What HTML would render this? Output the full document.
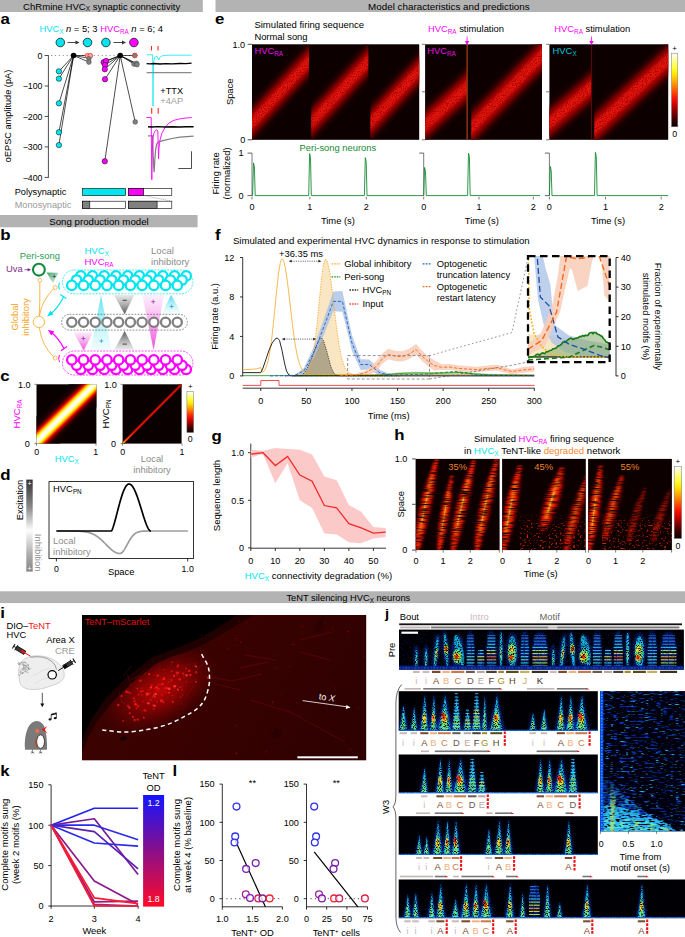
<!DOCTYPE html>
<html><head><meta charset="utf-8"><title>Figure</title>
<style>
html,body{margin:0;padding:0;background:#fff;}
body{width:685px;height:937px;overflow:hidden;font-family:"Liberation Sans",sans-serif;}
svg{display:block;position:absolute;left:0;top:0;}
svg text{font-family:"Liberation Sans",sans-serif;}
</style></head><body>
<svg width="685" height="937" viewBox="0 0 685 937">
<defs>
<linearGradient id="gcy1" gradientUnits="userSpaceOnUse" x1="0" y1="295" x2="0" y2="350"><stop offset="0" stop-color="#5fe3f0" stop-opacity="0.95"/><stop offset="0.45" stop-color="#9beef6" stop-opacity="0.8"/><stop offset="1" stop-color="#e2fafc" stop-opacity="0.5"/></linearGradient>
<linearGradient id="ggr1" gradientUnits="userSpaceOnUse" x1="0" y1="295" x2="0" y2="314.3"><stop offset="0" stop-color="#d9d9d9" stop-opacity="0.6"/><stop offset="1" stop-color="#555" stop-opacity="1"/></linearGradient>
<linearGradient id="gmg1" gradientUnits="userSpaceOnUse" x1="0" y1="295" x2="0" y2="350.3"><stop offset="0" stop-color="#fde8fb" stop-opacity="0.7"/><stop offset="0.45" stop-color="#f9a8ee" stop-opacity="0.9"/><stop offset="1" stop-color="#ee50dd" stop-opacity="1"/></linearGradient>
<linearGradient id="gcy2" gradientUnits="userSpaceOnUse" x1="0" y1="295" x2="0" y2="313.5"><stop offset="0" stop-color="#48d6ee" stop-opacity="1"/><stop offset="1" stop-color="#e8fbfd" stop-opacity="0.4"/></linearGradient>
<linearGradient id="gmg2" gradientUnits="userSpaceOnUse" x1="0" y1="332" x2="0" y2="350.8"><stop offset="0" stop-color="#fbe3f8" stop-opacity="0.7"/><stop offset="1" stop-color="#ee55dd" stop-opacity="1"/></linearGradient>
<linearGradient id="ggr2" gradientUnits="userSpaceOnUse" x1="0" y1="331" x2="0" y2="349.7"><stop offset="0" stop-color="#555" stop-opacity="1"/><stop offset="1" stop-color="#dcdcdc" stop-opacity="0.6"/></linearGradient>
<linearGradient id="ggn" gradientUnits="userSpaceOnUse" x1="47" y1="272" x2="60" y2="284"><stop offset="0" stop-color="#2c9a5c" stop-opacity="0.95"/><stop offset="1" stop-color="#cfeadb" stop-opacity="0.5"/></linearGradient>
<clipPath id="cpc1"><rect x="36.5" y="384.3" width="59.900000000000006" height="59.30000000000001"/></clipPath>
<linearGradient id="gband" x1="0" y1="0" x2="0" y2="1"><stop offset="0" stop-color="#0a0000"/><stop offset="0.03" stop-color="#0b0000"/><stop offset="0.06" stop-color="#0b0000"/><stop offset="0.08" stop-color="#0d0000"/><stop offset="0.11" stop-color="#0f0000"/><stop offset="0.14" stop-color="#130000"/><stop offset="0.17" stop-color="#1b0000"/><stop offset="0.19" stop-color="#260000"/><stop offset="0.22" stop-color="#390000"/><stop offset="0.25" stop-color="#5f0000"/><stop offset="0.28" stop-color="#950000"/><stop offset="0.31" stop-color="#dc0000"/><stop offset="0.33" stop-color="#ff2d00"/><stop offset="0.36" stop-color="#ff8300"/><stop offset="0.39" stop-color="#ffd900"/><stop offset="0.42" stop-color="#ffff3e"/><stop offset="0.44" stop-color="#ffffa1"/><stop offset="0.47" stop-color="#ffffe7"/><stop offset="0.5" stop-color="#ffffff"/><stop offset="0.53" stop-color="#ffffe7"/><stop offset="0.56" stop-color="#ffffa1"/><stop offset="0.58" stop-color="#ffff3e"/><stop offset="0.61" stop-color="#ffd900"/><stop offset="0.64" stop-color="#ff8300"/><stop offset="0.67" stop-color="#ff2d00"/><stop offset="0.69" stop-color="#dc0000"/><stop offset="0.72" stop-color="#950000"/><stop offset="0.75" stop-color="#5f0000"/><stop offset="0.78" stop-color="#390000"/><stop offset="0.81" stop-color="#260000"/><stop offset="0.83" stop-color="#1b0000"/><stop offset="0.86" stop-color="#130000"/><stop offset="0.89" stop-color="#0f0000"/><stop offset="0.92" stop-color="#0d0000"/><stop offset="0.94" stop-color="#0b0000"/><stop offset="0.97" stop-color="#0b0000"/><stop offset="1" stop-color="#0a0000"/></linearGradient>
<clipPath id="cpc2"><rect x="122.6" y="384.3" width="59.0" height="59.30000000000001"/></clipPath>
<linearGradient id="gdiag" gradientUnits="userSpaceOnUse" x1="122.6" y1="443.6" x2="181.6" y2="384.3"><stop offset="0" stop-color="#ffe000"/><stop offset="0.06" stop-color="#ff5a00"/><stop offset="0.2" stop-color="#e81800"/><stop offset="1" stop-color="#e01000"/></linearGradient>
<linearGradient id="cbc" x1="0" y1="1" x2="0" y2="0"><stop offset="0" stop-color="#0a0000"/><stop offset="0.1" stop-color="#3a0000"/><stop offset="0.2" stop-color="#830000"/><stop offset="0.3" stop-color="#ce0000"/><stop offset="0.4" stop-color="#ff1800"/><stop offset="0.5" stop-color="#ff5c00"/><stop offset="0.6" stop-color="#ff9f00"/><stop offset="0.7" stop-color="#ffe100"/><stop offset="0.8" stop-color="#ffff34"/><stop offset="0.9" stop-color="#ffff95"/><stop offset="1" stop-color="#ffffff"/></linearGradient>
<linearGradient id="gexc" x1="0" y1="0" x2="0" y2="1"><stop offset="0" stop-color="#333"/><stop offset="0.3" stop-color="#8a8a8a"/><stop offset="0.55" stop-color="#fdfdfd"/><stop offset="0.8" stop-color="#b0b0b0"/><stop offset="1" stop-color="#858585"/></linearGradient>
<filter id="blur3" x="-20%" y="-20%" width="140%" height="140%"><feGaussianBlur stdDeviation="3"/></filter>
<filter id="blur2" x="-20%" y="-20%" width="140%" height="140%"><feGaussianBlur stdDeviation="2.2"/></filter>
<filter id="blur15" x="-20%" y="-20%" width="140%" height="140%"><feGaussianBlur stdDeviation="1.8"/></filter>
<filter id="blur1" x="-20%" y="-20%" width="140%" height="140%"><feGaussianBlur stdDeviation="1"/></filter>
<filter id="graine" x="0" y="0" width="100%" height="100%" color-interpolation-filters="sRGB"><feTurbulence type="fractalNoise" baseFrequency="0.8 0.8" numOctaves="2" seed="2" result="n"/><feColorMatrix in="n" type="matrix" values="0 0 0 0 0  0 0 0 0 0  0 0 0 0 0  2.6 0 0 0 -0.55" result="m"/><feComposite in="SourceGraphic" in2="m" operator="in"/></filter>
<clipPath id="cpe1"><rect x="252" y="44.3" width="167.2" height="95.5"/></clipPath>
<clipPath id="cpe1_0"><rect x="252" y="44.3" width="57" height="95.5"/></clipPath>
<clipPath id="cpe1_1"><rect x="311.3" y="44.3" width="57" height="95.5"/></clipPath>
<clipPath id="cpe1_2"><rect x="370.5" y="44.3" width="48.7" height="95.5"/></clipPath>
<clipPath id="cpe2"><rect x="425.1" y="44.3" width="116.9" height="95.5"/></clipPath>
<clipPath id="cpe2_0"><rect x="425.1" y="44.3" width="41.5" height="95.5"/></clipPath>
<clipPath id="cpe2_1"><rect x="471.3" y="44.3" width="71.1" height="95.5"/></clipPath>
<clipPath id="cpe3"><rect x="549.4" y="44.3" width="118.8" height="95.5"/></clipPath>
<clipPath id="cpe3_0"><rect x="549.4" y="44.3" width="41.8" height="95.5"/></clipPath>
<clipPath id="cpe3_1"><rect x="594.3" y="44.3" width="73.9" height="95.5"/></clipPath>
<linearGradient id="cbe" x1="0" y1="1" x2="0" y2="0"><stop offset="0" stop-color="#0a0000"/><stop offset="0.1" stop-color="#3a0000"/><stop offset="0.2" stop-color="#830000"/><stop offset="0.3" stop-color="#ce0000"/><stop offset="0.4" stop-color="#ff1800"/><stop offset="0.5" stop-color="#ff5c00"/><stop offset="0.6" stop-color="#ff9f00"/><stop offset="0.7" stop-color="#ffe100"/><stop offset="0.8" stop-color="#ffff34"/><stop offset="0.9" stop-color="#ffff95"/><stop offset="1" stop-color="#ffffff"/></linearGradient>
<clipPath id="cpf"><rect x="528" y="256.1" width="81.70000000000005" height="106.09999999999997"/></clipPath>
<clipPath id="cph0"><rect x="415.6" y="458.9" width="84" height="91.2"/></clipPath>
<clipPath id="cph1"><rect x="502.1" y="458.9" width="83.7" height="91.2"/></clipPath>
<clipPath id="cph2"><rect x="588.1" y="458.9" width="83.8" height="91.2"/></clipPath>
<filter id="noiseh" x="0" y="0" width="100%" height="100%"><feTurbulence type="fractalNoise" baseFrequency="0.35 0.5" numOctaves="2" seed="4"/><feColorMatrix type="matrix" values="0 0 0 0 0.85  0 0 0 0 0.12  0 0 0 0 0  2.2 0 0 0 -1.05"/></filter>
<filter id="grainh" x="0" y="0" width="100%" height="100%" color-interpolation-filters="sRGB"><feTurbulence type="fractalNoise" baseFrequency="0.1 1.3" numOctaves="1" seed="5" result="n"/><feColorMatrix in="n" type="matrix" values="0 0 0 0 0  0 0 0 0 0  0 0 0 0 0  3.2 0 0 0 -0.85" result="m"/><feComposite in="SourceGraphic" in2="m" operator="in"/></filter>
<filter id="grainh2" x="0" y="0" width="100%" height="100%" color-interpolation-filters="sRGB"><feTurbulence type="fractalNoise" baseFrequency="0.45 0.6" numOctaves="1" seed="8" result="n"/><feColorMatrix in="n" type="matrix" values="0 0 0 0 0  0 0 0 0 0  0 0 0 0 0  5 0 0 0 -2.85" result="m"/><feComposite in="SourceGraphic" in2="m" operator="in"/></filter>
<linearGradient id="gnz" gradientUnits="userSpaceOnUse" x1="0" y1="512" x2="0" y2="550"><stop offset="0" stop-color="#e02000" stop-opacity="0"/><stop offset="0.35" stop-color="#e82800" stop-opacity="0.9"/><stop offset="1" stop-color="#f03000" stop-opacity="1"/></linearGradient>
<linearGradient id="cbh" x1="0" y1="1" x2="0" y2="0"><stop offset="0" stop-color="#0a0000"/><stop offset="0.1" stop-color="#3a0000"/><stop offset="0.2" stop-color="#830000"/><stop offset="0.3" stop-color="#ce0000"/><stop offset="0.4" stop-color="#ff1800"/><stop offset="0.5" stop-color="#ff5c00"/><stop offset="0.6" stop-color="#ff9f00"/><stop offset="0.7" stop-color="#ffe100"/><stop offset="0.8" stop-color="#ffff34"/><stop offset="0.9" stop-color="#ffff95"/><stop offset="1" stop-color="#ffffff"/></linearGradient>
<clipPath id="cpi"><rect x="82" y="615" width="284.2" height="145.29999999999995"/></clipPath>
<radialGradient id="ghvc" gradientUnits="userSpaceOnUse" cx="160" cy="690" r="66" gradientTransform="translate(160 690) rotate(-30) scale(1 0.55) translate(-160 -690)"><stop offset="0" stop-color="#bc0606" stop-opacity="1"/><stop offset="0.45" stop-color="#8a0303" stop-opacity="0.85"/><stop offset="0.8" stop-color="#600202" stop-opacity="0.4"/><stop offset="1" stop-color="#400101" stop-opacity="0"/></radialGradient>
<linearGradient id="gbg" x1="0" y1="0" x2="1" y2="0.3"><stop offset="0" stop-color="#3c0202"/><stop offset="0.5" stop-color="#3a0101"/><stop offset="1" stop-color="#300101"/></linearGradient>
<linearGradient id="gtent" x1="0" y1="0" x2="0" y2="1"><stop offset="0" stop-color="#1414ff"/><stop offset="0.5" stop-color="#8a0f8a"/><stop offset="1" stop-color="#ff0a28"/></linearGradient>
<filter id="grainj" x="0" y="0" width="100%" height="100%" color-interpolation-filters="sRGB"><feTurbulence type="fractalNoise" baseFrequency="1.4 0.95" numOctaves="2" seed="7" result="n"/><feColorMatrix in="n" type="matrix" values="0 0 0 0 0  0 0 0 0 0  0 0 0 0 0  3.6 0 0 0 -1" result="m"/><feComposite in="SourceGraphic" in2="m" operator="in"/></filter>
<filter id="grainhz" x="0" y="0" width="100%" height="100%" color-interpolation-filters="sRGB"><feTurbulence type="fractalNoise" baseFrequency="0.6 0.6" numOctaves="1" seed="12" result="n"/><feColorMatrix in="n" type="matrix" values="0 0 0 0 0  0 0 0 0 0  0 0 0 0 0  5 0 0 0 -2.9" result="m"/><feComposite in="SourceGraphic" in2="m" operator="in"/></filter>
<linearGradient id="ghz" x1="0" y1="0" x2="0" y2="1"><stop offset="0" stop-color="#0a2cb0" stop-opacity="0.25"/><stop offset="1" stop-color="#0a2cb0" stop-opacity="0.85"/></linearGradient>
<filter id="grainj2" x="0" y="0" width="100%" height="100%" color-interpolation-filters="sRGB"><feTurbulence type="fractalNoise" baseFrequency="0.5 0.05" numOctaves="1" seed="3" result="n"/><feColorMatrix in="n" type="matrix" values="0 0 0 0 0  0 0 0 0 0  0 0 0 0 0  3 0 0 0 -0.35" result="m"/><feComposite in="SourceGraphic" in2="m" operator="in"/></filter>
<filter id="blurh" x="-30%" y="-30%" width="160%" height="160%"><feGaussianBlur stdDeviation="0.6"/></filter>
<clipPath id="cpj0"><rect x="399" y="629.6" width="284.9" height="40.1"/></clipPath>
<clipPath id="cpj1"><rect x="398.7" y="691.2" width="199.1" height="39.7"/></clipPath>
<clipPath id="cpj2"><rect x="398.7" y="754.5" width="199.1" height="38.7"/></clipPath>
<clipPath id="cpj3"><rect x="398.7" y="816.2" width="199.1" height="38.8"/></clipPath>
<clipPath id="cpj4"><rect x="398.7" y="879.5" width="286.3" height="38.7"/></clipPath>
<clipPath id="cpjr"><rect x="600" y="691.1" width="85" height="140.29999999999995"/></clipPath>
<filter id="stk1" x="0" y="0" width="100%" height="100%" color-interpolation-filters="sRGB"><feTurbulence type="fractalNoise" baseFrequency="0.16 0.62" numOctaves="1" seed="11" result="n"/><feColorMatrix in="n" type="matrix" values="0 0 0 0 0  0 0 0 0 0  0 0 0 0 0  6 0 0 0 -3.4" result="m"/><feComposite in="SourceGraphic" in2="m" operator="in"/></filter>
<filter id="stk2" x="0" y="0" width="100%" height="100%" color-interpolation-filters="sRGB"><feTurbulence type="fractalNoise" baseFrequency="0.2 0.7" numOctaves="1" seed="23" result="n"/><feColorMatrix in="n" type="matrix" values="0 0 0 0 0  0 0 0 0 0  0 0 0 0 0  7 0 0 0 -4.55" result="m"/><feComposite in="SourceGraphic" in2="m" operator="in"/></filter>
<filter id="stk3" x="0" y="0" width="100%" height="100%" color-interpolation-filters="sRGB"><feTurbulence type="fractalNoise" baseFrequency="0.22 0.7" numOctaves="1" seed="31" result="n"/><feColorMatrix in="n" type="matrix" values="0 0 0 0 0  0 0 0 0 0  0 0 0 0 0  7 0 0 0 -5" result="m"/><feComposite in="SourceGraphic" in2="m" operator="in"/></filter>
<filter id="stk5" x="0" y="0" width="100%" height="100%" color-interpolation-filters="sRGB"><feTurbulence type="fractalNoise" baseFrequency="0.2 0.66" numOctaves="1" seed="53" result="n"/><feColorMatrix in="n" type="matrix" values="0 0 0 0 0  0 0 0 0 0  0 0 0 0 0  6 0 0 0 -2.95" result="m"/><feComposite in="SourceGraphic" in2="m" operator="in"/></filter>
<filter id="stk4" x="0" y="0" width="100%" height="100%" color-interpolation-filters="sRGB"><feTurbulence type="fractalNoise" baseFrequency="0.25 0.66" numOctaves="1" seed="41" result="n"/><feColorMatrix in="n" type="matrix" values="0 0 0 0 0  0 0 0 0 0  0 0 0 0 0  5 0 0 0 -1.8" result="m"/><feComposite in="SourceGraphic" in2="m" operator="in"/></filter>
<linearGradient id="grl" x1="0" y1="0" x2="1" y2="0"><stop offset="0" stop-color="#0c3ee0" stop-opacity="1"/><stop offset="0.25" stop-color="#0c3ee0" stop-opacity="0.95"/><stop offset="1" stop-color="#0c3ee0" stop-opacity="0.6"/></linearGradient>
<linearGradient id="gwd" gradientUnits="userSpaceOnUse" x1="0" y1="780" x2="0" y2="831"><stop offset="0" stop-color="#0c3ee0" stop-opacity="0.3"/><stop offset="1" stop-color="#1050f0" stop-opacity="1"/></linearGradient>
<linearGradient id="gwd2" gradientUnits="userSpaceOnUse" x1="0" y1="785" x2="0" y2="831"><stop offset="0" stop-color="#28c8e8" stop-opacity="0.3"/><stop offset="1" stop-color="#40e0e8" stop-opacity="1"/></linearGradient>
<linearGradient id="ghc" gradientUnits="userSpaceOnUse" x1="0" y1="790" x2="0" y2="831"><stop offset="0" stop-color="#70e070" stop-opacity="0.1"/><stop offset="0.5" stop-color="#b8f048" stop-opacity="0.9"/><stop offset="1" stop-color="#ffe030" stop-opacity="1"/></linearGradient>
</defs>
<rect x="0" y="0" width="202.8" height="12" fill="#b3b3b3"/>
<text x="23.1" y="9.6" font-size="9.4" fill="#000" textLength="157.2" lengthAdjust="spacingAndGlyphs">ChRmine HVC<tspan font-size="6.3" dy="1.8">X</tspan><tspan dy="-1.8" font-size="1">&#8203;</tspan> synaptic connectivity</text>
<rect x="215.5" y="0" width="470" height="12" fill="#b3b3b3"/>
<text x="368.1" y="9.6" font-size="9.4" fill="#000" textLength="161.6" lengthAdjust="spacingAndGlyphs">Model characteristics and predictions</text>
<rect x="0" y="215" width="197.6" height="12.3" fill="#b3b3b3"/>
<text x="49.3" y="224.6" font-size="9.4" fill="#000" textLength="99.4" lengthAdjust="spacingAndGlyphs">Song production model</text>
<rect x="0" y="591.3" width="685" height="11.8" fill="#b3b3b3"/>
<text x="286.4" y="600.8" font-size="9.4" fill="#000" textLength="123.9" lengthAdjust="spacingAndGlyphs">TeNT silencing HVC<tspan font-size="6.3" dy="1.8">X</tspan><tspan dy="-1.8" font-size="1">&#8203;</tspan> neurons</text>
<text x="0.5" y="23.5" font-size="14.5" fill="#000" font-weight="bold" textLength="9.35" lengthAdjust="spacingAndGlyphs">a</text>
<text x="39.4" y="32.3" font-size="9.4" fill="#000"><tspan fill="#00e5ee">HVC<tspan font-size="6.3" dy="2">X</tspan><tspan dy="-2" font-size="1">&#8203;</tspan></tspan> <tspan font-style="italic">n</tspan> = 5; 3 <tspan fill="#ff00ff">HVC<tspan font-size="6.3" dy="2">RA</tspan><tspan dy="-2" font-size="1">&#8203;</tspan></tspan> <tspan font-style="italic">n</tspan> = 6; 4</text>
<circle cx="60.3" cy="42.5" r="4.3" fill="#00e5ee" stroke="#000" stroke-width="0.7"/>
<circle cx="87.5" cy="42.5" r="4.3" fill="#00e5ee" stroke="#000" stroke-width="0.7"/>
<circle cx="105.9" cy="42.5" r="4.3" fill="#00e5ee" stroke="#000" stroke-width="0.7"/>
<circle cx="133.9" cy="42.5" r="4.3" fill="#ff00ff" stroke="#000" stroke-width="0.7"/>
<line x1="67.5" y1="42.5" x2="77" y2="42.5" stroke="#333" stroke-width="0.9"/>
<path d="M79.5 42.5 l-4 -2 l0 4z" fill="#333" stroke="none" stroke-width="0.6"/>
<line x1="113.5" y1="42.5" x2="123.5" y2="42.5" stroke="#333" stroke-width="0.9"/>
<path d="M126 42.5 l-4 -2 l0 4z" fill="#333" stroke="none" stroke-width="0.6"/>
<line x1="48.4" y1="55.2" x2="48.4" y2="177.7" stroke="#000" stroke-width="0.7"/>
<line x1="44.6" y1="55.5" x2="48.4" y2="55.5" stroke="#000" stroke-width="0.7"/>
<text x="42.5" y="58.6" font-size="8.8" fill="#000" text-anchor="end">0</text>
<line x1="44.6" y1="85.97" x2="48.4" y2="85.97" stroke="#000" stroke-width="0.7"/>
<text x="42.5" y="89.07" font-size="8.8" fill="#000" text-anchor="end">&#8722;100</text>
<line x1="44.6" y1="116.45" x2="48.4" y2="116.45" stroke="#000" stroke-width="0.7"/>
<text x="42.5" y="119.55" font-size="8.8" fill="#000" text-anchor="end">&#8722;200</text>
<line x1="44.6" y1="146.93" x2="48.4" y2="146.93" stroke="#000" stroke-width="0.7"/>
<text x="42.5" y="150.03" font-size="8.8" fill="#000" text-anchor="end">&#8722;300</text>
<line x1="44.6" y1="177.4" x2="48.4" y2="177.4" stroke="#000" stroke-width="0.7"/>
<text x="42.5" y="180.5" font-size="8.8" fill="#000" text-anchor="end">&#8722;400</text>
<text x="10.5" y="116" font-size="9.2" fill="#000" text-anchor="middle" transform="rotate(-90 10.5 116)">oEPSC amplitude (pA)</text>
<line x1="51" y1="55.5" x2="140" y2="55.5" stroke="#999" stroke-width="1.1" stroke-dasharray="1.2 2.7"/>
<line x1="58.9" y1="71.35" x2="73.6" y2="55.5" stroke="#000" stroke-width="0.7"/>
<line x1="58.9" y1="78.66" x2="73.6" y2="55.5" stroke="#000" stroke-width="0.7"/>
<line x1="58.9" y1="103.35" x2="73.6" y2="55.5" stroke="#000" stroke-width="0.7"/>
<line x1="58.9" y1="132.3" x2="73.6" y2="55.5" stroke="#000" stroke-width="0.7"/>
<line x1="58.9" y1="145.1" x2="73.6" y2="55.5" stroke="#000" stroke-width="0.7"/>
<line x1="73.6" y1="55.5" x2="88.8" y2="55.5" stroke="#000" stroke-width="0.7"/>
<line x1="73.6" y1="55.5" x2="88.8" y2="58.2" stroke="#000" stroke-width="0.7"/>
<line x1="73.6" y1="55.5" x2="88.8" y2="62" stroke="#000" stroke-width="0.7"/>
<line x1="103.6" y1="62.2" x2="120.2" y2="55.5" stroke="#000" stroke-width="0.7"/>
<line x1="106" y1="60.99" x2="120.2" y2="55.5" stroke="#000" stroke-width="0.7"/>
<line x1="105" y1="64.95" x2="120.2" y2="55.5" stroke="#000" stroke-width="0.7"/>
<line x1="104.8" y1="69.21" x2="120.2" y2="55.5" stroke="#000" stroke-width="0.7"/>
<line x1="105" y1="79.27" x2="120.2" y2="55.5" stroke="#000" stroke-width="0.7"/>
<line x1="104.8" y1="161.25" x2="120.2" y2="55.5" stroke="#000" stroke-width="0.7"/>
<line x1="120.2" y1="55.5" x2="134.8" y2="55.5" stroke="#000" stroke-width="0.7"/>
<line x1="120.2" y1="55.5" x2="134" y2="64.03" stroke="#000" stroke-width="0.7"/>
<line x1="120.2" y1="55.5" x2="136.5" y2="63.42" stroke="#000" stroke-width="0.7"/>
<line x1="120.2" y1="55.5" x2="135.2" y2="121.94" stroke="#000" stroke-width="0.7"/>
<line x1="120.2" y1="55.5" x2="137" y2="64.64" stroke="#000" stroke-width="0.7"/>
<circle cx="58.9" cy="71.35" r="2.7" fill="#00e5ee" stroke="#000" stroke-width="0.5"/>
<circle cx="58.9" cy="78.66" r="2.7" fill="#00e5ee" stroke="#000" stroke-width="0.5"/>
<circle cx="58.9" cy="103.35" r="2.7" fill="#00e5ee" stroke="#000" stroke-width="0.5"/>
<circle cx="58.9" cy="132.3" r="2.7" fill="#00e5ee" stroke="#000" stroke-width="0.5"/>
<circle cx="58.9" cy="145.1" r="2.7" fill="#00e5ee" stroke="#000" stroke-width="0.5"/>
<circle cx="87.4" cy="55.8" r="2.4" fill="#f4a9a0" stroke="#e03a2e" stroke-width="0.8"/>
<circle cx="90.3" cy="55.8" r="2.4" fill="#f4a9a0" stroke="#e03a2e" stroke-width="0.8"/>
<circle cx="88.9" cy="58.8" r="2.3" fill="#808080" stroke="#444" stroke-width="0.5"/>
<circle cx="88.9" cy="62.1" r="2.4" fill="#808080" stroke="#444" stroke-width="0.5"/>
<circle cx="73.6" cy="55.5" r="2.8" fill="#000"/>
<circle cx="103.6" cy="62.2" r="2.7" fill="#ff00ff" stroke="#000" stroke-width="0.5"/>
<circle cx="106" cy="60.99" r="2.7" fill="#ff00ff" stroke="#000" stroke-width="0.5"/>
<circle cx="105" cy="64.95" r="2.7" fill="#ff00ff" stroke="#000" stroke-width="0.5"/>
<circle cx="104.8" cy="69.21" r="2.7" fill="#ff00ff" stroke="#000" stroke-width="0.5"/>
<circle cx="105" cy="79.27" r="2.7" fill="#ff00ff" stroke="#000" stroke-width="0.5"/>
<circle cx="104.8" cy="161.25" r="2.7" fill="#ff00ff" stroke="#000" stroke-width="0.5"/>
<circle cx="134.8" cy="55.5" r="2.4" fill="#808080" stroke="#e03a2e" stroke-width="0.9"/>
<circle cx="134" cy="64.03" r="2.4" fill="#808080" stroke="#444" stroke-width="0.5"/>
<circle cx="136.5" cy="63.42" r="2.4" fill="#808080" stroke="#444" stroke-width="0.5"/>
<circle cx="135.2" cy="121.94" r="2.4" fill="#808080" stroke="#444" stroke-width="0.5"/>
<circle cx="137" cy="64.64" r="2.4" fill="#808080" stroke="#444" stroke-width="0.5"/>
<circle cx="120.2" cy="55.5" r="2.8" fill="#000"/>
<line x1="151.5" y1="46" x2="151.5" y2="50.5" stroke="#ff2a1a" stroke-width="1.1"/>
<line x1="158" y1="46" x2="158" y2="50.5" stroke="#ff2a1a" stroke-width="1.1"/>
<path d="M146.6 54.8 L152.6 54.8 L152.9 80 L153 106 L153.2 80 L153.7 62 L154.6 57.5 L157 56.2 L158.2 58.5 L158.8 60 L159.8 57.5 L162 55.8 L168 55.2 L191.6 55.2" fill="none" stroke="#00e5ee" stroke-width="0.75"/>
<path d="M146.6 63.6 L150 63.9 L154 63.5 L160 64 L166 63.6 L172 63.9 L180 63.5 L186 63.7 L191.6 63.2" fill="none" stroke="#000" stroke-width="1.3"/>
<path d="M146.6 72.7 L191.6 72.6" fill="none" stroke="#8a8a8a" stroke-width="1.2"/>
<text x="160.3" y="93.7" font-size="9.2" fill="#000">+TTX</text>
<text x="160.3" y="104.3" font-size="9.2" fill="#a0a0a0">+4AP</text>
<line x1="151.7" y1="108" x2="151.7" y2="113.8" stroke="#ff2a1a" stroke-width="1.1"/>
<line x1="158.2" y1="108" x2="158.2" y2="113.8" stroke="#ff2a1a" stroke-width="1.1"/>
<path d="M148 135.9 L152.6 135.9 L153 150 L153.6 165 L154.2 172.3 L154.8 160 L155.6 150 L156.6 144.5 L157.8 142.5 L160 141.3 L165 140.2 L172 138.5 L180 137.2 L193.6 136.2" fill="none" stroke="#808080" stroke-width="1.25"/>
<path d="M146.3 117.5 L151.2 117.5 L151.5 150 L151.8 179.7 L152.3 150 L153.2 136 L154.5 131.5 L156.8 129.8 L157.8 131 L158.2 145 L158.5 159 L159 148 L160 140 L162 133 L165 127.5 L169 123 L174 120.3 L180 118.8 L186 118 L191.8 117.6" fill="none" stroke="#ff00ff" stroke-width="0.9"/>
<path d="M148 126.8 L152 127 L158 126.6 L165 127 L172 126.7 L180 127 L186 126.7 L193.6 126.8" fill="none" stroke="#000" stroke-width="1.4"/>
<path d="M178.3 168.5 L191.5 168.5 L191.5 151.3" fill="none" stroke="#222" stroke-width="0.8"/>
<text x="14.7" y="194.8" font-size="9.2" fill="#000">Polysynaptic</text>
<text x="14.7" y="208" font-size="9.2" fill="#9a9a9a">Monosynaptic</text>
<rect x="82.6" y="188.6" width="43" height="6.9" fill="#00e5ee" stroke="#000" stroke-width="0.6"/>
<rect x="128.5" y="188.6" width="43.3" height="6.9" fill="#fff" stroke="#000" stroke-width="0.6"/>
<rect x="128.5" y="188.6" width="15.2" height="6.9" fill="#ff00ff" stroke="#000" stroke-width="0.6"/>
<rect x="82.6" y="201.2" width="43" height="7.4" fill="#fff" stroke="#000" stroke-width="0.6"/>
<rect x="82.6" y="201.2" width="7.2" height="7.4" fill="#808080" stroke="#000" stroke-width="0.6"/>
<rect x="128.5" y="201.2" width="43.3" height="7.4" fill="#fff" stroke="#000" stroke-width="0.6"/>
<rect x="128.5" y="201.2" width="28.6" height="7.4" fill="#808080" stroke="#000" stroke-width="0.6"/>
<line x1="143.7" y1="195.5" x2="171.8" y2="201.2" stroke="#555" stroke-width="0.5" stroke-dasharray="1 1"/>
<line x1="82.6" y1="198.3" x2="171.8" y2="198.3" stroke="#bbb" stroke-width="0.4" stroke-dasharray="0.8 1.2"/>
<text x="0.3" y="240.4" font-size="14.5" fill="#000" font-weight="bold" textLength="10.28" lengthAdjust="spacingAndGlyphs">b</text>
<text x="19.8" y="259.2" font-size="9.4" fill="#1f9d55">Peri-song</text>
<text x="6.1" y="271.6" font-size="9.4" fill="#7b2d8b">Uva</text>
<line x1="24.5" y1="269.7" x2="28" y2="269.7" stroke="#7b2d8b" stroke-width="0.8"/>
<path d="M31 269.7 l-3.4 -1.7 l0 3.4z" fill="#7b2d8b" stroke="none" stroke-width="0.6"/>
<text x="84.4" y="253.6" font-size="9.6" fill="#00e5ee">HVC<tspan font-size="6.3" dy="2">X</tspan><tspan dy="-2" font-size="1">&#8203;</tspan></text>
<text x="84.4" y="264.9" font-size="9.6" fill="#ff00ff">HVC<tspan font-size="6.3" dy="2">RA</tspan><tspan dy="-2" font-size="1">&#8203;</tspan></text>
<text x="151" y="253.6" font-size="9.6" fill="#8c8c8c">Local</text>
<text x="151" y="264.9" font-size="9.6" fill="#8c8c8c">inhibitory</text>
<text x="17.5" y="317" font-size="9.4" fill="#f5a623" text-anchor="middle" transform="rotate(-90 17.5 317)">Global</text>
<text x="28.5" y="317" font-size="9.4" fill="#f5a623" text-anchor="middle" transform="rotate(-90 28.5 317)">inhibitory</text>
<path d="M101 295 L111.5 350 L90.5 350Z" fill="url(#gcy1)" stroke="none" stroke-width="0.6"/>
<path d="M114 295 L134.3 295 L124.7 314.3Z" fill="url(#ggr1)" stroke="none" stroke-width="0.6"/>
<path d="M142.2 295 L164 295 L153.6 350.3Z" fill="url(#gmg1)" stroke="none" stroke-width="0.6"/>
<path d="M171.1 295 L181.6 313.8 L161.5 313.8Z" fill="url(#gcy2)" stroke="none" stroke-width="0.6"/>
<path d="M73.6 332.4 L92.9 332.4 L83.7 350.8Z" fill="url(#gmg2)" stroke="none" stroke-width="0.6"/>
<path d="M124.7 331 L134.3 349.7 L114.2 349.7Z" fill="url(#ggr2)" stroke="none" stroke-width="0.6"/>
<path d="M46.5 272.5 L58.5 272.8 L53 283Z" fill="url(#ggn)" stroke="none" stroke-width="0.6"/>
<text x="54.2" y="279.3" font-size="7.5" fill="#222" text-anchor="middle">+</text>
<line x1="122.6" y1="300.3" x2="126.8" y2="300.3" stroke="#222" stroke-width="0.8"/>
<line x1="122.6" y1="344.1" x2="126.8" y2="344.1" stroke="#222" stroke-width="0.8"/>
<line x1="151.2" y1="301.7" x2="155.2" y2="301.7" stroke="#8e2f9e" stroke-width="0.7"/>
<line x1="153.2" y1="299.7" x2="153.2" y2="303.7" stroke="#8e2f9e" stroke-width="0.7"/>
<line x1="169.6" y1="306.5" x2="173.6" y2="306.5" stroke="#1e9bd0" stroke-width="0.7"/>
<line x1="171.6" y1="304.5" x2="171.6" y2="308.5" stroke="#1e9bd0" stroke-width="0.7"/>
<line x1="81.3" y1="338.5" x2="85.3" y2="338.5" stroke="#8e2f9e" stroke-width="0.7"/>
<line x1="83.3" y1="336.5" x2="83.3" y2="340.5" stroke="#8e2f9e" stroke-width="0.7"/>
<line x1="99.4" y1="341" x2="103.4" y2="341" stroke="#1e9bd0" stroke-width="0.7"/>
<line x1="101.4" y1="339" x2="101.4" y2="343" stroke="#1e9bd0" stroke-width="0.7"/>
<rect x="62.4" y="270" width="130.5" height="23.8" fill="none" stroke="#00e5ee" rx="11.9" stroke-dasharray="2 1.2" stroke-width="0.7"/>
<circle cx="80.8" cy="275.9" r="4.7" fill="#fff" stroke="#00e5ee" stroke-width="2.3"/>
<circle cx="92.52" cy="275.9" r="4.7" fill="#fff" stroke="#00e5ee" stroke-width="2.3"/>
<circle cx="104.24" cy="275.9" r="4.7" fill="#fff" stroke="#00e5ee" stroke-width="2.3"/>
<circle cx="115.96" cy="275.9" r="4.7" fill="#fff" stroke="#00e5ee" stroke-width="2.3"/>
<circle cx="127.68" cy="275.9" r="4.7" fill="#fff" stroke="#00e5ee" stroke-width="2.3"/>
<circle cx="139.4" cy="275.9" r="4.7" fill="#fff" stroke="#00e5ee" stroke-width="2.3"/>
<circle cx="151.12" cy="275.9" r="4.7" fill="#fff" stroke="#00e5ee" stroke-width="2.3"/>
<circle cx="162.84" cy="275.9" r="4.7" fill="#fff" stroke="#00e5ee" stroke-width="2.3"/>
<circle cx="174.56" cy="275.9" r="4.7" fill="#fff" stroke="#00e5ee" stroke-width="2.3"/>
<circle cx="186.28" cy="275.9" r="4.7" fill="#fff" stroke="#00e5ee" stroke-width="2.3"/>
<circle cx="76.6" cy="280" r="4.7" fill="#fff" stroke="#00e5ee" stroke-width="2.3"/>
<circle cx="88.32" cy="280" r="4.7" fill="#fff" stroke="#00e5ee" stroke-width="2.3"/>
<circle cx="100.04" cy="280" r="4.7" fill="#fff" stroke="#00e5ee" stroke-width="2.3"/>
<circle cx="111.76" cy="280" r="4.7" fill="#fff" stroke="#00e5ee" stroke-width="2.3"/>
<circle cx="123.48" cy="280" r="4.7" fill="#fff" stroke="#00e5ee" stroke-width="2.3"/>
<circle cx="135.2" cy="280" r="4.7" fill="#fff" stroke="#00e5ee" stroke-width="2.3"/>
<circle cx="146.92" cy="280" r="4.7" fill="#fff" stroke="#00e5ee" stroke-width="2.3"/>
<circle cx="158.64" cy="280" r="4.7" fill="#fff" stroke="#00e5ee" stroke-width="2.3"/>
<circle cx="170.36" cy="280" r="4.7" fill="#fff" stroke="#00e5ee" stroke-width="2.3"/>
<circle cx="182.08" cy="280" r="4.7" fill="#fff" stroke="#00e5ee" stroke-width="2.3"/>
<circle cx="71.8" cy="285.4" r="4.7" fill="#fff" stroke="#00e5ee" stroke-width="2.3"/>
<circle cx="83.52" cy="285.4" r="4.7" fill="#fff" stroke="#00e5ee" stroke-width="2.3"/>
<circle cx="95.24" cy="285.4" r="4.7" fill="#fff" stroke="#00e5ee" stroke-width="2.3"/>
<circle cx="106.96" cy="285.4" r="4.7" fill="#fff" stroke="#00e5ee" stroke-width="2.3"/>
<circle cx="118.68" cy="285.4" r="4.7" fill="#fff" stroke="#00e5ee" stroke-width="2.3"/>
<circle cx="130.4" cy="285.4" r="4.7" fill="#fff" stroke="#00e5ee" stroke-width="2.3"/>
<circle cx="142.12" cy="285.4" r="4.7" fill="#fff" stroke="#00e5ee" stroke-width="2.3"/>
<circle cx="153.84" cy="285.4" r="4.7" fill="#fff" stroke="#00e5ee" stroke-width="2.3"/>
<circle cx="165.56" cy="285.4" r="4.7" fill="#fff" stroke="#00e5ee" stroke-width="2.3"/>
<circle cx="177.28" cy="285.4" r="4.7" fill="#fff" stroke="#00e5ee" stroke-width="2.3"/>
<path d="M69.5 314.3 L179.5 314.3 A7.9 7.9 0 0 1 179.5 330.1 L69.5 330.1 A7.9 7.9 0 0 1 69.5 314.3Z" fill="none" stroke="#444" stroke-width="0.6" stroke-dasharray="1.8 1.3"/>
<circle cx="71.8" cy="322.2" r="4.6" fill="#fff" stroke="#808080" stroke-width="2.3"/>
<circle cx="83.52" cy="322.2" r="4.6" fill="#fff" stroke="#808080" stroke-width="2.3"/>
<circle cx="95.24" cy="322.2" r="4.6" fill="#fff" stroke="#808080" stroke-width="2.3"/>
<circle cx="106.96" cy="322.2" r="4.6" fill="#fff" stroke="#808080" stroke-width="2.3"/>
<circle cx="118.68" cy="322.2" r="4.6" fill="#fff" stroke="#808080" stroke-width="2.3"/>
<circle cx="130.4" cy="322.2" r="4.6" fill="#fff" stroke="#808080" stroke-width="2.3"/>
<circle cx="142.12" cy="322.2" r="4.6" fill="#fff" stroke="#808080" stroke-width="2.3"/>
<circle cx="153.84" cy="322.2" r="4.6" fill="#fff" stroke="#808080" stroke-width="2.3"/>
<circle cx="165.56" cy="322.2" r="4.6" fill="#fff" stroke="#808080" stroke-width="2.3"/>
<circle cx="177.28" cy="322.2" r="4.6" fill="#fff" stroke="#808080" stroke-width="2.3"/>
<rect x="62.4" y="351" width="130.5" height="24" fill="none" stroke="#ff00ff" rx="12" stroke-dasharray="2 1.2" stroke-width="0.7"/>
<circle cx="80.8" cy="369.4" r="4.7" fill="#fff" stroke="#ff00ff" stroke-width="2.3"/>
<circle cx="92.52" cy="369.4" r="4.7" fill="#fff" stroke="#ff00ff" stroke-width="2.3"/>
<circle cx="104.24" cy="369.4" r="4.7" fill="#fff" stroke="#ff00ff" stroke-width="2.3"/>
<circle cx="115.96" cy="369.4" r="4.7" fill="#fff" stroke="#ff00ff" stroke-width="2.3"/>
<circle cx="127.68" cy="369.4" r="4.7" fill="#fff" stroke="#ff00ff" stroke-width="2.3"/>
<circle cx="139.4" cy="369.4" r="4.7" fill="#fff" stroke="#ff00ff" stroke-width="2.3"/>
<circle cx="151.12" cy="369.4" r="4.7" fill="#fff" stroke="#ff00ff" stroke-width="2.3"/>
<circle cx="162.84" cy="369.4" r="4.7" fill="#fff" stroke="#ff00ff" stroke-width="2.3"/>
<circle cx="174.56" cy="369.4" r="4.7" fill="#fff" stroke="#ff00ff" stroke-width="2.3"/>
<circle cx="186.28" cy="369.4" r="4.7" fill="#fff" stroke="#ff00ff" stroke-width="2.3"/>
<circle cx="76.6" cy="365.3" r="4.7" fill="#fff" stroke="#ff00ff" stroke-width="2.3"/>
<circle cx="88.32" cy="365.3" r="4.7" fill="#fff" stroke="#ff00ff" stroke-width="2.3"/>
<circle cx="100.04" cy="365.3" r="4.7" fill="#fff" stroke="#ff00ff" stroke-width="2.3"/>
<circle cx="111.76" cy="365.3" r="4.7" fill="#fff" stroke="#ff00ff" stroke-width="2.3"/>
<circle cx="123.48" cy="365.3" r="4.7" fill="#fff" stroke="#ff00ff" stroke-width="2.3"/>
<circle cx="135.2" cy="365.3" r="4.7" fill="#fff" stroke="#ff00ff" stroke-width="2.3"/>
<circle cx="146.92" cy="365.3" r="4.7" fill="#fff" stroke="#ff00ff" stroke-width="2.3"/>
<circle cx="158.64" cy="365.3" r="4.7" fill="#fff" stroke="#ff00ff" stroke-width="2.3"/>
<circle cx="170.36" cy="365.3" r="4.7" fill="#fff" stroke="#ff00ff" stroke-width="2.3"/>
<circle cx="182.08" cy="365.3" r="4.7" fill="#fff" stroke="#ff00ff" stroke-width="2.3"/>
<circle cx="71.8" cy="359.9" r="4.7" fill="#fff" stroke="#ff00ff" stroke-width="2.3"/>
<circle cx="83.52" cy="359.9" r="4.7" fill="#fff" stroke="#ff00ff" stroke-width="2.3"/>
<circle cx="95.24" cy="359.9" r="4.7" fill="#fff" stroke="#ff00ff" stroke-width="2.3"/>
<circle cx="106.96" cy="359.9" r="4.7" fill="#fff" stroke="#ff00ff" stroke-width="2.3"/>
<circle cx="118.68" cy="359.9" r="4.7" fill="#fff" stroke="#ff00ff" stroke-width="2.3"/>
<circle cx="130.4" cy="359.9" r="4.7" fill="#fff" stroke="#ff00ff" stroke-width="2.3"/>
<circle cx="142.12" cy="359.9" r="4.7" fill="#fff" stroke="#ff00ff" stroke-width="2.3"/>
<circle cx="153.84" cy="359.9" r="4.7" fill="#fff" stroke="#ff00ff" stroke-width="2.3"/>
<circle cx="165.56" cy="359.9" r="4.7" fill="#fff" stroke="#ff00ff" stroke-width="2.3"/>
<circle cx="177.28" cy="359.9" r="4.7" fill="#fff" stroke="#ff00ff" stroke-width="2.3"/>
<circle cx="38.9" cy="269.7" r="5.9" fill="#fff" stroke="#0e8a3e" stroke-width="2.1"/>
<path d="M39.8 282.2 L39.8 300 Q39.6 310 39.2 316" fill="none" stroke="#f5a623" stroke-width="0.8"/>
<path d="M53.6 288.8 Q42 300 39.4 316" fill="none" stroke="#f5a623" stroke-width="0.8"/>
<path d="M53.6 356.8 Q42 346 39.4 328" fill="none" stroke="#f5a623" stroke-width="0.8"/>
<circle cx="39.8" cy="280.2" r="1.9" fill="#fff" stroke="#f5a623" stroke-width="0.7"/>
<circle cx="55.2" cy="287.5" r="2" fill="#fff" stroke="#f5a623" stroke-width="0.7"/>
<circle cx="55.2" cy="358.1" r="2" fill="#fff" stroke="#f5a623" stroke-width="0.7"/>
<circle cx="38.9" cy="321.9" r="5.7" fill="#fff" stroke="#f5a623" stroke-width="0.8"/>
<path d="M59.5 282.5 Q57.8 286 59.5 289.5" fill="none" stroke="#00e5ee" stroke-width="1.1"/>
<path d="M59.5 355 Q57.8 358.5 59.5 362" fill="none" stroke="#ff00ff" stroke-width="1.1"/>
<path d="M63.5 297 Q58 308 50.5 314.2" fill="none" stroke="#00e5ee" stroke-width="1.2"/>
<line x1="60.3" y1="294.6" x2="66.3" y2="298.6" stroke="#00e5ee" stroke-width="1.2"/>
<path d="M47 316.6 L53.6 314.6 L50.3 310.8Z" fill="#00e5ee" stroke="none" stroke-width="0.6"/>
<path d="M64 348.6 Q58.5 338 51 332" fill="none" stroke="#ff00ff" stroke-width="1.2"/>
<line x1="61" y1="350.8" x2="67" y2="346.6" stroke="#ff00ff" stroke-width="1.2"/>
<path d="M47.8 329.8 L54.4 331.6 L51.2 335.6Z" fill="#ff00ff" stroke="none" stroke-width="0.6"/>
<text x="0.3" y="381.4" font-size="14.5" fill="#000" font-weight="bold" textLength="9.35" lengthAdjust="spacingAndGlyphs">c</text>
<rect x="36.5" y="384.3" width="59.9" height="59.3" fill="#0a0000"/>
<g clip-path="url(#cpc1)"><rect x="16.45" y="395.95" width="100" height="36" fill="url(#gband)" transform="translate(0 -2) rotate(-44.7 66.45 413.95)"/></g>
<rect x="122.6" y="384.3" width="59" height="59.3" fill="#0a0000"/>
<g clip-path="url(#cpc2)">
<line x1="122.6" y1="443.6" x2="181.6" y2="384.3" stroke="#5a0000" stroke-width="3.2"/>
<line x1="122.6" y1="443.6" x2="181.6" y2="384.3" stroke="url(#gdiag)" stroke-width="1.5"/>
</g>
<rect x="186.9" y="391.6" width="6.7" height="40.9" fill="url(#cbc)" stroke="#777" stroke-width="0.5"/>
<text x="190.25" y="389.2" font-size="8" fill="#000" text-anchor="middle">+</text>
<text x="190.25" y="441.8" font-size="8.8" fill="#000" text-anchor="middle">0</text>
<text x="30.7" y="388" font-size="9.1" fill="#000" text-anchor="end">1.0</text>
<text x="29.9" y="446.8" font-size="9.1" fill="#000" text-anchor="end">0</text>
<line x1="34.5" y1="443.6" x2="36.5" y2="443.6" stroke="#000" stroke-width="0.5"/>
<line x1="34.5" y1="384.3" x2="36.5" y2="384.3" stroke="#000" stroke-width="0.5"/>
<text x="36.7" y="455.3" font-size="8.8" fill="#000" text-anchor="middle">0</text>
<text x="95.8" y="455.3" font-size="8.8" fill="#000" text-anchor="middle">1</text>
<line x1="36.5" y1="443.6" x2="36.5" y2="445.6" stroke="#000" stroke-width="0.5"/>
<line x1="96" y1="443.6" x2="96" y2="445.6" stroke="#000" stroke-width="0.5"/>
<text x="116.8" y="388" font-size="9.1" fill="#000" text-anchor="end">1.0</text>
<text x="116" y="446.8" font-size="9.1" fill="#000" text-anchor="end">0</text>
<line x1="120.6" y1="443.6" x2="122.6" y2="443.6" stroke="#000" stroke-width="0.5"/>
<line x1="120.6" y1="384.3" x2="122.6" y2="384.3" stroke="#000" stroke-width="0.5"/>
<text x="122.8" y="455.3" font-size="8.8" fill="#000" text-anchor="middle">0</text>
<text x="181.9" y="455.3" font-size="8.8" fill="#000" text-anchor="middle">1</text>
<line x1="122.6" y1="443.6" x2="122.6" y2="445.6" stroke="#000" stroke-width="0.5"/>
<line x1="182.1" y1="443.6" x2="182.1" y2="445.6" stroke="#000" stroke-width="0.5"/>
<text x="66.8" y="462" font-size="9.4" fill="#00e5ee" text-anchor="middle">HVC<tspan font-size="6.3" dy="2">X</tspan><tspan dy="-2" font-size="1">&#8203;</tspan></text>
<text x="152" y="462" font-size="9.4" fill="#8c8c8c" text-anchor="middle">Local</text>
<text x="152" y="472.8" font-size="9.4" fill="#8c8c8c" text-anchor="middle">inhibitory</text>
<text x="19.6" y="414" font-size="9.6" fill="#ff00ff" text-anchor="middle" transform="rotate(-90 19.6 414)">HVC<tspan font-size="6.3" dy="2">RA</tspan><tspan dy="-2" font-size="1">&#8203;</tspan></text>
<text x="108.6" y="414" font-size="9.6" fill="#000" text-anchor="middle" transform="rotate(-90 108.6 414)">HVC<tspan font-size="6.3" dy="2">PN</tspan><tspan dy="-2" font-size="1">&#8203;</tspan></text>
<text x="0.3" y="480.2" font-size="14.5" fill="#000" font-weight="bold" textLength="10.28" lengthAdjust="spacingAndGlyphs">d</text>
<rect x="26.3" y="479.6" width="6.4" height="92" fill="url(#gexc)"/>
<text x="29.5" y="485.6" font-size="7" fill="#fff" text-anchor="middle">+</text>
<text x="29.5" y="571.3" font-size="7" fill="#fff" text-anchor="middle">+</text>
<text x="23.3" y="500" font-size="9.4" fill="#000" text-anchor="middle" transform="rotate(-90 23.3 500)">Excitation</text>
<text x="34.6" y="552.6" font-size="9.4" fill="#8c8c8c" text-anchor="middle" transform="rotate(90 34.6 552.6)">Inhibition</text>
<rect x="49" y="481.6" width="144.6" height="76.8" fill="#fff" stroke="#000" stroke-width="0.8"/>
<line x1="56.4" y1="558.4" x2="56.4" y2="561.4" stroke="#000" stroke-width="0.8"/>
<line x1="187.7" y1="558.4" x2="187.7" y2="561.4" stroke="#000" stroke-width="0.8"/>
<text x="56.4" y="572" font-size="8.8" fill="#000" text-anchor="middle">0</text>
<text x="187.7" y="572" font-size="8.8" fill="#000" text-anchor="middle">1.0</text>
<text x="121.2" y="575.4" font-size="9.4" fill="#000" text-anchor="middle">Space</text>
<text x="53.1" y="491.9" font-size="9.4" fill="#000">HVC<tspan font-size="6.3" dy="2">PN</tspan><tspan dy="-2" font-size="1">&#8203;</tspan></text>
<text x="53.1" y="543.8" font-size="9.4" fill="#8c8c8c">Local</text>
<text x="53.1" y="554.6" font-size="9.4" fill="#8c8c8c">inhibitory</text>
<path d="M56.4 531 L56.9 531 L57.4 531 L57.9 531 L58.4 531 L58.9 531 L59.4 531 L59.9 531 L60.4 531 L60.9 531 L61.4 531 L61.9 531 L62.4 531 L62.9 531 L63.4 531 L63.9 531 L64.4 531 L64.9 531.01 L65.4 531.01 L65.9 531.01 L66.4 531.01 L66.9 531.01 L67.4 531.01 L67.9 531.01 L68.4 531.02 L68.9 531.02 L69.4 531.02 L69.9 531.02 L70.4 531.03 L70.9 531.03 L71.4 531.04 L71.9 531.04 L72.4 531.05 L72.9 531.05 L73.4 531.06 L73.9 531.07 L74.4 531.08 L74.9 531.09 L75.4 531.1 L75.9 531.11 L76.4 531.12 L76.9 531.14 L77.4 531.16 L77.9 531.18 L78.4 531.2 L78.9 531.22 L79.4 531.25 L79.9 531.28 L80.4 531.31 L80.9 531.35 L81.4 531.39 L81.9 531.43 L82.4 531.48 L82.9 531.53 L83.4 531.58 L83.9 531.65 L84.4 531.71 L84.9 531.79 L85.4 531.86 L85.9 531.95 L86.4 532.04 L86.9 532.14 L87.4 532.25 L87.9 532.37 L88.4 532.49 L88.9 532.63 L89.4 532.77 L89.9 532.92 L90.4 533.09 L90.9 533.26 L91.4 533.45 L91.9 533.65 L92.4 533.85 L92.9 534.08 L93.4 534.31 L93.9 534.56 L94.4 534.82 L94.9 535.1 L95.4 535.38 L95.9 535.69 L96.4 536 L96.9 536.33 L97.4 536.67 L97.9 537.03 L98.4 537.4 L98.9 537.79 L99.4 538.18 L99.9 538.6 L100.4 539.02 L100.9 539.45 L101.4 539.9 L101.9 540.35 L102.4 540.82 L102.9 541.3 L103.4 541.78 L103.9 542.27 L104.4 542.76 L104.9 543.27 L105.4 543.77 L105.9 544.28 L106.4 544.78 L106.9 545.29 L107.4 545.8 L107.9 546.3 L108.4 546.8 L108.9 547.29 L109.4 547.77 L109.9 548.24 L110.4 548.71 L110.9 549.16 L111.4 549.59 L111.9 550.01 L112.4 550.41 L112.9 550.79 L113.4 551.16 L113.9 551.5 L114.4 551.82 L114.9 552.11 L115.4 552.38 L115.9 552.62 L116.4 552.83 L116.9 553.02 L117.4 553.17 L117.9 553.3 L118.4 553.39 L118.9 553.46 L119.4 553.49 L119.9 553.49 L120.4 553.4 L120.9 553.21 L121.4 552.92 L121.9 552.53 L122.4 552.06 L122.9 551.5 L123.4 550.87 L123.9 550.17 L124.4 549.41 L124.9 548.61 L125.4 547.76 L125.9 546.88 L126.4 545.97 L126.9 545.06 L127.4 544.14 L127.9 543.23 L128.4 542.32 L128.9 541.44 L129.4 540.58 L129.9 539.76 L130.4 538.97 L130.9 538.21 L131.4 537.5 L131.9 536.83 L132.4 536.21 L132.9 535.63 L133.4 535.1 L133.9 534.61 L134.4 534.17 L134.9 533.77 L135.4 533.41 L135.9 533.08 L136.4 532.79 L136.9 532.54 L137.4 532.31 L137.9 532.12 L138.4 531.94 L138.9 531.79 L139.4 531.67 L139.9 531.56 L140.4 531.46 L140.9 531.38 L141.4 531.31 L141.9 531.26 L142.4 531.21 L142.9 531.17 L143.4 531.14 L143.9 531.11 L144.4 531.09 L144.9 531.07 L145.4 531.06 L145.9 531.04 L146.4 531.03 L146.9 531.03 L147.4 531.02 L147.9 531.02 L148.4 531.01 L148.9 531.01 L149.4 531.01 L149.9 531.01 L150.4 531 L150.9 531 L151.4 531 L151.9 531 L152.4 531 L152.9 531 L153.4 531 L153.9 531 L154.4 531 L154.9 531 L155.4 531 L155.9 531 L156.4 531 L156.9 531 L157.4 531 L157.9 531 L158.4 531 L158.9 531 L159.4 531 L159.9 531 L160.4 531 L160.9 531 L161.4 531 L161.9 531 L162.4 531 L162.9 531 L163.4 531 L163.9 531 L164.4 531 L164.9 531 L165.4 531 L165.9 531 L166.4 531 L166.9 531 L167.4 531 L167.9 531 L168.4 531 L168.9 531 L169.4 531 L169.9 531 L170.4 531 L170.9 531 L171.4 531 L171.9 531 L172.4 531 L172.9 531 L173.4 531 L173.9 531 L174.4 531 L174.9 531 L175.4 531 L175.9 531 L176.4 531 L176.9 531 L177.4 531 L177.9 531 L178.4 531 L178.9 531 L179.4 531 L179.9 531 L180.4 531 L180.9 531 L181.4 531 L181.9 531 L182.4 531 L182.9 531 L183.4 531 L183.9 531 L184.4 531 L184.9 531 L185.4 531 L185.9 531 L186.4 531 L186.9 531 L187.4 531 L187.9 531" fill="none" stroke="#9c9c9c" stroke-width="1.7"/>
<path d="M56.4 531 L56.9 531 L57.4 531 L57.9 531 L58.4 531 L58.9 531 L59.4 531 L59.9 531 L60.4 531 L60.9 531 L61.4 531 L61.9 531 L62.4 531 L62.9 531 L63.4 531 L63.9 531 L64.4 531 L64.9 531 L65.4 531 L65.9 531 L66.4 531 L66.9 531 L67.4 531 L67.9 531 L68.4 531 L68.9 531 L69.4 531 L69.9 531 L70.4 531 L70.9 531 L71.4 531 L71.9 531 L72.4 531 L72.9 531 L73.4 531 L73.9 531 L74.4 531 L74.9 531 L75.4 531 L75.9 531 L76.4 531 L76.9 531 L77.4 531 L77.9 531 L78.4 531 L78.9 531 L79.4 531 L79.9 531 L80.4 531 L80.9 531 L81.4 531 L81.9 531 L82.4 531 L82.9 531 L83.4 531 L83.9 531 L84.4 531 L84.9 531 L85.4 531 L85.9 531 L86.4 531 L86.9 531 L87.4 531 L87.9 531 L88.4 531 L88.9 531 L89.4 531 L89.9 531 L90.4 531 L90.9 531 L91.4 531 L91.9 531 L92.4 531 L92.9 531 L93.4 531 L93.9 531 L94.4 531 L94.9 531 L95.4 531 L95.9 531 L96.4 531 L96.9 531 L97.4 531 L97.9 531 L98.4 531 L98.9 531 L99.4 531 L99.9 531 L100.4 531 L100.9 531 L101.4 531 L101.9 531 L102.4 531 L102.9 531 L103.4 531 L103.9 531 L104.4 531 L104.9 531 L105.4 531 L105.9 531 L106.4 531 L106.9 531 L107.4 531 L107.9 531 L108.4 531 L108.9 531 L109.4 531 L109.9 531 L110.4 531 L110.9 531 L111.4 531 L111.9 530.38 L112.4 529.22 L112.9 527.84 L113.4 526.32 L113.9 524.68 L114.4 522.95 L114.9 521.16 L115.4 519.31 L115.9 517.43 L116.4 515.52 L116.9 513.59 L117.4 511.66 L117.9 509.74 L118.4 507.83 L118.9 505.95 L119.4 504.1 L119.9 502.29 L120.4 500.53 L120.9 498.83 L121.4 497.2 L121.9 495.63 L122.4 494.14 L122.9 492.74 L123.4 491.42 L123.9 490.2 L124.4 489.08 L124.9 488.06 L125.4 487.14 L125.9 486.34 L126.4 485.65 L126.9 485.08 L127.4 484.63 L127.9 484.3 L128.4 484.09 L128.9 484 L129.4 484.03 L129.9 484.16 L130.4 484.39 L130.9 484.72 L131.4 485.15 L131.9 485.68 L132.4 486.3 L132.9 487.02 L133.4 487.82 L133.9 488.71 L134.4 489.69 L134.9 490.74 L135.4 491.87 L135.9 493.07 L136.4 494.34 L136.9 495.67 L137.4 497.05 L137.9 498.49 L138.4 499.97 L138.9 501.5 L139.4 503.05 L139.9 504.63 L140.4 506.24 L140.9 507.85 L141.4 509.48 L141.9 511.1 L142.4 512.72 L142.9 514.33 L143.4 515.91 L143.9 517.46 L144.4 518.98 L144.9 520.46 L145.4 521.88 L145.9 523.24 L146.4 524.53 L146.9 525.75 L147.4 526.88 L147.9 527.91 L148.4 528.83 L148.9 529.63 L149.4 530.28 L149.9 530.76 L150.4 531 L150.9 531" fill="none" stroke="#000" stroke-width="1.7"/>
<text x="215.1" y="23.5" font-size="14.5" fill="#000" font-weight="bold" textLength="9.35" lengthAdjust="spacingAndGlyphs">e</text>
<text x="254.4" y="28" font-size="9.4" fill="#000" textLength="109.8" lengthAdjust="spacingAndGlyphs">Simulated firing sequence</text>
<text x="254.4" y="39.9" font-size="9.4" fill="#000">Normal song</text>
<rect x="252" y="44.3" width="167.2" height="95.5" fill="#0c0000"/>
<g clip-path="url(#cpe1)">
<g clip-path="url(#cpe1_0)">
<path d="M244 148.44 L244 114.96 L317 35.56 L317 69.04Z" fill="#4a0000" stroke="none" stroke-width="0.6" filter="url(#blur3)"/>
<path d="M244 143.85 L244 119.55 L317 40.15 L317 64.45Z" fill="#9c0606" stroke="none" stroke-width="0.6" filter="url(#blur2)"/>
<g filter="url(#graine)">
<path d="M244 138.18 L244 125.22 L317 45.82 L317 58.78Z" fill="#e81410" stroke="none" stroke-width="0.6" filter="url(#blur15)"/>
</g>
</g>
<g clip-path="url(#cpe1_1)">
<path d="M303.3 148.44 L303.3 114.96 L376.3 35.56 L376.3 69.04Z" fill="#4a0000" stroke="none" stroke-width="0.6" filter="url(#blur3)"/>
<path d="M303.3 143.85 L303.3 119.55 L376.3 40.15 L376.3 64.45Z" fill="#9c0606" stroke="none" stroke-width="0.6" filter="url(#blur2)"/>
<g filter="url(#graine)">
<path d="M303.3 138.18 L303.3 125.22 L376.3 45.82 L376.3 58.78Z" fill="#e81410" stroke="none" stroke-width="0.6" filter="url(#blur15)"/>
</g>
</g>
<g clip-path="url(#cpe1_2)">
<path d="M362.5 148.44 L362.5 114.96 L435.5 35.56 L435.5 69.04Z" fill="#4a0000" stroke="none" stroke-width="0.6" filter="url(#blur3)"/>
<path d="M362.5 143.85 L362.5 119.55 L435.5 40.15 L435.5 64.45Z" fill="#9c0606" stroke="none" stroke-width="0.6" filter="url(#blur2)"/>
<g filter="url(#graine)">
<path d="M362.5 138.18 L362.5 125.22 L435.5 45.82 L435.5 58.78Z" fill="#e81410" stroke="none" stroke-width="0.6" filter="url(#blur15)"/>
</g>
</g>
</g>
<rect x="425.1" y="44.3" width="116.9" height="95.5" fill="#0c0000"/>
<g clip-path="url(#cpe2)">
<g clip-path="url(#cpe2_0)">
<path d="M417.5 149.16 L417.5 115.68 L475 62.34 L475 95.82Z" fill="#4a0000" stroke="none" stroke-width="0.6" filter="url(#blur3)"/>
<path d="M417.5 144.57 L417.5 120.27 L475 66.93 L475 91.23Z" fill="#9c0606" stroke="none" stroke-width="0.6" filter="url(#blur2)"/>
<g filter="url(#graine)">
<path d="M417.5 138.9 L417.5 125.94 L475 72.6 L475 85.56Z" fill="#e81410" stroke="none" stroke-width="0.6" filter="url(#blur15)"/>
</g>
</g>
<g clip-path="url(#cpe2_1)">
<path d="M464.2 153.19 L464.2 117.23 L550.4 28.81 L550.4 64.77Z" fill="#4a0000" stroke="none" stroke-width="0.6" filter="url(#blur3)"/>
<path d="M464.2 148.26 L464.2 122.16 L550.4 33.74 L550.4 59.84Z" fill="#9c0606" stroke="none" stroke-width="0.6" filter="url(#blur2)"/>
<g filter="url(#graine)">
<path d="M464.2 142.17 L464.2 128.25 L550.4 39.83 L550.4 53.75Z" fill="#e81410" stroke="none" stroke-width="0.6" filter="url(#blur15)"/>
</g>
</g>
<line x1="467.1" y1="44.3" x2="467.1" y2="139.8" stroke="#e8501a" stroke-width="0.9"/>
</g>
<rect x="549.4" y="44.3" width="118.8" height="95.5" fill="#0c0000"/>
<g clip-path="url(#cpe3)">
<g clip-path="url(#cpe3_0)">
<path d="M541.5 146.68 L541.5 113.2 L599.6 62.82 L599.6 96.3Z" fill="#4a0000" stroke="none" stroke-width="0.6" filter="url(#blur3)"/>
<path d="M541.5 142.09 L541.5 117.79 L599.6 67.41 L599.6 91.71Z" fill="#9c0606" stroke="none" stroke-width="0.6" filter="url(#blur2)"/>
<g filter="url(#graine)">
<path d="M541.5 136.42 L541.5 123.46 L599.6 73.08 L599.6 86.04Z" fill="#e81410" stroke="none" stroke-width="0.6" filter="url(#blur15)"/>
</g>
</g>
<g clip-path="url(#cpe3_1)">
<path d="M587 152.81 L587 118.09 L676 35.19 L676 69.91Z" fill="#4a0000" stroke="none" stroke-width="0.6" filter="url(#blur3)"/>
<path d="M587 148.05 L587 122.85 L676 39.95 L676 65.15Z" fill="#9c0606" stroke="none" stroke-width="0.6" filter="url(#blur2)"/>
<g filter="url(#graine)">
<path d="M587 142.17 L587 128.73 L676 45.83 L676 59.27Z" fill="#e81410" stroke="none" stroke-width="0.6" filter="url(#blur15)"/>
</g>
</g>
<line x1="591.6" y1="44.3" x2="591.6" y2="139.8" stroke="#6a0a0a" stroke-width="0.9"/>
</g>
<rect x="671.5" y="53.2" width="6.3" height="73.6" fill="url(#cbe)" stroke="#777" stroke-width="0.5"/>
<text x="674.65" y="50.5" font-size="8" fill="#000" text-anchor="middle">+</text>
<text x="674.65" y="137" font-size="8.8" fill="#000" text-anchor="middle">0</text>
<text x="254.4" y="53.7" font-size="9.4" fill="#e614e6">HVC<tspan font-size="6.3" dy="2">RA</tspan><tspan dy="-2" font-size="1">&#8203;</tspan></text>
<text x="427.2" y="54.3" font-size="9.4" fill="#e614e6">HVC<tspan font-size="6.3" dy="2">RA</tspan><tspan dy="-2" font-size="1">&#8203;</tspan></text>
<text x="552.6" y="54.3" font-size="9.4" fill="#00c8d8">HVC<tspan font-size="6.3" dy="2">X</tspan><tspan dy="-2" font-size="1">&#8203;</tspan></text>
<text x="428" y="31.5" font-size="9.4" fill="#000"><tspan fill="#ff00ff">HVC<tspan font-size="6.3" dy="2">RA</tspan><tspan dy="-2" font-size="1">&#8203;</tspan></tspan> stimulation</text>
<text x="554.3" y="31.5" font-size="9.4" fill="#000"><tspan fill="#ff00ff">HVC<tspan font-size="6.3" dy="2">RA</tspan><tspan dy="-2" font-size="1">&#8203;</tspan></tspan> stimulation</text>
<line x1="467.1" y1="36.5" x2="467.1" y2="42.5" stroke="#ff00ff" stroke-width="0.8"/>
<path d="M467.1 45 l-2.2 -4 l4.4 0z" fill="#ff00ff" stroke="none" stroke-width="0.6"/>
<line x1="591.5" y1="36.5" x2="591.5" y2="42.5" stroke="#ff00ff" stroke-width="0.8"/>
<path d="M591.5 45 l-2.2 -4 l4.4 0z" fill="#ff00ff" stroke="none" stroke-width="0.6"/>
<text x="245.2" y="47.8" font-size="9.1" fill="#000" text-anchor="end">1.0</text>
<text x="245.2" y="142.6" font-size="9.1" fill="#000" text-anchor="end">0</text>
<line x1="247.6" y1="44.3" x2="252" y2="44.3" stroke="#000" stroke-width="0.7"/>
<line x1="247.6" y1="139.8" x2="252" y2="139.8" stroke="#000" stroke-width="0.7"/>
<line x1="421.9" y1="44.3" x2="425.1" y2="44.3" stroke="#444" stroke-width="0.7"/>
<line x1="421.9" y1="91.8" x2="425.1" y2="91.8" stroke="#444" stroke-width="0.7"/>
<line x1="421.9" y1="139.8" x2="425.1" y2="139.8" stroke="#444" stroke-width="0.7"/>
<line x1="546.1" y1="44.3" x2="549.3" y2="44.3" stroke="#444" stroke-width="0.7"/>
<line x1="546.1" y1="91.8" x2="549.3" y2="91.8" stroke="#444" stroke-width="0.7"/>
<line x1="546.1" y1="139.8" x2="549.3" y2="139.8" stroke="#444" stroke-width="0.7"/>
<text x="232.8" y="91.8" font-size="9.4" fill="#000" text-anchor="middle" transform="rotate(-90 232.8 91.8)">Space</text>
<text x="218.6" y="173.4" font-size="9.4" fill="#000" text-anchor="middle" transform="rotate(-90 218.6 173.4)">Firing rate</text>
<text x="229.8" y="173.4" font-size="9.4" fill="#000" text-anchor="middle" transform="rotate(-90 229.8 173.4)">(normalized)</text>
<text x="337.9" y="150.7" font-size="9.4" fill="#168a32" text-anchor="middle">Peri-song neurons</text>
<line x1="252" y1="153.1" x2="252" y2="195.6" stroke="#222" stroke-width="0.6"/>
<line x1="247.5" y1="153.1" x2="252" y2="153.1" stroke="#222" stroke-width="0.7"/>
<line x1="247.5" y1="195.6" x2="252" y2="195.6" stroke="#222" stroke-width="0.7"/>
<text x="243.5" y="156.4" font-size="9.1" fill="#000" text-anchor="end">1</text>
<text x="243.5" y="198.9" font-size="9.1" fill="#000" text-anchor="end">0</text>
<line x1="252" y1="196.8" x2="252" y2="199.4" stroke="#222" stroke-width="0.6"/>
<text x="252" y="209.5" font-size="9.1" fill="#000" text-anchor="middle">0</text>
<line x1="309.9" y1="196.8" x2="309.9" y2="199.4" stroke="#222" stroke-width="0.6"/>
<text x="309.9" y="209.5" font-size="9.1" fill="#000" text-anchor="middle">1</text>
<line x1="366.3" y1="196.8" x2="366.3" y2="199.4" stroke="#222" stroke-width="0.6"/>
<text x="366.3" y="209.5" font-size="9.1" fill="#000" text-anchor="middle">2</text>
<path d="M252 195.6 L252.6 195.6 L253.5 162.9 L254.4 166.9 L255.2 195.6 L308.7 195.6 L309.6 153.5 L310.5 157.5 L311.3 195.6 L364.4 195.6 L365.3 157.7 L366.2 161.7 L367 195.6 L419.2 195.6" fill="none" stroke="#168a32" stroke-width="0.9"/>
<line x1="423.7" y1="153.1" x2="423.7" y2="195.6" stroke="#222" stroke-width="0.6"/>
<line x1="419.2" y1="153.1" x2="423.7" y2="153.1" stroke="#222" stroke-width="0.7"/>
<line x1="419.2" y1="195.6" x2="423.7" y2="195.6" stroke="#222" stroke-width="0.7"/>
<line x1="423.7" y1="196.8" x2="423.7" y2="199.4" stroke="#222" stroke-width="0.6"/>
<text x="423.7" y="209.5" font-size="9.1" fill="#000" text-anchor="middle">0</text>
<line x1="479" y1="196.8" x2="479" y2="199.4" stroke="#222" stroke-width="0.6"/>
<text x="479" y="209.5" font-size="9.1" fill="#000" text-anchor="middle">1</text>
<line x1="533.3" y1="196.8" x2="533.3" y2="199.4" stroke="#222" stroke-width="0.6"/>
<text x="533.3" y="209.5" font-size="9.1" fill="#000" text-anchor="middle">2</text>
<path d="M423.7 195.6 L423.7 195.6 L424.6 167.5 L425.5 171.5 L426.3 195.6 L467.6 195.6 L468.5 153.1 L469.4 157.1 L470.2 195.6 L540 195.6" fill="none" stroke="#168a32" stroke-width="0.9"/>
<line x1="549.4" y1="153.1" x2="549.4" y2="195.6" stroke="#222" stroke-width="0.6"/>
<line x1="544.9" y1="153.1" x2="549.4" y2="153.1" stroke="#222" stroke-width="0.7"/>
<line x1="544.9" y1="195.6" x2="549.4" y2="195.6" stroke="#222" stroke-width="0.7"/>
<line x1="549.4" y1="196.8" x2="549.4" y2="199.4" stroke="#222" stroke-width="0.6"/>
<text x="549.4" y="209.5" font-size="9.1" fill="#000" text-anchor="middle">0</text>
<line x1="605.5" y1="196.8" x2="605.5" y2="199.4" stroke="#222" stroke-width="0.6"/>
<text x="605.5" y="209.5" font-size="9.1" fill="#000" text-anchor="middle">1</text>
<line x1="661.2" y1="196.8" x2="661.2" y2="199.4" stroke="#222" stroke-width="0.6"/>
<text x="661.2" y="209.5" font-size="9.1" fill="#000" text-anchor="middle">2</text>
<path d="M549.4 195.6 L549.4 195.6 L550.3 166.4 L551.2 170.4 L552 195.6 L594.5 195.6 L595.4 152.4 L596.3 156.4 L597.1 195.6 L668.2 195.6" fill="none" stroke="#168a32" stroke-width="0.9"/>
<text x="337.9" y="224.2" font-size="9.4" fill="#000" text-anchor="middle">Time (s)</text>
<text x="481.8" y="224.2" font-size="9.4" fill="#000" text-anchor="middle">Time (s)</text>
<text x="608" y="224.2" font-size="9.4" fill="#000" text-anchor="middle">Time (s)</text>
<text x="215.1" y="240.3" font-size="14.5" fill="#000" font-weight="bold" textLength="5.6" lengthAdjust="spacingAndGlyphs">f</text>
<text x="232.9" y="244" font-size="9.4" fill="#000" textLength="296.8" lengthAdjust="spacingAndGlyphs">Simulated and experimental HVC dynamics in response to stimulation</text>
<line x1="242.7" y1="257.5" x2="242.7" y2="376.2" stroke="#000" stroke-width="0.8"/>
<line x1="240" y1="375.9" x2="242.7" y2="375.9" stroke="#000" stroke-width="0.8"/>
<text x="234.4" y="379.2" font-size="9.1" fill="#000" text-anchor="end">0</text>
<line x1="240" y1="336.43" x2="242.7" y2="336.43" stroke="#000" stroke-width="0.8"/>
<text x="234.4" y="339.73" font-size="9.1" fill="#000" text-anchor="end">4</text>
<line x1="240" y1="296.96" x2="242.7" y2="296.96" stroke="#000" stroke-width="0.8"/>
<text x="234.4" y="300.26" font-size="9.1" fill="#000" text-anchor="end">8</text>
<line x1="240" y1="257.5" x2="242.7" y2="257.5" stroke="#000" stroke-width="0.8"/>
<text x="234.4" y="260.8" font-size="9.1" fill="#000" text-anchor="end">12</text>
<text x="218" y="316.5" font-size="9.4" fill="#000" text-anchor="middle" transform="rotate(-90 218 316.5)">Firing rate (a.u.)</text>
<line x1="242.7" y1="388.2" x2="534.5" y2="388.2" stroke="#000" stroke-width="0.8"/>
<line x1="260.8" y1="388.2" x2="260.8" y2="391" stroke="#000" stroke-width="0.8"/>
<text x="260.8" y="404" font-size="9.1" fill="#000" text-anchor="middle">0</text>
<line x1="306.38" y1="388.2" x2="306.38" y2="391" stroke="#000" stroke-width="0.8"/>
<text x="306.38" y="404" font-size="9.1" fill="#000" text-anchor="middle">50</text>
<line x1="351.97" y1="388.2" x2="351.97" y2="391" stroke="#000" stroke-width="0.8"/>
<text x="351.97" y="404" font-size="9.1" fill="#000" text-anchor="middle">100</text>
<line x1="397.56" y1="388.2" x2="397.56" y2="391" stroke="#000" stroke-width="0.8"/>
<text x="397.56" y="404" font-size="9.1" fill="#000" text-anchor="middle">150</text>
<line x1="443.14" y1="388.2" x2="443.14" y2="391" stroke="#000" stroke-width="0.8"/>
<text x="443.14" y="404" font-size="9.1" fill="#000" text-anchor="middle">200</text>
<line x1="488.73" y1="388.2" x2="488.73" y2="391" stroke="#000" stroke-width="0.8"/>
<text x="488.73" y="404" font-size="9.1" fill="#000" text-anchor="middle">250</text>
<line x1="534.31" y1="388.2" x2="534.31" y2="391" stroke="#000" stroke-width="0.8"/>
<text x="534.31" y="404" font-size="9.1" fill="#000" text-anchor="middle">300</text>
<text x="388.7" y="418.8" font-size="9.4" fill="#000" text-anchor="middle">Time (ms)</text>
<line x1="616" y1="257.5" x2="616" y2="376.2" stroke="#000" stroke-width="0.8"/>
<line x1="616" y1="375.9" x2="618.6" y2="375.9" stroke="#000" stroke-width="0.8"/>
<text x="620.8" y="379.2" font-size="9.1" fill="#000">0</text>
<line x1="616" y1="346.3" x2="618.6" y2="346.3" stroke="#000" stroke-width="0.8"/>
<text x="620.8" y="349.6" font-size="9.1" fill="#000">10</text>
<line x1="616" y1="316.7" x2="618.6" y2="316.7" stroke="#000" stroke-width="0.8"/>
<text x="620.8" y="320" font-size="9.1" fill="#000">20</text>
<line x1="616" y1="287.1" x2="618.6" y2="287.1" stroke="#000" stroke-width="0.8"/>
<text x="620.8" y="290.4" font-size="9.1" fill="#000">30</text>
<line x1="616" y1="257.5" x2="618.6" y2="257.5" stroke="#000" stroke-width="0.8"/>
<text x="620.8" y="260.8" font-size="9.1" fill="#000">40</text>
<text x="654.5" y="316.4" font-size="9.4" fill="#000" text-anchor="middle" transform="rotate(90 654.5 316.4)">Fraction of experimentally</text>
<text x="643" y="316.4" font-size="9.4" fill="#000" text-anchor="middle" transform="rotate(90 643 316.4)">stimulated motifs (%)</text>
<path d="M242.7 385.4 L260.8 385.4 L260.8 380.5 L279 380.5 L279 385.4 L534.5 385.4" fill="none" stroke="#f23a3a" stroke-width="0.9"/>
<path d="M294.98 375.9 L294.98 374.71 L295.78 374.71 L296.58 374.7 L297.38 374.7 L298.18 374.68 L298.98 374.67 L299.78 374.64 L300.58 374.59 L301.38 374.53 L302.18 374.43 L302.98 374.29 L303.78 374.09 L304.58 373.8 L305.38 373.41 L306.18 372.87 L306.98 372.14 L307.78 371.18 L308.58 369.92 L309.38 368.3 L310.18 366.26 L310.98 363.72 L311.78 360.61 L312.58 356.88 L313.38 352.48 L314.18 347.36 L314.98 341.54 L315.78 335.03 L316.58 327.9 L317.38 320.24 L318.18 312.22 L318.98 303.99 L319.78 295.79 L320.58 287.85 L321.38 280.43 L322.18 273.79 L322.98 268.18 L323.78 263.8 L324.58 260.83 L325.38 259.4 L326.18 259.47 L326.98 260.69 L327.78 262.99 L328.58 266.29 L329.38 270.51 L330.18 275.53 L330.98 281.21 L331.78 287.42 L332.58 294.01 L333.38 300.81 L334.18 307.69 L334.98 314.52 L335.78 321.17 L336.58 327.55 L337.38 333.57 L338.18 339.16 L338.98 344.29 L339.78 348.93 L340.58 353.08 L341.38 356.73 L342.18 359.91 L342.98 362.64 L343.78 364.97 L344.58 366.92 L345.38 368.54 L346.18 369.87 L346.98 370.95 L347.78 371.82 L348.58 372.51 L349.38 373.05 L350.18 373.47 L350.98 373.8 L351.78 374.04 L352.58 374.23 L353.38 374.36 L354.18 374.47 L354.98 374.54 L355.78 374.59 L356.58 374.63 L357.38 374.66 L358.18 374.68 L358.98 374.69 L359.78 374.7 L360.58 374.7 L361.38 374.71 L362.18 374.71 L362.18 375.9Z" fill="#fbe6c4" stroke="none" stroke-width="0.6"/>
<path d="M301.7 375.9 L301.7 375.41 L306 370.97 L311 360.11 L316 346.3 L319.5 339.39 L321.3 337.91 L323.5 340.38 L327 352.22 L331 367.02 L334 373.43 L337 375.7 L337 375.9Z" fill="#9a9078" stroke="none" stroke-width="0.6" opacity="0.75"/>
<path d="M295.8 373.93 L304 368.01 L315.1 343.83 L324 318.67 L333.3 291.54 L342.4 291.04 L351.9 334.95 L360.7 359.13 L369.4 359.62 L380 369.98 L392 374.42 L392 375.9 L380 375.9 L369.4 369.49 L360.7 369.98 L351.9 350.74 L342.4 311.76 L333.3 311.27 L324 334.46 L315.1 355.67 L304 373.93 L295.8 375.9Z" fill="#a9c0e6" stroke="none" stroke-width="0.6" opacity="0.8"/>
<path d="M357.7 372.94 L366 370.47 L376.4 361.1 L382 353.7 L388.1 348.77 L395 350.74 L402.1 351.23 L409 348.77 L416.1 344.03 L422 350.74 L427.8 355.67 L434 360.11 L441.8 364.36 L450 364.06 L457.3 365.34 L467 366.03 L477.2 366.63 L487 365.54 L497 364.85 L505 367.02 L511.9 369.49 L523 367.02 L534.2 366.03 L534.2 371.76 L523 372.74 L511.9 374.22 L505 372.74 L497 370.57 L487 371.26 L477.2 372.35 L467 371.76 L457.3 371.07 L450 369.78 L441.8 370.08 L434 370.47 L427.8 366.03 L422 361.1 L416.1 354.39 L409 359.13 L402.1 361.59 L395 361.1 L388.1 359.13 L382 364.06 L376.4 371.46 L366 375.9 L357.7 375.9Z" fill="#f9cdb8" stroke="none" stroke-width="0.6" opacity="0.85"/>
<path d="M370 375.9 L370 374.52 L385 373.53 L400 372.25 L415 371.76 L430 371.95 L445 371.76 L460 371.26 L475 372.74 L490 373.73 L534 374.22 L534 375.9Z" fill="#b6d8a8" stroke="none" stroke-width="0.6" opacity="0.8"/>
<rect x="347.7" y="355.6" width="81.8" height="23.4" fill="none" stroke="#666" stroke-dasharray="3 2" stroke-width="0.7"/>
<path d="M429.5 355.6 L511.9 332.6 L528 258" fill="none" stroke="#444" stroke-width="0.6" stroke-dasharray="1.6 2.4"/>
<path d="M429.5 379 L511.9 365.2 L528 362" fill="none" stroke="#444" stroke-width="0.6" stroke-dasharray="2.5 2"/>
<path d="M242.7 369.78 L250 369.39 L257 368.8 L260.8 367.51 L262.58 372.57 L263.38 371.84 L264.18 370.88 L264.98 369.62 L265.78 368 L266.58 365.96 L267.38 363.42 L268.18 360.32 L268.98 356.59 L269.78 352.18 L270.58 347.07 L271.38 341.24 L272.18 334.73 L272.98 327.6 L273.78 319.95 L274.58 311.92 L275.38 303.7 L276.18 295.49 L276.98 287.56 L277.78 280.14 L278.58 273.5 L279.38 267.88 L280.18 263.5 L280.98 260.54 L281.78 259.1 L282.58 259.18 L283.38 260.45 L284.18 262.82 L284.98 266.24 L285.78 270.59 L286.58 275.77 L287.38 281.62 L288.18 287.99 L288.98 294.73 L289.78 301.68 L290.58 308.69 L291.38 315.61 L292.18 322.33 L292.98 328.74 L293.78 334.76 L294.58 340.33 L295.38 345.41 L296.18 349.98 L296.98 354.04 L297.78 357.59 L298.58 360.66 L299.38 363.28 L300.18 365.5 L300.98 367.34 L301.78 368.86 L302.58 370.1 L303.38 371.09 L304.18 371.88 L304.98 372.51 L305.78 372.99 L306.58 373.36 L307.38 373.65 L308.18 373.86 L308.98 374.02 L309.78 374.13 L310.58 374.22 L311.38 374.28 L312.18 374.32 L312.98 374.35 L313.78 374.38 L314.58 374.39 L315.38 374.4 L316.18 374.41 L316.98 374.41 L317.78 374.41 L330 374.42 L534.3 374.91" fill="none" stroke="#f5a623" stroke-width="0.8"/>
<path d="M294.98 374.71 L295.78 374.71 L296.58 374.7 L297.38 374.7 L298.18 374.68 L298.98 374.67 L299.78 374.64 L300.58 374.59 L301.38 374.53 L302.18 374.43 L302.98 374.29 L303.78 374.09 L304.58 373.8 L305.38 373.41 L306.18 372.87 L306.98 372.14 L307.78 371.18 L308.58 369.92 L309.38 368.3 L310.18 366.26 L310.98 363.72 L311.78 360.61 L312.58 356.88 L313.38 352.48 L314.18 347.36 L314.98 341.54 L315.78 335.03 L316.58 327.9 L317.38 320.24 L318.18 312.22 L318.98 303.99 L319.78 295.79 L320.58 287.85 L321.38 280.43 L322.18 273.79 L322.98 268.18 L323.78 263.8 L324.58 260.83 L325.38 259.4 L326.18 259.47 L326.98 260.69 L327.78 262.99 L328.58 266.29 L329.38 270.51 L330.18 275.53 L330.98 281.21 L331.78 287.42 L332.58 294.01 L333.38 300.81 L334.18 307.69 L334.98 314.52 L335.78 321.17 L336.58 327.55 L337.38 333.57 L338.18 339.16 L338.98 344.29 L339.78 348.93 L340.58 353.08 L341.38 356.73 L342.18 359.91 L342.98 362.64 L343.78 364.97 L344.58 366.92 L345.38 368.54 L346.18 369.87 L346.98 370.95 L347.78 371.82 L348.58 372.51 L349.38 373.05 L350.18 373.47 L350.98 373.8 L351.78 374.04 L352.58 374.23 L353.38 374.36 L354.18 374.47 L354.98 374.54 L355.78 374.59 L356.58 374.63 L357.38 374.66 L358.18 374.68 L358.98 374.69 L359.78 374.7 L360.58 374.7 L361.38 374.71 L362.18 374.71" fill="none" stroke="#f5a623" stroke-width="0.9" stroke-dasharray="1.3 1.3"/>
<path d="M362.18 374.72 L534.3 375.11" fill="none" stroke="#f5a623" stroke-width="0.9" stroke-dasharray="1.3 1.3"/>
<path d="M242.7 375.7 L370 375.51 L370 375.7 L385 374.72 L400 373.43 L415 372.94 L430 373.14 L445 372.94 L460 372.45 L475 373.93 L490 374.91 L534 375.41" fill="none" stroke="#1a8a1a" stroke-width="0.8"/>
<path d="M300 375.7 L380 375.41 L410 374.72 L430 373.93 L445 372.45 L454.8 371.46 L466 372.94 L477.2 375.11 L534 375.6" fill="none" stroke="#1a8a1a" stroke-width="0.9" stroke-dasharray="3 2"/>
<path d="M242.7 372.64 L260.8 372.64 L263 368.01 L266 359.13 L269 350.25 L272 343.34 L275 339.19 L277.3 337.91 L279.5 340.38 L282 350.25 L284.5 363.07 L286.5 370.97 L288.8 374.91 L292 375.9 L534.3 375.9" fill="none" stroke="#111" stroke-width="0.9"/>
<path d="M285 375.9 L301.7 375.7 L301.7 375.41 L306 370.97 L311 360.11 L316 346.3 L319.5 339.39 L321.3 337.91 L323.5 340.38 L327 352.22 L331 367.02 L334 373.43 L337 375.7 L345 375.9 L400 375.9" fill="none" stroke="#222" stroke-width="0.8" stroke-dasharray="1.2 1.2"/>
<path d="M270 375.9 L290 375.6 L295.8 374.91 L304 370.97 L315.1 349.75 L324 326.56 L333.3 301.4 L342.4 301.4 L351.9 342.85 L360.7 364.55 L369.4 364.55 L380 372.94 L392 375.41 L534.3 375.7" fill="none" stroke="#1f5fbf" stroke-width="0.9" stroke-dasharray="3.2 1.8"/>
<path d="M340 375.7 L357.7 374.91 L366 372.45 L376.4 366.53 L382 359.13 L388.1 354.19 L395 356.17 L402.1 356.66 L409 354.19 L416.1 349.46 L422 356.17 L427.8 361.1 L434 365.54 L441.8 367.32 L450 367.02 L457.3 368.3 L467 368.99 L477.2 369.59 L487 368.5 L497 367.81 L505 369.98 L511.9 371.46 L523 369.98 L534.2 368.99" fill="none" stroke="#f26a1b" stroke-width="0.9" stroke-dasharray="3.2 1.8"/>
<line x1="290.7" y1="261.2" x2="319.4" y2="261.2" stroke="#222" stroke-width="0.7" stroke-dasharray="0.9 0.9"/>
<path d="M288.7 261.2 l3 -1.4 l0 2.8z" fill="#222" stroke="none" stroke-width="0.6"/>
<path d="M321.4 261.2 l-3 -1.4 l0 2.8z" fill="#222" stroke="none" stroke-width="0.6"/>
<line x1="283.8" y1="339.1" x2="314.2" y2="339.1" stroke="#222" stroke-width="0.7" stroke-dasharray="0.9 0.9"/>
<path d="M281.8 339.1 l3 -1.4 l0 2.8z" fill="#222" stroke="none" stroke-width="0.6"/>
<path d="M316.2 339.1 l-3 -1.4 l0 2.8z" fill="#222" stroke="none" stroke-width="0.6"/>
<text x="301" y="256.6" font-size="9.4" fill="#000" text-anchor="middle">+36.35 ms</text>
<line x1="331.6" y1="263.8" x2="340.3" y2="263.8" stroke="#f5a623" stroke-width="1.3" stroke-dasharray="1.5 1.1"/>
<text x="344.2" y="266.6" font-size="9.4" fill="#000">Global inhibitory</text>
<line x1="331.6" y1="276.8" x2="340.3" y2="276.8" stroke="#1a8a1a" stroke-width="1.3" stroke-dasharray="1.5 1.1"/>
<text x="344.2" y="279.6" font-size="9.4" fill="#000">Peri-song</text>
<line x1="349.5" y1="290" x2="358.2" y2="290" stroke="#222" stroke-width="1.3" stroke-dasharray="1.5 1.1"/>
<text x="362.4" y="292.9" font-size="9.4" fill="#000">HVC<tspan font-size="6.3" dy="2">PN</tspan><tspan dy="-2" font-size="1">&#8203;</tspan></text>
<line x1="349.5" y1="304" x2="358.2" y2="304" stroke="#f23a3a" stroke-width="1.3" stroke-dasharray="1.5 1.1"/>
<text x="362.4" y="306.9" font-size="9.4" fill="#000">Input</text>
<line x1="422.7" y1="263.8" x2="431.4" y2="263.8" stroke="#1f5fbf" stroke-width="1.3" stroke-dasharray="1.8 1.2"/>
<text x="436.7" y="266.8" font-size="9.4" fill="#000">Optogenetic</text>
<text x="436.7" y="278" font-size="9.4" fill="#000">truncation latency</text>
<line x1="422.7" y1="286.6" x2="431.4" y2="286.6" stroke="#f26a1b" stroke-width="1.3" stroke-dasharray="1.8 1.2"/>
<text x="436.7" y="289.6" font-size="9.4" fill="#000">Optogenetic</text>
<text x="436.7" y="301.3" font-size="9.4" fill="#000">restart latency</text>
<rect x="528" y="256.1" width="81.7" height="106.1" fill="#fff"/>
<g clip-path="url(#cpf)">
<path d="M528 334 L560 337 L590 341 L610 344 L610 358 L528 358Z" fill="#f6e3bd" stroke="none" stroke-width="0.6" opacity="0.9"/>
<path d="M533.5 250 L541.5 250 L545.5 268 L550.4 284.7 L554.1 324.4 L569 335.6 L590 341 L610 345 L610 358 L585 357 L565 352 L552 343 L545 330 L538 300Z" fill="#a9c0e6" stroke="none" stroke-width="0.6" opacity="0.75"/>
<path d="M528 344 L541 333 L552 306 L558 275 L561 250 L594.5 250 L590 272 L587.6 285.9 L577.7 290.9 L572 270 L570 268 L566 285 L560 312 L545 346 L528 355Z" fill="#f9cdb8" stroke="none" stroke-width="0.6" opacity="0.85"/>
<path d="M600.5 250 L604.4 295.3 L610 302.3 L610 250Z" fill="#f9cdb8" stroke="none" stroke-width="0.6" opacity="0.85"/>
<path d="M528 358 L533 356.5 L538 355 L543 353.5 L548 351 L553 349.5 L558 346 L563 343 L569 339.3 L575 338.5 L580 336 L584 335.6 L588 334.5 L592 333 L595 332.3 L598 334.5 L602 336 L606 341 L609.7 342.6 L610 358 L528 358Z" fill="#8eb07a" stroke="none" stroke-width="0.6" opacity="0.6"/>
<line x1="528" y1="356.9" x2="610" y2="356.9" stroke="#111" stroke-width="1"/>
<path d="M528 252 L529.3 309.5 L534.2 334.3 L541.7 346.7 L551.6 354.7 L569 356.9 L610 357.2" fill="none" stroke="#f5b623" stroke-width="1.7" stroke-dasharray="1.8 1.7"/>
<path d="M528 357.48 L529.67 357.59 L531.33 356.74 L533 356.71 L534.67 356.25 L536.33 354.63 L538 354.03 L539.67 355.17 L541.33 353.52 L543 352.97 L544.67 353.66 L546.33 351.77 L548 351.67 L549.67 350.45 L551.33 350.28 L553 348.8 L554.67 348.6 L556.33 347.9 L558 346.05 L559.67 345.48 L561.33 344.34 L563 342.13 L565 342.28 L567 340.72 L569 338.9 L571 338.1 L573 339.5 L575 338.45 L576.67 338.1 L578.33 337.59 L580 336.43 L581.33 336.71 L582.67 335.52 L584 336.2 L585.33 335.12 L586.67 335.74 L588 335.26 L589.33 333.19 L590.67 332.77 L592 332.43 L593 333.7 L594 332.41 L595 332.55 L596 332.64 L597 333.78 L598 334.27 L599.33 334.7 L600.67 335.67 L602 336.17 L603.33 338.48 L604.67 339.7 L606 341.86 L607.23 342.25 L608.47 343.05 L609.7 342.6" fill="none" stroke="#177a17" stroke-width="1.6"/>
<path d="M528 360 L569 357.2 L580 352 L593.8 345.5 L601 347 L610 350" fill="none" stroke="#177a17" stroke-width="1.6" stroke-dasharray="5 3"/>
<path d="M536.7 250 L540.4 297.1 L549.1 305.8 L557.8 336.8 L569 344.2 L583.9 349.2 L600 355.4 L610 358" fill="none" stroke="#1a4fa8" stroke-width="1.3" stroke-dasharray="6 3"/>
<path d="M528 349.2 L541.7 340.5 L556.6 312 L562.8 277.2 L566.5 256.8 L576.4 258.6 L587.6 257.9 L592 252 L596 240 L599.2 256 L604 270 L609.7 286.6" fill="none" stroke="#f26a1b" stroke-width="1.4" stroke-dasharray="6 3"/>
</g>
<rect x="528" y="256.1" width="81.7" height="106.1" fill="none" stroke="#000" stroke-dasharray="7.5 4.5" stroke-width="2.3"/>
<text x="211.4" y="440.8" font-size="14.5" fill="#000" font-weight="bold" textLength="10.28" lengthAdjust="spacingAndGlyphs">g</text>
<line x1="250.8" y1="443.6" x2="250.8" y2="548.2" stroke="#000" stroke-width="0.8"/>
<line x1="250.8" y1="548.2" x2="386.1" y2="548.2" stroke="#000" stroke-width="0.8"/>
<line x1="248" y1="547.9" x2="250.8" y2="547.9" stroke="#000" stroke-width="0.8"/>
<text x="244" y="551.2" font-size="9.1" fill="#000" text-anchor="end">0</text>
<line x1="248" y1="500.3" x2="250.8" y2="500.3" stroke="#000" stroke-width="0.8"/>
<text x="244" y="503.6" font-size="9.1" fill="#000" text-anchor="end">0.5</text>
<line x1="248" y1="452.7" x2="250.8" y2="452.7" stroke="#000" stroke-width="0.8"/>
<text x="244" y="456" font-size="9.1" fill="#000" text-anchor="end">1.0</text>
<line x1="250.8" y1="548.2" x2="250.8" y2="551" stroke="#000" stroke-width="0.8"/>
<text x="250.8" y="564.2" font-size="9.1" fill="#000" text-anchor="middle">0</text>
<line x1="275.32" y1="548.2" x2="275.32" y2="551" stroke="#000" stroke-width="0.8"/>
<text x="275.32" y="564.2" font-size="9.1" fill="#000" text-anchor="middle">10</text>
<line x1="299.84" y1="548.2" x2="299.84" y2="551" stroke="#000" stroke-width="0.8"/>
<text x="299.84" y="564.2" font-size="9.1" fill="#000" text-anchor="middle">20</text>
<line x1="324.36" y1="548.2" x2="324.36" y2="551" stroke="#000" stroke-width="0.8"/>
<text x="324.36" y="564.2" font-size="9.1" fill="#000" text-anchor="middle">30</text>
<line x1="348.88" y1="548.2" x2="348.88" y2="551" stroke="#000" stroke-width="0.8"/>
<text x="348.88" y="564.2" font-size="9.1" fill="#000" text-anchor="middle">40</text>
<line x1="373.4" y1="548.2" x2="373.4" y2="551" stroke="#000" stroke-width="0.8"/>
<text x="373.4" y="564.2" font-size="9.1" fill="#000" text-anchor="middle">50</text>
<text x="220.3" y="495.5" font-size="9.5" fill="#000" text-anchor="middle" transform="rotate(-90 220.3 495.5)">Sequence length</text>
<text x="244.7" y="578.7" font-size="9.4" fill="#000" textLength="147.5" lengthAdjust="spacingAndGlyphs"><tspan fill="#00e5ee">HVC<tspan font-size="6.3" dy="2">X</tspan><tspan dy="-2" font-size="1">&#8203;</tspan></tspan> connectivity degradation (%)</text>
<path d="M250.8 449.84 L263.06 450.8 L275.32 447.94 L287.58 448.89 L299.84 449.84 L312.1 454.6 L324.36 476.5 L336.62 480.31 L348.88 505.06 L361.14 511.72 L373.4 526.96 L385.66 527.91 L385.66 536.95 L373.4 538.38 L361.14 543.14 L348.88 542.19 L336.62 534.57 L324.36 533.62 L312.1 507.92 L299.84 500.3 L287.58 463.17 L275.32 483.16 L263.06 454.13 L250.8 457.46Z" fill="#fcc9c9" stroke="none" stroke-width="0.6"/>
<path d="M250.8 454.13 L263.06 452.7 L275.32 465.55 L287.58 456.51 L299.84 475.07 L312.1 481.26 L324.36 505.54 L336.62 507.92 L348.88 523.62 L361.14 527.91 L373.4 533.14 L385.66 532.19" fill="none" stroke="#f02a2a" stroke-width="1.3"/>
<text x="394.3" y="440.2" font-size="14.5" fill="#000" font-weight="bold" textLength="10.28" lengthAdjust="spacingAndGlyphs">h</text>
<text x="474" y="442" font-size="9.4" fill="#000" textLength="140" lengthAdjust="spacingAndGlyphs">Simulated <tspan fill="#ff00ff">HVC<tspan font-size="6.3" dy="2">RA</tspan><tspan dy="-2" font-size="1">&#8203;</tspan></tspan> firing sequence</text>
<text x="464" y="453.6" font-size="9.4" fill="#000" textLength="156.4" lengthAdjust="spacingAndGlyphs">in <tspan fill="#00e5ee">HVC<tspan font-size="6.3" dy="2">X</tspan><tspan dy="-2" font-size="1">&#8203;</tspan></tspan> TeNT-like <tspan fill="#f08a30">degraded</tspan> network</text>
<rect x="415.6" y="458.9" width="84" height="91.2" fill="#0c0000"/>
<rect x="502.1" y="458.9" width="83.7" height="91.2" fill="#0c0000"/>
<rect x="588.1" y="458.9" width="83.8" height="91.2" fill="#0c0000"/>
<g clip-path="url(#cph0)"><g filter="url(#grainh)">
<path d="M414.96 551 L414.47 541.8 L414.92 532.6 L415.9 523.4 L417.36 514.2 L419.29 505 L421.67 495.8 L424.48 486.6 L427.68 477.4 L431.33 468.2 L434.26 459 L439.08 459 L437.32 468.2 L436.54 477.4 L435.4 486.6 L433.97 495.8 L432.24 505 L430.21 514.2 L427.91 523.4 L425.37 532.6 L422.68 541.8 L419.78 551Z" fill="#8a0400" stroke="none" stroke-width="0.6" filter="url(#blur15)" opacity="1"/>
<path d="M415.76 551 L415.83 541.8 L416.65 532.6 L417.89 523.4 L419.5 514.2 L421.44 505 L423.71 495.8 L426.29 486.6 L429.15 477.4 L432.33 468.2 L435.06 459 L438.16 459 L436.18 468.2 L434.85 477.4 L433.31 486.6 L431.62 495.8 L429.77 505 L427.76 514.2 L425.62 523.4 L423.38 532.6 L421.11 541.8 L418.86 551Z" fill="#e82000" stroke="none" stroke-width="0.6" filter="url(#blur1)" opacity="1"/>
<path d="M419.78 532.6 L421.49 523.4 L423.34 514.2 L425.31 505 L427.39 495.8 L429.56 486.6 L431.8 477.4" fill="none" stroke="#ff8a14" stroke-width="2.4" filter="url(#blur1)" opacity="0.85" stroke-linecap="round"/>
<path d="M421.49 523.4 L423.34 514.2 L425.31 505 L427.39 495.8" fill="none" stroke="#ffd838" stroke-width="1.28" filter="url(#blurh)" opacity="0.6" stroke-linecap="round"/>
<path d="M437.38 551 L436.82 543.5 L436.96 536 L437.5 528.5 L438.41 521 L439.69 513.5 L441.31 506 L443.27 498.5 L445.54 491 L448.16 483.5 L450.18 476 L454.09 476 L453.02 483.5 L452.74 491 L452.14 498.5 L451.3 506 L450.21 513.5 L448.86 521 L447.26 528.5 L445.46 536 L443.49 543.5 L441.29 551Z" fill="#8a0400" stroke="none" stroke-width="0.6" filter="url(#blur15)" opacity="0.95"/>
<path d="M438.03 551 L437.92 543.5 L438.37 536 L439.12 528.5 L440.15 521 L441.44 513.5 L442.97 506 L444.74 498.5 L446.73 491 L448.97 483.5 L450.83 476 L453.35 476 L452.09 483.5 L451.36 491 L450.45 498.5 L449.4 506 L448.2 513.5 L446.86 521 L445.4 528.5 L443.83 536 L442.21 543.5 L440.55 551Z" fill="#e82000" stroke="none" stroke-width="0.6" filter="url(#blur1)" opacity="0.95"/>
<path d="M440.91 536 L442.04 528.5 L443.27 521 L444.58 513.5 L445.96 506 L447.4 498.5 L448.88 491" fill="none" stroke="#ff8a14" stroke-width="1.95" filter="url(#blur1)" opacity="0.81" stroke-linecap="round"/>
<path d="M442.04 528.5 L443.27 521 L444.58 513.5 L445.96 506" fill="none" stroke="#ffd838" stroke-width="1.04" filter="url(#blurh)" opacity="0.6" stroke-linecap="round"/>
<path d="M450.76 551 L450.34 542 L450.89 533 L451.99 524 L453.57 515 L455.64 506 L458.16 497 L461.11 488 L464.46 479 L468.27 470 L471.36 461 L476.18 461 L474.26 470 L473.33 479 L472.03 488 L470.46 497 L468.59 506 L466.43 515 L464 524 L461.35 533 L458.55 542 L455.58 551Z" fill="#8a0400" stroke="none" stroke-width="0.6" filter="url(#blur15)" opacity="1"/>
<path d="M451.56 551 L451.7 542 L452.63 533 L453.98 524 L455.71 515 L457.79 506 L460.2 497 L462.92 488 L465.94 479 L469.27 470 L472.16 461 L475.26 461 L473.12 470 L471.63 479 L469.95 488 L468.11 497 L466.11 506 L463.97 515 L461.7 524 L459.35 533 L456.98 542 L454.66 551Z" fill="#e82000" stroke="none" stroke-width="0.6" filter="url(#blur1)" opacity="1"/>
<path d="M455.76 533 L457.57 524 L459.55 515 L461.66 506 L463.88 497 L466.19 488 L468.59 479" fill="none" stroke="#ff8a14" stroke-width="2.4" filter="url(#blur1)" opacity="0.85" stroke-linecap="round"/>
<path d="M457.57 524 L459.55 515 L461.66 506 L463.88 497" fill="none" stroke="#ffd838" stroke-width="1.28" filter="url(#blurh)" opacity="0.6" stroke-linecap="round"/>
<path d="M474.76 551 L474.29 541.8 L474.78 532.6 L475.81 523.4 L477.32 514.2 L479.3 505 L481.73 495.8 L484.6 486.6 L487.86 477.4 L491.57 468.2 L494.56 459 L499.38 459 L497.56 468.2 L496.72 477.4 L495.52 486.6 L494.03 495.8 L492.25 505 L490.17 514.2 L487.82 523.4 L485.24 532.6 L482.51 541.8 L479.58 551Z" fill="#8a0400" stroke="none" stroke-width="0.6" filter="url(#blur15)" opacity="1"/>
<path d="M475.56 551 L475.66 541.8 L476.52 532.6 L477.8 523.4 L479.46 514.2 L481.45 505 L483.78 495.8 L486.41 486.6 L489.33 477.4 L492.57 468.2 L495.36 459 L498.46 459 L496.42 468.2 L495.03 477.4 L493.43 486.6 L491.69 495.8 L489.78 505 L487.72 514.2 L485.53 523.4 L483.24 532.6 L480.94 541.8 L478.66 551Z" fill="#e82000" stroke="none" stroke-width="0.6" filter="url(#blur1)" opacity="1"/>
<path d="M479.65 532.6 L481.4 523.4 L483.3 514.2 L485.32 505 L487.46 495.8 L489.68 486.6 L491.98 477.4" fill="none" stroke="#ff8a14" stroke-width="2.4" filter="url(#blur1)" opacity="0.85" stroke-linecap="round"/>
<path d="M481.4 523.4 L483.3 514.2 L485.32 505 L487.46 495.8" fill="none" stroke="#ffd838" stroke-width="1.28" filter="url(#blurh)" opacity="0.6" stroke-linecap="round"/>
</g></g>
<g clip-path="url(#cph1)">
<rect x="519" y="512" width="67" height="38" fill="url(#gnz)" filter="url(#grainh2)"/>
<g filter="url(#grainh)">
<path d="M501.02 551 L500.26 542.4 L500.43 533.8 L501.11 525.2 L502.26 516.6 L503.89 508 L505.98 499.4 L508.5 490.8 L511.43 482.2 L514.82 473.6 L517.42 465 L522.54 465 L521.18 473.6 L520.84 482.2 L520.11 490.8 L519.05 499.4 L517.66 508 L515.92 516.6 L513.87 525.2 L511.54 533.8 L508.99 542.4 L506.14 551Z" fill="#8a0400" stroke="none" stroke-width="0.6" filter="url(#blur15)" opacity="1"/>
<path d="M501.87 551 L501.71 542.4 L502.27 533.8 L503.23 525.2 L504.53 516.6 L506.18 508 L508.15 499.4 L510.43 490.8 L512.99 482.2 L515.87 473.6 L518.27 465 L521.56 465 L519.96 473.6 L519.05 482.2 L517.89 490.8 L516.55 499.4 L515.03 508 L513.31 516.6 L511.43 525.2 L509.41 533.8 L507.32 542.4 L505.16 551Z" fill="#e82000" stroke="none" stroke-width="0.6" filter="url(#blur1)" opacity="1"/>
<path d="M505.59 533.8 L507.04 525.2 L508.62 516.6 L510.3 508 L512.06 499.4 L513.9 490.8 L515.81 482.2" fill="none" stroke="#ff8a14" stroke-width="2.55" filter="url(#blur1)" opacity="0.85" stroke-linecap="round"/>
<path d="M507.04 525.2 L508.62 516.6 L510.3 508 L512.06 499.4" fill="none" stroke="#ffd838" stroke-width="1.36" filter="url(#blurh)" opacity="0.6" stroke-linecap="round"/>
<path d="M540.2 530 L539.74 523.8 L540.16 517.6 L541.07 511.4 L542.46 505.2 L544.33 499 L546.68 492.8 L549.48 486.6 L552.71 480.4 L556.44 474.2 L559.2 468 L565.22 468 L563.92 474.2 L563.79 480.4 L563.14 486.6 L562.06 492.8 L560.52 499 L558.53 505.2 L556.08 511.4 L553.23 517.6 L550 523.8 L546.22 530Z" fill="#8a0400" stroke="none" stroke-width="0.6" filter="url(#blur15)" opacity="1"/>
<path d="M541.2 530 L541.44 523.8 L542.33 517.6 L543.56 511.4 L545.13 505.2 L547.02 499 L549.24 492.8 L551.75 486.6 L554.55 480.4 L557.68 474.2 L560.2 468 L564.07 468 L562.49 474.2 L561.67 480.4 L560.53 486.6 L559.12 492.8 L557.43 499 L555.46 505.2 L553.22 511.4 L550.73 517.6 L548.04 523.8 L545.07 530Z" fill="#e82000" stroke="none" stroke-width="0.6" filter="url(#blur1)" opacity="1"/>
<path d="M546.24 517.6 L548.05 511.4 L549.93 505.2 L551.86 499 L553.83 492.8 L555.83 486.6 L557.86 480.4" fill="none" stroke="#ff8a14" stroke-width="3" filter="url(#blur1)" opacity="0.85" stroke-linecap="round"/>
<path d="M548.05 511.4 L549.93 505.2 L551.86 499 L553.83 492.8" fill="none" stroke="#ffd838" stroke-width="1.6" filter="url(#blurh)" opacity="0.6" stroke-linecap="round"/>
<path d="M563.76 551 L563.42 543.3 L564.08 535.6 L565.3 527.9 L567.02 520.2 L569.23 512.5 L571.9 504.8 L575 497.1 L578.52 489.4 L582.5 481.7 L585.76 474 L590.58 474 L588.49 481.7 L587.39 489.4 L585.93 497.1 L584.2 504.8 L582.18 512.5 L579.87 520.2 L577.31 527.9 L574.54 535.6 L571.63 543.3 L568.58 551Z" fill="#8a0400" stroke="none" stroke-width="0.6" filter="url(#blur15)" opacity="0.7"/>
<path d="M564.56 551 L564.78 543.3 L565.82 535.6 L567.29 527.9 L569.16 520.2 L571.38 512.5 L573.94 504.8 L576.82 497.1 L580 489.4 L583.5 481.7 L586.56 474 L589.66 474 L587.34 481.7 L585.69 489.4 L583.84 497.1 L581.85 504.8 L579.7 512.5 L577.42 520.2 L575.01 527.9 L572.54 535.6 L570.06 543.3 L567.66 551Z" fill="#e82000" stroke="none" stroke-width="0.6" filter="url(#blur1)" opacity="0.7"/>
<path d="M568.94 535.6 L570.88 527.9 L573 520.2 L575.25 512.5 L577.62 504.8 L580.09 497.1 L582.65 489.4" fill="none" stroke="#ff8a14" stroke-width="2.4" filter="url(#blur1)" opacity="0.59" stroke-linecap="round"/>
</g></g>
<g clip-path="url(#cph2)">
<rect x="602" y="512" width="70" height="38" fill="url(#gnz)" filter="url(#grainh2)"/>
<g filter="url(#grainh)">
<path d="M587.5 551 L586.66 542.4 L586.57 533.8 L586.89 525.2 L587.62 516.6 L588.75 508 L590.26 499.4 L592.13 490.8 L594.36 482.2 L596.98 473.6 L598.9 465 L603.42 465 L602.59 473.6 L602.67 482.2 L602.38 490.8 L601.79 499.4 L600.89 508 L599.67 516.6 L598.15 525.2 L596.37 533.8 L594.36 542.4 L592.01 551Z" fill="#8a0400" stroke="none" stroke-width="0.6" filter="url(#blur15)" opacity="1"/>
<path d="M588.25 551 L587.94 542.4 L588.19 533.8 L588.76 525.2 L589.62 516.6 L590.76 508 L592.17 499.4 L593.84 490.8 L595.74 482.2 L597.92 473.6 L599.65 465 L602.55 465 L601.52 473.6 L601.08 482.2 L600.42 490.8 L599.59 499.4 L598.57 508 L597.37 516.6 L596 525.2 L594.5 533.8 L592.89 542.4 L591.15 551Z" fill="#e82000" stroke="none" stroke-width="0.6" filter="url(#blur1)" opacity="1"/>
<path d="M591.12 533.8 L592.13 525.2 L593.23 516.6 L594.39 508 L595.62 499.4 L596.9 490.8 L598.23 482.2" fill="none" stroke="#ff8a14" stroke-width="2.25" filter="url(#blur1)" opacity="0.85" stroke-linecap="round"/>
<path d="M592.13 525.2 L593.23 516.6 L594.39 508 L595.62 499.4" fill="none" stroke="#ffd838" stroke-width="1.2" filter="url(#blurh)" opacity="0.6" stroke-linecap="round"/>
<path d="M602.76 540 L602.14 533.6 L602.41 527.2 L603.19 520.8 L604.43 514.4 L606.12 508 L608.26 501.6 L610.8 495.2 L613.74 488.8 L617.12 482.4 L619.76 476 L624.58 476 L623.1 482.4 L622.6 488.8 L621.73 495.2 L620.56 501.6 L619.08 508 L617.28 514.4 L615.2 520.8 L612.87 527.2 L610.35 533.6 L607.58 540Z" fill="#8a0400" stroke="none" stroke-width="0.6" filter="url(#blur15)" opacity="0.72"/>
<path d="M603.56 540 L603.5 533.6 L604.15 527.2 L605.18 520.8 L606.56 514.4 L608.28 508 L610.3 501.6 L612.62 495.2 L615.21 488.8 L618.11 482.4 L620.56 476 L623.66 476 L621.96 482.4 L620.91 488.8 L619.64 495.2 L618.21 501.6 L616.6 508 L614.83 514.4 L612.9 520.8 L610.87 527.2 L608.78 533.6 L606.66 540Z" fill="#e82000" stroke="none" stroke-width="0.6" filter="url(#blur1)" opacity="0.72"/>
<path d="M607.27 527.2 L608.77 520.8 L610.41 514.4 L612.15 508 L613.98 501.6 L615.88 495.2 L617.86 488.8" fill="none" stroke="#ff8a14" stroke-width="2.4" filter="url(#blur1)" opacity="0.61" stroke-linecap="round"/>
<path d="M627.32 542 L627.04 536.6 L627.49 531.2 L628.36 525.8 L629.61 520.4 L631.21 515 L633.16 509.6 L635.43 504.2 L638.01 498.8 L640.94 493.4 L643.32 488 L646.93 488 L645.43 493.4 L644.66 498.8 L643.63 504.2 L642.38 509.6 L640.92 515 L639.25 520.4 L637.37 525.8 L635.33 531.2 L633.19 536.6 L630.93 542Z" fill="#8a0400" stroke="none" stroke-width="0.6" filter="url(#blur15)" opacity="0.45"/>
<path d="M627.92 542 L628.06 536.6 L628.8 531.2 L629.86 525.8 L631.21 520.4 L632.82 515 L634.69 509.6 L636.79 504.2 L639.12 498.8 L641.68 493.4 L643.92 488 L646.24 488 L644.57 493.4 L643.39 498.8 L642.06 504.2 L640.62 509.6 L639.07 515 L637.4 520.4 L635.65 525.8 L633.84 531.2 L632.02 536.6 L630.24 542Z" fill="#e82000" stroke="none" stroke-width="0.6" filter="url(#blur1)" opacity="0.45"/>
<path d="M651.32 542 L651.09 536.8 L651.63 531.6 L652.58 526.4 L653.92 521.2 L655.63 516 L657.69 510.8 L660.07 505.6 L662.77 500.4 L665.81 495.2 L668.32 490 L671.93 490 L670.3 495.2 L669.42 500.4 L668.27 505.6 L666.91 510.8 L665.34 516 L663.56 521.2 L661.59 526.4 L659.47 531.6 L657.25 536.8 L654.93 542Z" fill="#8a0400" stroke="none" stroke-width="0.6" filter="url(#blur15)" opacity="0.45"/>
<path d="M651.92 542 L652.11 536.8 L652.93 531.6 L654.08 526.4 L655.53 521.2 L657.24 516 L659.22 510.8 L661.43 505.6 L663.87 500.4 L666.56 495.2 L668.92 490 L671.24 490 L669.45 495.2 L668.15 500.4 L666.7 505.6 L665.15 510.8 L663.49 516 L661.72 521.2 L659.87 526.4 L657.97 531.6 L656.07 536.8 L654.24 542Z" fill="#e82000" stroke="none" stroke-width="0.6" filter="url(#blur1)" opacity="0.45"/>
</g></g>
<rect x="674.2" y="466.5" width="7.4" height="72" fill="url(#cbh)" stroke="#777" stroke-width="0.5"/>
<text x="677.9" y="463.5" font-size="8" fill="#000" text-anchor="middle">+</text>
<text x="677.9" y="548.5" font-size="8.8" fill="#000" text-anchor="middle">0</text>
<text x="407.4" y="462.4" font-size="9.1" fill="#000" text-anchor="end">1.0</text>
<text x="407.4" y="552.8" font-size="9.1" fill="#000" text-anchor="end">0</text>
<line x1="412.1" y1="458.9" x2="415.6" y2="458.9" stroke="#000" stroke-width="0.7"/>
<line x1="412.1" y1="504.3" x2="415.6" y2="504.3" stroke="#000" stroke-width="0.7"/>
<line x1="412.1" y1="550.1" x2="415.6" y2="550.1" stroke="#000" stroke-width="0.7"/>
<text x="404.4" y="504.3" font-size="9.4" fill="#000" text-anchor="middle" transform="rotate(-90 404.4 504.3)">Space</text>
<line x1="416" y1="550.1" x2="416" y2="552.6" stroke="#000" stroke-width="0.5"/>
<text x="416" y="564.3" font-size="9.1" fill="#000" text-anchor="middle">0</text>
<line x1="443.15" y1="550.1" x2="443.15" y2="552.6" stroke="#000" stroke-width="0.5"/>
<text x="443.15" y="564.3" font-size="9.1" fill="#000" text-anchor="middle">1</text>
<line x1="470.3" y1="550.1" x2="470.3" y2="552.6" stroke="#000" stroke-width="0.5"/>
<text x="470.3" y="564.3" font-size="9.1" fill="#000" text-anchor="middle">2</text>
<line x1="499.3" y1="550.1" x2="499.3" y2="552.6" stroke="#000" stroke-width="0.5"/>
<line x1="502.5" y1="550.1" x2="502.5" y2="552.6" stroke="#000" stroke-width="0.5"/>
<text x="502.5" y="564.3" font-size="9.1" fill="#000" text-anchor="middle">0</text>
<line x1="529.65" y1="550.1" x2="529.65" y2="552.6" stroke="#000" stroke-width="0.5"/>
<text x="529.65" y="564.3" font-size="9.1" fill="#000" text-anchor="middle">1</text>
<line x1="556.8" y1="550.1" x2="556.8" y2="552.6" stroke="#000" stroke-width="0.5"/>
<text x="556.8" y="564.3" font-size="9.1" fill="#000" text-anchor="middle">2</text>
<line x1="585.5" y1="550.1" x2="585.5" y2="552.6" stroke="#000" stroke-width="0.5"/>
<line x1="588.5" y1="550.1" x2="588.5" y2="552.6" stroke="#000" stroke-width="0.5"/>
<text x="588.5" y="564.3" font-size="9.1" fill="#000" text-anchor="middle">0</text>
<line x1="615.65" y1="550.1" x2="615.65" y2="552.6" stroke="#000" stroke-width="0.5"/>
<text x="615.65" y="564.3" font-size="9.1" fill="#000" text-anchor="middle">1</text>
<line x1="642.8" y1="550.1" x2="642.8" y2="552.6" stroke="#000" stroke-width="0.5"/>
<text x="642.8" y="564.3" font-size="9.1" fill="#000" text-anchor="middle">2</text>
<line x1="671.6" y1="550.1" x2="671.6" y2="552.6" stroke="#000" stroke-width="0.5"/>
<text x="540.7" y="577.2" font-size="9.4" fill="#000" text-anchor="middle">Time (s)</text>
<text x="457.6" y="469.5" font-size="9.4" fill="#e8842c" text-anchor="middle">35%</text>
<text x="543.7" y="469.5" font-size="9.4" fill="#e8842c" text-anchor="middle">45%</text>
<text x="629.9" y="469.5" font-size="9.4" fill="#e8842c" text-anchor="middle">55%</text>
<text x="0.3" y="618.3" font-size="14.5" fill="#000" font-weight="bold" textLength="4.68" lengthAdjust="spacingAndGlyphs">i</text>
<text x="6.4" y="628.8" font-size="9.4" fill="#000">DIO&#8211;<tspan fill="#f01414">TeNT</tspan></text>
<text x="6.4" y="638.4" font-size="9.4" fill="#000">HVC</text>
<text x="74.8" y="643.1" font-size="9.4" fill="#000" text-anchor="end">Area X</text>
<text x="74.8" y="654.2" font-size="9.4" fill="#9a9a9a" text-anchor="end">CRE</text>
<path d="M29 657 C36 654.5 48 656 54 660 C60 664 65 670 64.2 676 C63.5 681 58 684 52 685.5 C45 688 40 690 32 689.5 C25 689.5 20 686 19.5 681 C19 676 18 672 19 668 C20 662 24 658 29 657Z" fill="#eeeeee" stroke="#b8b8b8" stroke-width="0.6"/>
<path d="M21.12 663.75 q-0.52 -1.73 -2.6 0.31 q2.09 1.5 1.59 -0.5 q0.18 -1.12 -1.96 -1.02 q-1.43 2.14 1.97 2.13" fill="none" stroke="#8a8a8a" stroke-width="0.55"/>
<path d="M26.2 665.29 q-0.95 0.63 1.39 2.35 q1.9 -2.07 0.64 1.52 q0.03 -1.61 -0.16 -1.1 q2.17 1.83 0.29 -0.15" fill="none" stroke="#8a8a8a" stroke-width="0.55"/>
<path d="M27.18 671.73 q1.91 1.74 0.05 0.36 q0.49 -0.34 -2.03 -0.13 q1.56 -2.28 -2.72 1.32 q-1.1 0.17 -0.17 0.04" fill="none" stroke="#8a8a8a" stroke-width="0.55"/>
<path d="M27.98 665.32 q-0.44 -1.49 0.8 -0.26 q-0.72 1.23 -1.08 1.01 q2.02 -2 -2.63 -0.47 q1.33 0.58 -1.58 -0.01" fill="none" stroke="#8a8a8a" stroke-width="0.55"/>
<path d="M20.6 669.8 q-2.29 0.99 2.38 2.8 q1.17 2.3 -2.89 -0.2 q2.33 1.38 -0.54 2.74 q0.6 1.59 -1.24 -0.64" fill="none" stroke="#8a8a8a" stroke-width="0.55"/>
<path d="M23 664.32 q-0.59 2.31 -1.01 -1.46 q-2.28 -1.65 1.7 0.13 q-1.05 -2.01 2.89 0.41 q-1.46 -2.2 -2.67 -0.74" fill="none" stroke="#8a8a8a" stroke-width="0.55"/>
<path d="M25.09 664.54 q-2.3 -0.05 -1.51 2.99 q-1.89 0.15 1.64 0.34 q2.44 -0.11 -1.55 0.35 q-2.32 -0.39 -1.51 2.5" fill="none" stroke="#8a8a8a" stroke-width="0.55"/>
<path d="M26.48 670.48 q-2.34 -1.23 -1.55 -0.56 q-1.34 1.85 -2.15 -1.27 q2.14 0.33 2.94 0.31 q2 0.77 1.75 1.85" fill="none" stroke="#8a8a8a" stroke-width="0.55"/>
<path d="M23.45 663.58 q-1.45 1.87 2.4 2.66 q-0.82 0.78 1.8 1.39 q1.57 0.14 0.93 1.59 q-1.16 2.11 2.74 -1.17" fill="none" stroke="#8a8a8a" stroke-width="0.55"/>
<path d="M30.5 657.3 Q44 655 52 661.5 Q56 665 56.5 669.5" fill="none" stroke="#666" stroke-width="0.6"/>
<path d="M33 676 Q42 670 50 668" fill="none" stroke="#d0d0d0" stroke-width="0.5"/>
<path d="M35 684 Q42 678 48 678" fill="none" stroke="#d0d0d0" stroke-width="0.5"/>
<circle cx="52.2" cy="674.8" r="4.2" fill="#fff" stroke="#000" stroke-width="1.2"/>
<line x1="15.03" y1="643.97" x2="12.37" y2="648.43" stroke="#111" stroke-width="1.1"/>
<line x1="13.7" y1="646.2" x2="16.28" y2="647.73" stroke="#111" stroke-width="0.9"/>
<line x1="17.76" y1="645.24" x2="14.79" y2="650.23" stroke="#111" stroke-width="1"/>
<path d="M17.25 646.1 L25.76 651.17 L23.82 654.43 L15.31 649.37Z" fill="#3a3a3a" stroke="#111" stroke-width="0.9"/>
<path d="M21.87 649.67 L25.4 651.77 L24.17 653.83 L20.65 651.73Z" fill="#f01414" stroke="none" stroke-width="0.6"/>
<line x1="24.79" y1="652.8" x2="30.5" y2="656.2" stroke="#f01414" stroke-width="1"/>
<line x1="75.57" y1="662.91" x2="72.83" y2="658.49" stroke="#111" stroke-width="1.1"/>
<line x1="74.2" y1="660.7" x2="71.65" y2="662.28" stroke="#111" stroke-width="0.9"/>
<line x1="73.17" y1="664.74" x2="70.12" y2="659.81" stroke="#111" stroke-width="1"/>
<path d="M72.65 663.89 L64.64 668.85 L62.64 665.62 L70.65 660.66Z" fill="#3a3a3a" stroke="#111" stroke-width="0.9"/>
<path d="M67.63 666.18 L64.27 668.25 L63.01 666.21 L66.37 664.13Z" fill="#000" stroke="none" stroke-width="0.6"/>
<line x1="63.64" y1="667.23" x2="58.2" y2="670.6" stroke="#111" stroke-width="1"/>
<line x1="42.3" y1="692.8" x2="42.3" y2="705" stroke="#111" stroke-width="0.7"/>
<path d="M42.3 707.2 l-2 -3.8 l4 0z" fill="#111" stroke="none" stroke-width="0.6"/>
<path d="M25 749.8 Q23.8 738 27.8 728 Q31.5 720.8 37 721 Q43.5 721.8 45 729 Q47.3 738 47 749.8Z" fill="#7a7a7a" stroke="none" stroke-width="0.6"/>
<ellipse cx="40.6" cy="741.6" rx="3.9" ry="6.8" fill="#fff" stroke="#111" stroke-width="0.7"/>
<path d="M36.6 738.5 Q34.6 742.5 37.6 747.5" fill="none" stroke="#a0522d" stroke-width="1.6"/>
<circle cx="37.3" cy="731" r="2.1" fill="#f4733a"/>
<path d="M41.4 729.6 L47.2 726.2 L44.6 729.8 L47.4 733.6Z" fill="#f01414" stroke="none" stroke-width="0.6"/>
<line x1="32.5" y1="749.5" x2="32.5" y2="752.3" stroke="#333" stroke-width="0.5"/>
<line x1="30.7" y1="753.2" x2="34.3" y2="752" stroke="#333" stroke-width="0.5"/>
<line x1="31" y1="751.6" x2="34.1" y2="753.4" stroke="#333" stroke-width="0.5"/>
<line x1="40.5" y1="749.5" x2="40.5" y2="752.3" stroke="#333" stroke-width="0.5"/>
<line x1="38.7" y1="753.2" x2="42.3" y2="752" stroke="#333" stroke-width="0.5"/>
<line x1="39" y1="751.6" x2="42.1" y2="753.4" stroke="#333" stroke-width="0.5"/>
<path d="M51.2 719.2 L51.2 714.2 L56.4 712.8 L56.4 718" fill="none" stroke="#111" stroke-width="0.7"/>
<path d="M51.2 714.2 L56.4 712.8 L56.4 714.2 L51.2 715.6Z" fill="#111" stroke="none" stroke-width="0.6"/>
<ellipse cx="50" cy="719.4" rx="1.5" ry="1.1" fill="#111"/>
<ellipse cx="55.2" cy="718.2" rx="1.5" ry="1.1" fill="#111"/>
<rect x="82" y="615" width="284.2" height="145.3" fill="url(#gbg)"/>
<g clip-path="url(#cpi)">
<rect x="82" y="615" width="284.2" height="145.3" fill="url(#ghvc)"/>
<path d="M82 615 L82 760 L82 752 L88 738 L96.5 722.2 L111.8 702.4 L132 682.8 L156.5 663.2 L172 656.5 L186.2 652 L206.1 643.3 L231 628.5 L254 615 L254 615Z" fill="#200101" stroke="none" stroke-width="0.6"/>
<path d="M82 615 L82 741 L86 730 L92.5 717.5 L106.5 697.5 L126.5 677.5 L152 657.5 L182 646 L201.5 637.5 L225 623 L236 615 L236 615Z" fill="#000" stroke="none" stroke-width="0.6"/>
<ellipse cx="123.5" cy="738.5" rx="3.6" ry="1.8" fill="#120000" transform="rotate(-15 123.5 738.5)"/>
<ellipse cx="276" cy="733" rx="5" ry="4" fill="#2a0303" filter="url(#blur1)"/>
<ellipse cx="320" cy="625" rx="3" ry="9" fill="#2c0404" filter="url(#blur1)" transform="rotate(25 320 625)"/>
<circle cx="136.63" cy="708.29" r="1.1" fill="#e01010" opacity="0.8"/>
<circle cx="146.84" cy="693.36" r="1.3" fill="#e01010" opacity="0.85"/>
<circle cx="160.11" cy="684.49" r="0.9" fill="#f01212" opacity="0.64"/>
<circle cx="163.83" cy="669.61" r="0.6" fill="#e01010" opacity="0.99"/>
<circle cx="137.42" cy="688.58" r="0.8" fill="#ff1a1a" opacity="0.93"/>
<circle cx="165.74" cy="688.01" r="0.8" fill="#ff1a1a" opacity="0.91"/>
<circle cx="153.71" cy="708.7" r="0.8" fill="#f01212" opacity="0.86"/>
<circle cx="129.38" cy="707.71" r="1.1" fill="#ff3a30" opacity="0.76"/>
<circle cx="175.89" cy="685.68" r="0.8" fill="#ff3a30" opacity="0.61"/>
<circle cx="149.82" cy="693.53" r="0.6" fill="#ff3a30" opacity="0.75"/>
<circle cx="196.13" cy="662.73" r="0.6" fill="#f01212" opacity="0.68"/>
<circle cx="176.48" cy="672.83" r="1.1" fill="#e01010" opacity="0.63"/>
<circle cx="128.27" cy="692.3" r="0.9" fill="#ff3a30" opacity="0.63"/>
<circle cx="157.77" cy="684.93" r="0.8" fill="#ff1a1a" opacity="0.6"/>
<circle cx="137.96" cy="705.93" r="1.3" fill="#f01212" opacity="0.78"/>
<circle cx="180.59" cy="697.31" r="0.8" fill="#e01010" opacity="0.86"/>
<circle cx="180" cy="687.33" r="0.8" fill="#ff1a1a" opacity="0.71"/>
<circle cx="195.06" cy="665.59" r="0.9" fill="#ff1a1a" opacity="0.68"/>
<circle cx="134.53" cy="720.08" r="1.3" fill="#ff1a1a" opacity="0.62"/>
<circle cx="178.32" cy="690.33" r="0.6" fill="#ff3a30" opacity="0.93"/>
<circle cx="155.25" cy="696.01" r="0.8" fill="#f01212" opacity="0.61"/>
<circle cx="145.96" cy="711.12" r="0.8" fill="#e01010" opacity="0.93"/>
<circle cx="177.6" cy="689.29" r="0.8" fill="#ff3a30" opacity="0.96"/>
<circle cx="162.71" cy="679.67" r="0.8" fill="#f01212" opacity="0.9"/>
<circle cx="171.47" cy="680.3" r="1.1" fill="#e01010" opacity="0.84"/>
<circle cx="152.65" cy="697.06" r="0.6" fill="#ff3a30" opacity="0.7"/>
<circle cx="151.42" cy="685.56" r="1.3" fill="#e01010" opacity="0.72"/>
<circle cx="182.82" cy="694.92" r="0.6" fill="#f01212" opacity="0.69"/>
<circle cx="118.22" cy="705.07" r="1.3" fill="#ff1a1a" opacity="0.71"/>
<circle cx="170.35" cy="679.77" r="0.6" fill="#ff1a1a" opacity="0.71"/>
<circle cx="153.73" cy="695.12" r="0.8" fill="#ff3a30" opacity="0.75"/>
<circle cx="148.8" cy="693.51" r="0.9" fill="#f01212" opacity="0.96"/>
<circle cx="189.19" cy="670.88" r="1.3" fill="#f01212" opacity="0.84"/>
<circle cx="178.04" cy="672.93" r="0.9" fill="#ff3a30" opacity="0.99"/>
<circle cx="190.34" cy="674.89" r="1.1" fill="#ff1a1a" opacity="0.89"/>
<circle cx="186.41" cy="682.03" r="0.6" fill="#f01212" opacity="0.92"/>
<circle cx="174.05" cy="675.87" r="1.1" fill="#ff1a1a" opacity="0.95"/>
<circle cx="132.95" cy="716.78" r="1.1" fill="#ff1a1a" opacity="0.85"/>
<circle cx="144.59" cy="710.21" r="1.3" fill="#ff1a1a" opacity="0.63"/>
<circle cx="178.34" cy="665.36" r="1.1" fill="#e01010" opacity="0.78"/>
<circle cx="162.63" cy="683.97" r="1.3" fill="#ff1a1a" opacity="0.72"/>
<circle cx="164.37" cy="688.89" r="0.6" fill="#e01010" opacity="0.91"/>
<circle cx="141.8" cy="688.12" r="0.6" fill="#ff3a30" opacity="0.72"/>
<circle cx="150.57" cy="687.76" r="0.8" fill="#ff3a30" opacity="0.86"/>
<circle cx="123.2" cy="720.8" r="0.9" fill="#e01010" opacity="0.87"/>
<circle cx="172.55" cy="695.54" r="0.8" fill="#f01212" opacity="0.75"/>
<circle cx="141.89" cy="694.93" r="0.8" fill="#f01212" opacity="0.8"/>
<circle cx="171.89" cy="662.05" r="0.6" fill="#ff3a30" opacity="0.93"/>
<circle cx="181.86" cy="686.72" r="0.8" fill="#e01010" opacity="0.75"/>
<circle cx="128.18" cy="706" r="1.3" fill="#e01010" opacity="0.73"/>
<circle cx="164.06" cy="678.63" r="1.3" fill="#ff1a1a" opacity="0.87"/>
<circle cx="161.28" cy="700.92" r="1.3" fill="#ff1a1a" opacity="0.86"/>
<circle cx="150.84" cy="699.92" r="0.9" fill="#f01212" opacity="0.91"/>
<circle cx="169.23" cy="688.72" r="1.3" fill="#ff3a30" opacity="0.98"/>
<circle cx="151.09" cy="687.38" r="1.1" fill="#ff3a30" opacity="0.67"/>
<circle cx="183.86" cy="677.19" r="0.6" fill="#f01212" opacity="0.69"/>
<circle cx="157.88" cy="675.65" r="1.3" fill="#f01212" opacity="0.76"/>
<circle cx="207.86" cy="677.74" r="1.1" fill="#f01212" opacity="0.78"/>
<circle cx="186.54" cy="675.36" r="1.3" fill="#ff3a30" opacity="0.79"/>
<circle cx="148.79" cy="689.47" r="0.6" fill="#f01212" opacity="0.7"/>
<circle cx="154.63" cy="696.57" r="0.9" fill="#ff3a30" opacity="0.7"/>
<circle cx="158.31" cy="688.76" r="1.3" fill="#ff1a1a" opacity="0.61"/>
<circle cx="152.93" cy="705.21" r="0.9" fill="#e01010" opacity="0.97"/>
<circle cx="155.62" cy="693.99" r="1.3" fill="#ff3a30" opacity="0.87"/>
<circle cx="177.13" cy="672.9" r="1.3" fill="#e01010" opacity="0.98"/>
<circle cx="174.61" cy="686.19" r="1.3" fill="#ff3a30" opacity="0.93"/>
<circle cx="147.22" cy="694.51" r="1.3" fill="#ff3a30" opacity="0.72"/>
<circle cx="137.73" cy="719.51" r="1.3" fill="#f01212" opacity="0.72"/>
<circle cx="181.82" cy="689.75" r="0.9" fill="#e01010" opacity="0.68"/>
<circle cx="134.58" cy="701.31" r="1.3" fill="#e01010" opacity="0.61"/>
<circle cx="183.31" cy="673.62" r="1.1" fill="#ff1a1a" opacity="0.8"/>
<circle cx="155.33" cy="688.33" r="1.3" fill="#e01010" opacity="0.77"/>
<circle cx="163.35" cy="702.34" r="0.8" fill="#ff3a30" opacity="0.77"/>
<circle cx="142.75" cy="701.59" r="0.8" fill="#e01010" opacity="0.85"/>
<circle cx="168.45" cy="682.1" r="0.6" fill="#ff1a1a" opacity="0.68"/>
<circle cx="172.81" cy="701.77" r="0.9" fill="#ff3a30" opacity="0.7"/>
<circle cx="135.59" cy="704.2" r="1.3" fill="#ff1a1a" opacity="0.94"/>
<circle cx="130.28" cy="693.01" r="1.3" fill="#e01010" opacity="0.61"/>
<circle cx="126.35" cy="691.83" r="1.3" fill="#f01212" opacity="0.82"/>
<circle cx="171.71" cy="671.39" r="0.8" fill="#f01212" opacity="0.94"/>
<circle cx="121.71" cy="695.94" r="0.8" fill="#ff3a30" opacity="0.96"/>
<circle cx="157.11" cy="701.78" r="0.8" fill="#f01212" opacity="0.91"/>
<circle cx="165.54" cy="692.19" r="0.8" fill="#f01212" opacity="0.89"/>
<circle cx="161.92" cy="694.62" r="1.1" fill="#f01212" opacity="0.68"/>
<circle cx="127.08" cy="692.62" r="0.6" fill="#f01212" opacity="0.83"/>
<circle cx="143.84" cy="717.71" r="0.9" fill="#ff1a1a" opacity="0.88"/>
<circle cx="143.58" cy="690.75" r="0.8" fill="#ff1a1a" opacity="0.79"/>
<circle cx="196.22" cy="672.36" r="1.3" fill="#e01010" opacity="0.66"/>
<circle cx="169.02" cy="692.66" r="0.8" fill="#ff3a30" opacity="0.97"/>
<circle cx="167.25" cy="688.37" r="1.1" fill="#ff1a1a" opacity="0.91"/>
<circle cx="154.64" cy="705.71" r="1.3" fill="#ff3a30" opacity="0.77"/>
<circle cx="156.73" cy="690.66" r="0.6" fill="#f01212" opacity="0.67"/>
<circle cx="129.91" cy="713.32" r="1.1" fill="#f01212" opacity="0.84"/>
<circle cx="195.98" cy="681.86" r="0.9" fill="#ff1a1a" opacity="0.92"/>
<circle cx="141.39" cy="691.35" r="1.3" fill="#f01212" opacity="0.8"/>
<circle cx="196.27" cy="666.57" r="0.9" fill="#ff3a30" opacity="0.96"/>
<circle cx="149.2" cy="674.21" r="1.1" fill="#f01212" opacity="0.96"/>
<circle cx="177.51" cy="666.48" r="1.1" fill="#f01212" opacity="0.76"/>
<circle cx="156.57" cy="687.2" r="0.9" fill="#ff3a30" opacity="0.79"/>
<circle cx="179.79" cy="679.37" r="1.3" fill="#ff1a1a" opacity="0.69"/>
<circle cx="186.17" cy="668.48" r="0.9" fill="#f01212" opacity="0.86"/>
<circle cx="133.89" cy="698.44" r="1.1" fill="#e01010" opacity="0.86"/>
<circle cx="140.5" cy="680.74" r="1.3" fill="#ff1a1a" opacity="0.65"/>
<circle cx="174.44" cy="687.53" r="1.1" fill="#e01010" opacity="0.8"/>
<circle cx="154.2" cy="675.04" r="0.6" fill="#ff1a1a" opacity="0.7"/>
<circle cx="161.91" cy="700.35" r="1.3" fill="#e01010" opacity="0.99"/>
<circle cx="127.87" cy="690.91" r="0.6" fill="#ff1a1a" opacity="0.75"/>
<circle cx="176.97" cy="675.48" r="0.8" fill="#e01010" opacity="0.82"/>
<circle cx="138.58" cy="694.69" r="1.1" fill="#e01010" opacity="0.71"/>
<circle cx="148.37" cy="703.25" r="1.3" fill="#ff3a30" opacity="0.79"/>
<line x1="141.58" y1="711.47" x2="134.95" y2="699.74" stroke="#c01414" stroke-width="0.4" opacity="0.6"/>
<line x1="122.15" y1="703.62" x2="118.87" y2="691.74" stroke="#c01414" stroke-width="0.4" opacity="0.6"/>
<line x1="152.7" y1="699.22" x2="161.73" y2="697.71" stroke="#c01414" stroke-width="0.4" opacity="0.6"/>
<line x1="151.82" y1="694.09" x2="145.89" y2="687.06" stroke="#c01414" stroke-width="0.4" opacity="0.6"/>
<line x1="183.81" y1="676.19" x2="178.4" y2="669.61" stroke="#c01414" stroke-width="0.4" opacity="0.6"/>
<line x1="180.44" y1="667.27" x2="193.87" y2="662.98" stroke="#c01414" stroke-width="0.4" opacity="0.6"/>
<line x1="192.76" y1="672.22" x2="184.37" y2="671.16" stroke="#c01414" stroke-width="0.4" opacity="0.6"/>
<line x1="176.51" y1="667.52" x2="178.36" y2="660.58" stroke="#c01414" stroke-width="0.4" opacity="0.6"/>
<line x1="188.89" y1="682.83" x2="197.41" y2="678.33" stroke="#c01414" stroke-width="0.4" opacity="0.6"/>
<line x1="131.18" y1="685.85" x2="127.31" y2="674.07" stroke="#c01414" stroke-width="0.4" opacity="0.6"/>
<line x1="174.56" y1="683.2" x2="164.75" y2="673" stroke="#c01414" stroke-width="0.4" opacity="0.6"/>
<line x1="130.96" y1="679.51" x2="140.89" y2="675.25" stroke="#c01414" stroke-width="0.4" opacity="0.6"/>
<line x1="160.24" y1="680.43" x2="159.9" y2="665.97" stroke="#c01414" stroke-width="0.4" opacity="0.6"/>
<line x1="141.98" y1="695.49" x2="133.54" y2="685.61" stroke="#c01414" stroke-width="0.4" opacity="0.6"/>
<line x1="135.2" y1="678.93" x2="146.53" y2="668.33" stroke="#c01414" stroke-width="0.4" opacity="0.6"/>
<line x1="160.17" y1="697.65" x2="170.65" y2="690.24" stroke="#c01414" stroke-width="0.4" opacity="0.6"/>
<line x1="170.27" y1="665.47" x2="174.57" y2="660.91" stroke="#c01414" stroke-width="0.4" opacity="0.6"/>
<line x1="123.04" y1="676.13" x2="131.74" y2="665.73" stroke="#c01414" stroke-width="0.4" opacity="0.6"/>
<line x1="193.03" y1="673.04" x2="204.74" y2="662.41" stroke="#c01414" stroke-width="0.4" opacity="0.6"/>
<line x1="158.72" y1="682.7" x2="164.05" y2="673.14" stroke="#c01414" stroke-width="0.4" opacity="0.6"/>
<line x1="130.67" y1="708.48" x2="122.15" y2="702.38" stroke="#c01414" stroke-width="0.4" opacity="0.6"/>
<line x1="185.76" y1="706.9" x2="177.95" y2="699.97" stroke="#c01414" stroke-width="0.4" opacity="0.6"/>
<line x1="179.79" y1="684.51" x2="186.49" y2="681.07" stroke="#c01414" stroke-width="0.4" opacity="0.6"/>
<line x1="186.91" y1="694.83" x2="195.21" y2="684.07" stroke="#c01414" stroke-width="0.4" opacity="0.6"/>
<line x1="186.09" y1="674.19" x2="180.61" y2="663.74" stroke="#c01414" stroke-width="0.4" opacity="0.6"/>
<line x1="156.96" y1="681.21" x2="155.55" y2="670.98" stroke="#c01414" stroke-width="0.4" opacity="0.6"/>
<line x1="205" y1="676" x2="232" y2="681" stroke="#b81414" stroke-width="0.45" opacity="0.55"/>
<line x1="232" y1="681" x2="262" y2="674" stroke="#b81414" stroke-width="0.45" opacity="0.55"/>
<line x1="215" y1="684" x2="240" y2="690" stroke="#b81414" stroke-width="0.45" opacity="0.55"/>
<line x1="240" y1="668" x2="268" y2="662" stroke="#b81414" stroke-width="0.45" opacity="0.55"/>
<line x1="300" y1="640" x2="332" y2="632" stroke="#b81414" stroke-width="0.45" opacity="0.55"/>
<line x1="250" y1="700" x2="290" y2="712" stroke="#b81414" stroke-width="0.45" opacity="0.55"/>
<line x1="290" y1="712" x2="345" y2="742" stroke="#b81414" stroke-width="0.45" opacity="0.55"/>
<line x1="300" y1="652" x2="330" y2="660" stroke="#b81414" stroke-width="0.45" opacity="0.55"/>
<line x1="245" y1="655" x2="275" y2="660" stroke="#b81414" stroke-width="0.45" opacity="0.55"/>
<circle cx="293.71" cy="732.51" r="0.5" fill="#d81616" opacity="0.42"/>
<circle cx="327.96" cy="630.5" r="0.4" fill="#d81616" opacity="0.66"/>
<circle cx="299.61" cy="715.92" r="0.5" fill="#d81616" opacity="0.59"/>
<circle cx="314.51" cy="659.04" r="0.4" fill="#d81616" opacity="0.39"/>
<circle cx="308.45" cy="665.14" r="0.4" fill="#d81616" opacity="0.43"/>
<circle cx="272.76" cy="702.08" r="0.7" fill="#d81616" opacity="0.67"/>
<circle cx="272.27" cy="730.82" r="0.5" fill="#d81616" opacity="0.48"/>
<circle cx="236.5" cy="753.55" r="0.7" fill="#d81616" opacity="0.66"/>
<circle cx="240.97" cy="669.91" r="0.5" fill="#d81616" opacity="0.31"/>
<circle cx="311.71" cy="700.7" r="0.4" fill="#d81616" opacity="0.6"/>
<circle cx="260.76" cy="673.85" r="0.4" fill="#d81616" opacity="0.63"/>
<circle cx="292.86" cy="644.37" r="0.5" fill="#d81616" opacity="0.65"/>
<circle cx="246.44" cy="623.07" r="0.7" fill="#d81616" opacity="0.32"/>
<circle cx="226.18" cy="660.83" r="0.4" fill="#d81616" opacity="0.56"/>
<circle cx="332.71" cy="628.84" r="0.7" fill="#d81616" opacity="0.42"/>
<circle cx="290" cy="666.16" r="0.5" fill="#d81616" opacity="0.59"/>
<circle cx="348.35" cy="631.69" r="0.7" fill="#d81616" opacity="0.56"/>
<circle cx="216.08" cy="732.64" r="0.5" fill="#d81616" opacity="0.4"/>
<circle cx="236.37" cy="725.62" r="0.7" fill="#d81616" opacity="0.44"/>
<circle cx="275.75" cy="668.36" r="0.5" fill="#d81616" opacity="0.57"/>
<circle cx="281.45" cy="694.15" r="0.7" fill="#d81616" opacity="0.33"/>
<circle cx="302" cy="626.38" r="0.7" fill="#d81616" opacity="0.44"/>
<circle cx="200.64" cy="672.16" r="0.4" fill="#d81616" opacity="0.66"/>
<circle cx="358.03" cy="708.36" r="0.7" fill="#d81616" opacity="0.44"/>
<circle cx="201.67" cy="635.17" r="0.5" fill="#d81616" opacity="0.67"/>
<circle cx="240.54" cy="642.39" r="0.7" fill="#d81616" opacity="0.45"/>
<circle cx="227.66" cy="648.2" r="0.5" fill="#d81616" opacity="0.51"/>
<circle cx="245.22" cy="742.28" r="0.5" fill="#d81616" opacity="0.42"/>
<circle cx="218.94" cy="709.42" r="0.4" fill="#d81616" opacity="0.66"/>
<circle cx="324.27" cy="622.37" r="0.5" fill="#d81616" opacity="0.66"/>
<circle cx="206" cy="635" r="0.4" fill="#d81616" opacity="0.44"/>
<circle cx="297.08" cy="702.8" r="0.5" fill="#d81616" opacity="0.54"/>
<circle cx="236.95" cy="645.53" r="0.5" fill="#d81616" opacity="0.46"/>
<circle cx="350.26" cy="749.35" r="0.7" fill="#d81616" opacity="0.52"/>
<circle cx="334.83" cy="686.17" r="0.5" fill="#d81616" opacity="0.49"/>
<circle cx="266.43" cy="751.89" r="0.7" fill="#d81616" opacity="0.52"/>
<circle cx="357.91" cy="686.6" r="0.4" fill="#d81616" opacity="0.46"/>
<circle cx="235.87" cy="638.53" r="0.5" fill="#d81616" opacity="0.69"/>
<circle cx="331.13" cy="726.84" r="0.4" fill="#d81616" opacity="0.56"/>
<circle cx="239.21" cy="621.5" r="0.5" fill="#d81616" opacity="0.66"/>
<circle cx="274.25" cy="654.02" r="0.5" fill="#d81616" opacity="0.54"/>
<circle cx="225.95" cy="641.65" r="0.5" fill="#d81616" opacity="0.36"/>
<circle cx="349.84" cy="731.78" r="0.4" fill="#d81616" opacity="0.55"/>
<circle cx="363.86" cy="656.78" r="0.7" fill="#d81616" opacity="0.32"/>
<circle cx="294.36" cy="644.61" r="0.4" fill="#d81616" opacity="0.63"/>
</g>
<path d="M201.6 654.2 C202.63 656.13 206.5 662.33 207.8 665.8 C209.1 669.27 209.18 671.88 209.4 675 C209.62 678.12 209.78 680.65 209.1 684.5 C208.42 688.35 207.17 694.18 205.3 698.1 C203.43 702.02 201.42 704.9 197.9 708 C194.38 711.1 189.37 713.92 184.2 716.7 C179.03 719.48 173.1 722.55 166.9 724.7 C160.7 726.85 154.03 728.37 147 729.6 C139.97 730.83 132.15 732.05 124.7 732.1 C117.25 732.15 106.03 730.27 102.3 729.9" fill="none" stroke="#fff" stroke-width="1.5" stroke-dasharray="4.2 3.2"/>
<text x="84.7" y="625" font-size="9.4" fill="#e01010">TeNT&#8211;mScarlet</text>
<text x="326.5" y="700.5" font-size="9" fill="#fff" text-anchor="middle" transform="rotate(9 326.5 700.5)">to <tspan font-style="italic">X</tspan></text>
<line x1="302.6" y1="700.6" x2="347.5" y2="706.9" stroke="#fff" stroke-width="0.8"/>
<path d="M350.6 707.4 l-4.2 -2.4 l-0.6 4z" fill="#fff" stroke="none" stroke-width="0.6"/>
<rect x="297.4" y="756.3" width="60.4" height="2" fill="#fff"/>
<text x="0.3" y="776" font-size="14.5" fill="#000" font-weight="bold" textLength="9.35" lengthAdjust="spacingAndGlyphs">k</text>
<line x1="51.1" y1="784.8" x2="51.1" y2="906.3" stroke="#000" stroke-width="0.8"/>
<line x1="51.1" y1="906" x2="138.4" y2="906" stroke="#000" stroke-width="0.8"/>
<line x1="48.3" y1="906" x2="51.1" y2="906" stroke="#000" stroke-width="0.8"/>
<text x="43.5" y="909.3" font-size="9.1" fill="#000" text-anchor="end">0</text>
<line x1="48.3" y1="865.6" x2="51.1" y2="865.6" stroke="#000" stroke-width="0.8"/>
<text x="43.5" y="868.9" font-size="9.1" fill="#000" text-anchor="end">50</text>
<line x1="48.3" y1="825.2" x2="51.1" y2="825.2" stroke="#000" stroke-width="0.8"/>
<text x="43.5" y="828.5" font-size="9.1" fill="#000" text-anchor="end">100</text>
<line x1="48.3" y1="784.8" x2="51.1" y2="784.8" stroke="#000" stroke-width="0.8"/>
<text x="43.5" y="788.1" font-size="9.1" fill="#000" text-anchor="end">150</text>
<line x1="51.1" y1="906" x2="51.1" y2="908.8" stroke="#000" stroke-width="0.8"/>
<text x="51.1" y="921.5" font-size="9.1" fill="#000" text-anchor="middle">2</text>
<line x1="94.3" y1="906" x2="94.3" y2="908.8" stroke="#000" stroke-width="0.8"/>
<text x="94.3" y="921.5" font-size="9.1" fill="#000" text-anchor="middle">3</text>
<line x1="138.1" y1="906" x2="138.1" y2="908.8" stroke="#000" stroke-width="0.8"/>
<text x="138.1" y="921.5" font-size="9.1" fill="#000" text-anchor="middle">4</text>
<text x="94.3" y="933.7" font-size="9.4" fill="#000" text-anchor="middle">Week</text>
<text x="8" y="844.7" font-size="9.5" fill="#000" text-anchor="middle" transform="rotate(-90 8 844.7)">Complete motifs sung</text>
<text x="19" y="844.7" font-size="9.5" fill="#000" text-anchor="middle" transform="rotate(-90 19 844.7)">(week 2 motifs (%)</text>
<rect x="143.1" y="795" width="21" height="111.6" fill="url(#gtent)"/>
<text x="153.6" y="806.1" font-size="8.8" fill="#fff" text-anchor="middle">1.2</text>
<text x="153.6" y="902.2" font-size="8.8" fill="#fff" text-anchor="middle">1.8</text>
<text x="153.6" y="779" font-size="9.4" fill="#000" text-anchor="middle">TeNT</text>
<text x="153.6" y="790.7" font-size="9.4" fill="#000" text-anchor="middle">OD</text>
<path d="M51.1 825.2 L94.3 808.23 L138.1 808.23" fill="none" stroke="#2222f0" stroke-width="1.7" stroke-linejoin="round"/>
<path d="M51.1 825.2 L94.3 818.74 L138.1 874.49" fill="none" stroke="#7a1a9a" stroke-width="1.7" stroke-linejoin="round"/>
<path d="M51.1 825.2 L94.3 825.2 L138.1 839.74" fill="none" stroke="#2a2ae8" stroke-width="1.7" stroke-linejoin="round"/>
<path d="M51.1 825.2 L94.3 831.66 L138.1 868.83" fill="none" stroke="#5a20b0" stroke-width="1.7" stroke-linejoin="round"/>
<path d="M51.1 825.2 L94.3 842.98 L138.1 846.21" fill="none" stroke="#2a2ae8" stroke-width="1.7" stroke-linejoin="round"/>
<path d="M51.1 825.2 L94.3 880.95 L138.1 904.38" fill="none" stroke="#8a1a8a" stroke-width="1.7" stroke-linejoin="round"/>
<path d="M51.1 825.2 L94.3 904.38 L138.1 906" fill="none" stroke="#b02070" stroke-width="1.7" stroke-linejoin="round"/>
<path d="M51.1 825.2 L94.3 901.96 L138.1 901.15" fill="none" stroke="#9a1a80" stroke-width="1.7" stroke-linejoin="round"/>
<path d="M51.1 825.2 L94.3 897.92 L138.1 903.58" fill="none" stroke="#ff1a30" stroke-width="1.7" stroke-linejoin="round"/>
<path d="M51.1 825.2 L94.3 906 L138.1 906" fill="none" stroke="#f0203a" stroke-width="1.7" stroke-linejoin="round"/>
<text x="172.6" y="776" font-size="14.5" fill="#000" font-weight="bold" textLength="4.68" lengthAdjust="spacingAndGlyphs">l</text>
<text x="179.8" y="845" font-size="9.5" fill="#000" text-anchor="middle" transform="rotate(-90 179.8 845)">Complete motifs sung</text>
<text x="191" y="845" font-size="9.5" fill="#000" text-anchor="middle" transform="rotate(-90 191 845)">at week 4 (% baseline)</text>
<line x1="222.3" y1="784.1" x2="222.3" y2="907" stroke="#000" stroke-width="0.8"/>
<line x1="222.3" y1="906.8" x2="282.4" y2="906.8" stroke="#000" stroke-width="0.8"/>
<line x1="219.5" y1="898.7" x2="222.3" y2="898.7" stroke="#000" stroke-width="0.8"/>
<text x="214.7" y="902" font-size="9.1" fill="#000" text-anchor="end">0</text>
<line x1="219.5" y1="860.5" x2="222.3" y2="860.5" stroke="#000" stroke-width="0.8"/>
<text x="214.7" y="863.8" font-size="9.1" fill="#000" text-anchor="end">50</text>
<line x1="219.5" y1="822.3" x2="222.3" y2="822.3" stroke="#000" stroke-width="0.8"/>
<text x="214.7" y="825.6" font-size="9.1" fill="#000" text-anchor="end">100</text>
<line x1="219.5" y1="784.1" x2="222.3" y2="784.1" stroke="#000" stroke-width="0.8"/>
<text x="214.7" y="787.4" font-size="9.1" fill="#000" text-anchor="end">150</text>
<line x1="222.3" y1="906.8" x2="222.3" y2="909.6" stroke="#000" stroke-width="0.8"/>
<text x="222.3" y="921.5" font-size="9.1" fill="#000" text-anchor="middle">1.0</text>
<line x1="252.5" y1="906.8" x2="252.5" y2="909.6" stroke="#000" stroke-width="0.8"/>
<text x="252.5" y="921.5" font-size="9.1" fill="#000" text-anchor="middle">1.5</text>
<line x1="282.4" y1="906.8" x2="282.4" y2="909.6" stroke="#000" stroke-width="0.8"/>
<text x="282.4" y="921.5" font-size="9.1" fill="#000" text-anchor="middle">2.0</text>
<text x="252.5" y="936.4" font-size="9.4" fill="#000" text-anchor="middle">TeNT<tspan font-size="6" dy="-3">+</tspan><tspan dy="3" font-size="1">&#8203;</tspan> OD</text>
<text x="252.5" y="785.5" font-size="9.4" fill="#000" text-anchor="middle">**</text>
<line x1="226.3" y1="898.7" x2="282.4" y2="898.7" stroke="#777" stroke-width="1.3" stroke-dasharray="1.3 3"/>
<line x1="306.5" y1="784.1" x2="306.5" y2="907" stroke="#000" stroke-width="0.8"/>
<line x1="306.5" y1="906.8" x2="367.5" y2="906.8" stroke="#000" stroke-width="0.8"/>
<line x1="303.7" y1="898.7" x2="306.5" y2="898.7" stroke="#000" stroke-width="0.8"/>
<text x="298.9" y="902" font-size="9.1" fill="#000" text-anchor="end">0</text>
<line x1="303.7" y1="860.5" x2="306.5" y2="860.5" stroke="#000" stroke-width="0.8"/>
<text x="298.9" y="863.8" font-size="9.1" fill="#000" text-anchor="end">50</text>
<line x1="303.7" y1="822.3" x2="306.5" y2="822.3" stroke="#000" stroke-width="0.8"/>
<text x="298.9" y="825.6" font-size="9.1" fill="#000" text-anchor="end">100</text>
<line x1="303.7" y1="784.1" x2="306.5" y2="784.1" stroke="#000" stroke-width="0.8"/>
<text x="298.9" y="787.4" font-size="9.1" fill="#000" text-anchor="end">150</text>
<line x1="306.5" y1="906.8" x2="306.5" y2="909.6" stroke="#000" stroke-width="0.8"/>
<text x="306.5" y="921.5" font-size="9.1" fill="#000" text-anchor="middle">0</text>
<line x1="326.7" y1="906.8" x2="326.7" y2="909.6" stroke="#000" stroke-width="0.8"/>
<text x="326.7" y="921.5" font-size="9.1" fill="#000" text-anchor="middle">25</text>
<line x1="346.9" y1="906.8" x2="346.9" y2="909.6" stroke="#000" stroke-width="0.8"/>
<text x="346.9" y="921.5" font-size="9.1" fill="#000" text-anchor="middle">50</text>
<line x1="367.5" y1="906.8" x2="367.5" y2="909.6" stroke="#000" stroke-width="0.8"/>
<text x="367.5" y="921.5" font-size="9.1" fill="#000" text-anchor="middle">75</text>
<text x="336.3" y="936.4" font-size="9.4" fill="#000" text-anchor="middle">TeNT<tspan font-size="6" dy="-3">+</tspan><tspan dy="3" font-size="1">&#8203;</tspan> cells</text>
<text x="336.3" y="785.5" font-size="9.4" fill="#000" text-anchor="middle">**</text>
<line x1="310.5" y1="898.7" x2="367.5" y2="898.7" stroke="#777" stroke-width="1.3" stroke-dasharray="1.3 3"/>
<line x1="235.2" y1="840.3" x2="265.4" y2="906.8" stroke="#000" stroke-width="1.2"/>
<line x1="314.2" y1="851.8" x2="357.9" y2="906.8" stroke="#000" stroke-width="1.2"/>
<circle cx="236.5" cy="806.6" r="3.4" fill="#fff" stroke="#3030f0" stroke-width="1.3" fill-opacity="0.75"/>
<circle cx="235.2" cy="836.4" r="3.4" fill="#fff" stroke="#3030f0" stroke-width="1.3" fill-opacity="0.75"/>
<circle cx="234.5" cy="842.5" r="3.4" fill="#fff" stroke="#3030f0" stroke-width="1.3" fill-opacity="0.75"/>
<circle cx="255.7" cy="863.1" r="3.4" fill="#fff" stroke="#7a20b0" stroke-width="1.3" fill-opacity="0.75"/>
<circle cx="246.1" cy="868.9" r="3.4" fill="#fff" stroke="#7a20b0" stroke-width="1.3" fill-opacity="0.75"/>
<circle cx="245.8" cy="894.2" r="3.4" fill="#fff" stroke="#a0209a" stroke-width="1.3" fill-opacity="0.75"/>
<circle cx="250" cy="898.1" r="3.4" fill="#fff" stroke="#8020b0" stroke-width="1.3" fill-opacity="0.75"/>
<circle cx="258.3" cy="898.4" r="3.4" fill="#fff" stroke="#d0205a" stroke-width="1.3" fill-opacity="0.75"/>
<circle cx="262.5" cy="898.4" r="3.4" fill="#fff" stroke="#7a2090" stroke-width="1.3" fill-opacity="0.75"/>
<circle cx="269.6" cy="898.4" r="3.4" fill="#fff" stroke="#f02030" stroke-width="1.3" fill-opacity="0.75"/>
<circle cx="314.2" cy="806.6" r="3.4" fill="#fff" stroke="#3030f0" stroke-width="1.3" fill-opacity="0.75"/>
<circle cx="316.1" cy="836.4" r="3.4" fill="#fff" stroke="#3030f0" stroke-width="1.3" fill-opacity="0.75"/>
<circle cx="314.8" cy="842.5" r="3.4" fill="#fff" stroke="#3030f0" stroke-width="1.3" fill-opacity="0.75"/>
<circle cx="335.1" cy="863.1" r="3.4" fill="#fff" stroke="#7a20b0" stroke-width="1.3" fill-opacity="0.75"/>
<circle cx="333.5" cy="868.9" r="3.4" fill="#fff" stroke="#7a20b0" stroke-width="1.3" fill-opacity="0.75"/>
<circle cx="319" cy="894.2" r="3.4" fill="#fff" stroke="#a0209a" stroke-width="1.3" fill-opacity="0.75"/>
<circle cx="321.9" cy="898.4" r="3.4" fill="#fff" stroke="#8020b0" stroke-width="1.3" fill-opacity="0.75"/>
<circle cx="334.1" cy="898.4" r="3.4" fill="#fff" stroke="#f02030" stroke-width="1.3" fill-opacity="0.75"/>
<circle cx="339.2" cy="898.4" r="3.4" fill="#fff" stroke="#d0205a" stroke-width="1.3" fill-opacity="0.75"/>
<circle cx="364.9" cy="898.4" r="3.4" fill="#fff" stroke="#e0204a" stroke-width="1.3" fill-opacity="0.75"/>
<text x="385.1" y="618.4" font-size="12.8" fill="#000" font-weight="bold" textLength="4.13" lengthAdjust="spacingAndGlyphs">j</text>
<text x="399.7" y="620.3" font-size="9.4" fill="#000">Bout</text>
<text x="470" y="620.3" font-size="9.4" fill="#c9b9b9">Intro</text>
<text x="539.5" y="620.4" font-size="9.4" fill="#666">Motif</text>
<rect x="399.2" y="623.4" width="282.8" height="1.8" fill="#111"/>
<rect x="400.1" y="626.5" width="30.1" height="1.9" fill="#c4b5b5"/>
<rect x="431" y="626.5" width="117.6" height="1.9" fill="#777"/>
<rect x="548.6" y="626.5" width="8.6" height="1.9" fill="#c4b5b5"/>
<rect x="557.2" y="626.5" width="122.2" height="1.9" fill="#777"/>
<text x="394.6" y="650" font-size="9.4" fill="#000" text-anchor="middle" transform="rotate(-90 394.6 650)">Pre</text>
<rect x="399" y="629.6" width="284.9" height="40.1" fill="#000004"/>
<g clip-path="url(#cpj0)">
<g filter="url(#grainj)">
<ellipse cx="416.3" cy="657.32" rx="2.77" ry="12.3" fill="#0b3be0" opacity="0.62" filter="url(#blur1)"/>
<ellipse cx="416.3" cy="659.11" rx="1.32" ry="9.39" fill="#19c8e8" opacity="0.95" filter="url(#blurh)"/>
<ellipse cx="416.3" cy="660.67" rx="0.66" ry="5.59" fill="#7cf07a" opacity="0.8" filter="url(#blurh)"/>
<ellipse cx="426.05" cy="657.04" rx="2.81" ry="12.6" fill="#0b3be0" opacity="0.62" filter="url(#blur1)"/>
<ellipse cx="426.05" cy="658.88" rx="1.34" ry="9.62" fill="#19c8e8" opacity="0.95" filter="url(#blurh)"/>
<ellipse cx="426.05" cy="660.48" rx="0.67" ry="5.73" fill="#7cf07a" opacity="0.8" filter="url(#blurh)"/>
<ellipse cx="436.2" cy="651.7" rx="3.53" ry="18.21" fill="#0b3be0" opacity="0.62" filter="url(#blur1)" transform="rotate(6 436.2 651.7)"/>
<ellipse cx="436.2" cy="652.75" rx="1.68" ry="15.75" fill="#19c8e8" opacity="0.95" filter="url(#blurh)" transform="rotate(6 436.2 652.75)"/>
<ellipse cx="436.2" cy="654.5" rx="1.09" ry="7.7" fill="#9cf060" opacity="0.9" filter="url(#blurh)" transform="rotate(6 436.2 654.5)"/>
<ellipse cx="436.5" cy="653.8" rx="0.67" ry="3.5" fill="#ffb020" opacity="0.9" filter="url(#blurh)"/>
<ellipse cx="446.1" cy="650.02" rx="3.33" ry="19.22" fill="#0b3be0" opacity="0.62" filter="url(#blur1)" transform="rotate(-5 446.1 650.02)"/>
<ellipse cx="446.1" cy="650.02" rx="1.63" ry="17" fill="#19c8e8" opacity="0.95" filter="url(#blurh)" transform="rotate(-5 446.1 650.02)"/>
<ellipse cx="446.1" cy="649.28" rx="2.22" ry="5.17" fill="#a8f050" opacity="0.95" filter="url(#blurh)"/>
<ellipse cx="446.1" cy="648.91" rx="1.48" ry="2.77" fill="#ff4a10" opacity="1" filter="url(#blurh)"/>
<ellipse cx="457.8" cy="652.4" rx="6.5" ry="17.89" fill="#0b3be0" opacity="0.62" filter="url(#blur1)"/>
<ellipse cx="459.1" cy="650.61" rx="3.9" ry="16.1" fill="#19c8e8" opacity="0.9" filter="url(#blurh)" transform="rotate(-12 459.1 650.61)"/>
<ellipse cx="457.15" cy="656.69" rx="4.68" ry="7.16" fill="#7cf07a" opacity="0.95" filter="url(#blurh)"/>
<ellipse cx="456.76" cy="656.69" rx="3.12" ry="3.58" fill="#ffd020" opacity="1" filter="url(#blurh)"/>
<ellipse cx="456.5" cy="656.69" rx="1.82" ry="1.97" fill="#ff3010" opacity="1" filter="url(#blurh)"/>
<ellipse cx="470.4" cy="650.02" rx="4.4" ry="19.22" fill="#0a34c8" opacity="0.6" filter="url(#blur1)"/>
<ellipse cx="480.8" cy="658.77" rx="3.8" ry="10.11" fill="#0a34c8" opacity="0.6" filter="url(#blur1)"/>
<ellipse cx="491.45" cy="650.02" rx="5.25" ry="19.22" fill="#0a34c8" opacity="0.6" filter="url(#blur1)"/>
<ellipse cx="501.05" cy="650.02" rx="2.85" ry="19.22" fill="#0b3be0" opacity="0.62" filter="url(#blur1)"/>
<ellipse cx="501.05" cy="650.02" rx="1.42" ry="17.74" fill="#19c8e8" opacity="0.95" filter="url(#blurh)"/>
<ellipse cx="501.05" cy="653.72" rx="0.68" ry="7.39" fill="#9cf060" opacity="0.8" filter="url(#blurh)"/>
<ellipse cx="512.35" cy="651.87" rx="6.5" ry="19.22" fill="#0b3be0" opacity="0.62" filter="url(#blur1)"/>
<ellipse cx="512.35" cy="651.87" rx="4.5" ry="15.52" fill="#19c8e8" opacity="0.9" filter="url(#blurh)"/>
<ellipse cx="511.73" cy="652.98" rx="4" ry="9.61" fill="#7cf07a" opacity="0.95" filter="url(#blurh)"/>
<ellipse cx="511.73" cy="649.28" rx="2.5" ry="2.96" fill="#ffe030" opacity="1" filter="url(#blurh)"/>
<ellipse cx="511.1" cy="657.41" rx="2.75" ry="2.96" fill="#ffb020" opacity="1" filter="url(#blurh)"/>
<ellipse cx="510.85" cy="657.41" rx="1.5" ry="1.85" fill="#ff3010" opacity="1" filter="url(#blurh)"/>
<ellipse cx="524.8" cy="650.02" rx="4.7" ry="19.22" fill="#0a34c8" opacity="0.6" filter="url(#blur1)"/>
<ellipse cx="539.95" cy="650.61" rx="8.15" ry="18.61" fill="#0a34c8" opacity="0.6" filter="url(#blur1)"/>
<ellipse cx="553.3" cy="656.92" rx="2.86" ry="12.74" fill="#0b3be0" opacity="0.62" filter="url(#blur1)"/>
<ellipse cx="553.3" cy="658.77" rx="1.36" ry="9.73" fill="#19c8e8" opacity="0.95" filter="url(#blurh)"/>
<ellipse cx="553.3" cy="660.39" rx="0.68" ry="5.79" fill="#7cf07a" opacity="0.8" filter="url(#blurh)"/>
<ellipse cx="562.6" cy="651.7" rx="3.61" ry="18.21" fill="#0b3be0" opacity="0.62" filter="url(#blur1)" transform="rotate(6 562.6 651.7)"/>
<ellipse cx="562.6" cy="652.75" rx="1.72" ry="15.75" fill="#19c8e8" opacity="0.95" filter="url(#blurh)" transform="rotate(6 562.6 652.75)"/>
<ellipse cx="562.6" cy="654.5" rx="1.12" ry="7.7" fill="#9cf060" opacity="0.9" filter="url(#blurh)" transform="rotate(6 562.6 654.5)"/>
<ellipse cx="562.9" cy="653.8" rx="0.69" ry="3.5" fill="#ffb020" opacity="0.9" filter="url(#blurh)"/>
<ellipse cx="572.45" cy="650.02" rx="3.55" ry="19.22" fill="#0b3be0" opacity="0.62" filter="url(#blur1)" transform="rotate(-5 572.45 650.02)"/>
<ellipse cx="572.45" cy="650.02" rx="1.74" ry="17" fill="#19c8e8" opacity="0.95" filter="url(#blurh)" transform="rotate(-5 572.45 650.02)"/>
<ellipse cx="572.45" cy="649.28" rx="2.37" ry="5.17" fill="#a8f050" opacity="0.95" filter="url(#blurh)"/>
<ellipse cx="572.45" cy="648.91" rx="1.58" ry="2.77" fill="#ff4a10" opacity="1" filter="url(#blurh)"/>
<ellipse cx="584.55" cy="652.4" rx="6.55" ry="17.89" fill="#0b3be0" opacity="0.62" filter="url(#blur1)"/>
<ellipse cx="585.86" cy="650.61" rx="3.93" ry="16.1" fill="#19c8e8" opacity="0.9" filter="url(#blurh)" transform="rotate(-12 585.86 650.61)"/>
<ellipse cx="583.89" cy="656.69" rx="4.72" ry="7.16" fill="#7cf07a" opacity="0.95" filter="url(#blurh)"/>
<ellipse cx="583.5" cy="656.69" rx="3.14" ry="3.58" fill="#ffd020" opacity="1" filter="url(#blurh)"/>
<ellipse cx="583.24" cy="656.69" rx="1.83" ry="1.97" fill="#ff3010" opacity="1" filter="url(#blurh)"/>
<ellipse cx="597.25" cy="650.02" rx="4.75" ry="19.22" fill="#0a34c8" opacity="0.6" filter="url(#blur1)"/>
<ellipse cx="607.95" cy="658.77" rx="3.95" ry="10.11" fill="#0a34c8" opacity="0.6" filter="url(#blur1)"/>
<ellipse cx="618.25" cy="650.02" rx="4.95" ry="19.22" fill="#0a34c8" opacity="0.6" filter="url(#blur1)"/>
<ellipse cx="627.65" cy="650.02" rx="3.05" ry="19.22" fill="#0b3be0" opacity="0.62" filter="url(#blur1)"/>
<ellipse cx="627.65" cy="650.02" rx="1.53" ry="17.74" fill="#19c8e8" opacity="0.95" filter="url(#blurh)"/>
<ellipse cx="627.65" cy="653.72" rx="0.73" ry="7.39" fill="#9cf060" opacity="0.8" filter="url(#blurh)"/>
<ellipse cx="639.45" cy="651.87" rx="6.71" ry="19.22" fill="#0b3be0" opacity="0.62" filter="url(#blur1)"/>
<ellipse cx="639.45" cy="651.87" rx="4.64" ry="15.52" fill="#19c8e8" opacity="0.9" filter="url(#blurh)"/>
<ellipse cx="638.81" cy="652.98" rx="4.13" ry="9.61" fill="#7cf07a" opacity="0.95" filter="url(#blurh)"/>
<ellipse cx="638.81" cy="649.28" rx="2.58" ry="2.96" fill="#ffe030" opacity="1" filter="url(#blurh)"/>
<ellipse cx="638.16" cy="657.41" rx="2.84" ry="2.96" fill="#ffb020" opacity="1" filter="url(#blurh)"/>
<ellipse cx="637.9" cy="657.41" rx="1.55" ry="1.85" fill="#ff3010" opacity="1" filter="url(#blurh)"/>
<ellipse cx="652.2" cy="650.02" rx="5" ry="19.22" fill="#0a34c8" opacity="0.6" filter="url(#blur1)"/>
<ellipse cx="668.6" cy="650.61" rx="8.5" ry="18.61" fill="#0a34c8" opacity="0.6" filter="url(#blur1)"/>
</g>
<g filter="url(#grainj2)">
<line x1="466.35" y1="666" x2="474.45" y2="666" stroke="#30d8e8" stroke-width="1.1" opacity="0.95"/>
<line x1="466.35" y1="662.9" x2="474.45" y2="662.9" stroke="#30d8e8" stroke-width="1.1" opacity="0.95"/>
<line x1="466.35" y1="659.8" x2="474.45" y2="659.8" stroke="#60e8c0" stroke-width="1.1" opacity="0.95"/>
<line x1="466.35" y1="656.7" x2="474.45" y2="656.7" stroke="#60e8c0" stroke-width="1.1" opacity="0.95"/>
<line x1="466.35" y1="653.6" x2="474.45" y2="653.6" stroke="#30d8e8" stroke-width="1.1" opacity="0.95"/>
<line x1="466.35" y1="650.5" x2="474.45" y2="650.5" stroke="#2ab0f0" stroke-width="1.1" opacity="0.95"/>
<line x1="466.35" y1="647.4" x2="474.45" y2="647.4" stroke="#2ab0f0" stroke-width="1.1" opacity="0.95"/>
<line x1="467.1" y1="644.3" x2="473.7" y2="644.3" stroke="#2a9cf0" stroke-width="1.1" opacity="0.95"/>
<line x1="467.1" y1="641.2" x2="473.7" y2="641.2" stroke="#2a9cf0" stroke-width="1.1" opacity="0.95"/>
<line x1="467.1" y1="638.1" x2="473.7" y2="638.1" stroke="#2a8cf0" stroke-width="1.1" opacity="0.95"/>
<line x1="467.1" y1="635" x2="473.7" y2="635" stroke="#2a8cf0" stroke-width="1.1" opacity="0.95"/>
<line x1="477.3" y1="666" x2="484.3" y2="666" stroke="#30d8e8" stroke-width="1.1" opacity="0.95"/>
<line x1="477.3" y1="662.9" x2="484.3" y2="662.9" stroke="#30d8e8" stroke-width="1.1" opacity="0.95"/>
<line x1="477.3" y1="659.8" x2="484.3" y2="659.8" stroke="#ffe030" stroke-width="1.1" opacity="0.95"/>
<line x1="477.3" y1="656.7" x2="484.3" y2="656.7" stroke="#d8f040" stroke-width="1.1" opacity="0.95"/>
<line x1="477.95" y1="653.6" x2="483.65" y2="653.6" stroke="#30d8e8" stroke-width="1.1" opacity="0.95"/>
<line x1="477.95" y1="650.5" x2="483.65" y2="650.5" stroke="#30d8e8" stroke-width="1.1" opacity="0.95"/>
<line x1="486.62" y1="666" x2="496.28" y2="666" stroke="#2ac0f0" stroke-width="1.1" opacity="0.95"/>
<line x1="486.62" y1="662.9" x2="496.28" y2="662.9" stroke="#2ac0f0" stroke-width="1.1" opacity="0.95"/>
<line x1="486.62" y1="659.8" x2="496.28" y2="659.8" stroke="#ff9a20" stroke-width="1.1" opacity="0.95"/>
<line x1="486.62" y1="656.7" x2="496.28" y2="656.7" stroke="#ff7010" stroke-width="1.1" opacity="0.95"/>
<line x1="486.62" y1="653.6" x2="496.28" y2="653.6" stroke="#ffd030" stroke-width="1.1" opacity="0.95"/>
<line x1="486.62" y1="650.5" x2="496.28" y2="650.5" stroke="#a8f050" stroke-width="1.1" opacity="0.95"/>
<line x1="486.62" y1="647.4" x2="496.28" y2="647.4" stroke="#30d8e8" stroke-width="1.1" opacity="0.95"/>
<line x1="487.51" y1="644.3" x2="495.39" y2="644.3" stroke="#30d8e8" stroke-width="1.1" opacity="0.95"/>
<line x1="487.51" y1="641.2" x2="495.39" y2="641.2" stroke="#2ac0f0" stroke-width="1.1" opacity="0.95"/>
<line x1="487.51" y1="638.1" x2="495.39" y2="638.1" stroke="#2ac0f0" stroke-width="1.1" opacity="0.95"/>
<line x1="487.51" y1="635" x2="495.39" y2="635" stroke="#2ac0f0" stroke-width="1.1" opacity="0.95"/>
<line x1="520.48" y1="666" x2="529.12" y2="666" stroke="#30d8e8" stroke-width="1.1" opacity="0.95"/>
<line x1="520.48" y1="662.9" x2="529.12" y2="662.9" stroke="#30d8e8" stroke-width="1.1" opacity="0.95"/>
<line x1="520.48" y1="659.8" x2="529.12" y2="659.8" stroke="#60e8e0" stroke-width="1.1" opacity="0.95"/>
<line x1="520.48" y1="656.7" x2="529.12" y2="656.7" stroke="#60e8e0" stroke-width="1.1" opacity="0.95"/>
<line x1="520.48" y1="653.6" x2="529.12" y2="653.6" stroke="#40c8f0" stroke-width="1.1" opacity="0.95"/>
<line x1="520.48" y1="650.5" x2="529.12" y2="650.5" stroke="#2ab0f0" stroke-width="1.1" opacity="0.95"/>
<line x1="520.48" y1="647.4" x2="529.12" y2="647.4" stroke="#2ab0f0" stroke-width="1.1" opacity="0.95"/>
<line x1="521.27" y1="644.3" x2="528.32" y2="644.3" stroke="#2a9cf0" stroke-width="1.1" opacity="0.95"/>
<line x1="521.27" y1="641.2" x2="528.32" y2="641.2" stroke="#2a9cf0" stroke-width="1.1" opacity="0.95"/>
<line x1="521.27" y1="638.1" x2="528.32" y2="638.1" stroke="#2a8cf0" stroke-width="1.1" opacity="0.95"/>
<line x1="521.27" y1="635" x2="528.32" y2="635" stroke="#2a8cf0" stroke-width="1.1" opacity="0.95"/>
<line x1="532.45" y1="666" x2="547.45" y2="666" stroke="#a8f050" stroke-width="1.1" opacity="0.95"/>
<line x1="532.45" y1="662.9" x2="547.45" y2="662.9" stroke="#a8f050" stroke-width="1.1" opacity="0.95"/>
<line x1="532.45" y1="659.8" x2="547.45" y2="659.8" stroke="#ffe030" stroke-width="1.1" opacity="0.95"/>
<line x1="532.45" y1="656.7" x2="547.45" y2="656.7" stroke="#ffb020" stroke-width="1.1" opacity="0.95"/>
<line x1="532.45" y1="653.6" x2="547.45" y2="653.6" stroke="#d8f040" stroke-width="1.1" opacity="0.95"/>
<line x1="532.45" y1="650.5" x2="547.45" y2="650.5" stroke="#a8f050" stroke-width="1.1" opacity="0.95"/>
<line x1="532.45" y1="647.4" x2="547.45" y2="647.4" stroke="#30d8e8" stroke-width="1.1" opacity="0.95"/>
<line x1="533.84" y1="644.3" x2="546.06" y2="644.3" stroke="#2a7cf0" stroke-width="1.1" opacity="0.95"/>
<line x1="533.84" y1="641.2" x2="546.06" y2="641.2" stroke="#2a7cf0" stroke-width="1.1" opacity="0.95"/>
<line x1="533.84" y1="638.1" x2="546.06" y2="638.1" stroke="#2a7cf0" stroke-width="1.1" opacity="0.95"/>
<line x1="533.84" y1="635" x2="546.06" y2="635" stroke="#2a7cf0" stroke-width="1.1" opacity="0.95"/>
<line x1="592.88" y1="666" x2="601.62" y2="666" stroke="#30d8e8" stroke-width="1.1" opacity="0.95"/>
<line x1="592.88" y1="662.9" x2="601.62" y2="662.9" stroke="#30d8e8" stroke-width="1.1" opacity="0.95"/>
<line x1="592.88" y1="659.8" x2="601.62" y2="659.8" stroke="#60e8c0" stroke-width="1.1" opacity="0.95"/>
<line x1="592.88" y1="656.7" x2="601.62" y2="656.7" stroke="#60e8c0" stroke-width="1.1" opacity="0.95"/>
<line x1="592.88" y1="653.6" x2="601.62" y2="653.6" stroke="#30d8e8" stroke-width="1.1" opacity="0.95"/>
<line x1="592.88" y1="650.5" x2="601.62" y2="650.5" stroke="#2ab0f0" stroke-width="1.1" opacity="0.95"/>
<line x1="592.88" y1="647.4" x2="601.62" y2="647.4" stroke="#2ab0f0" stroke-width="1.1" opacity="0.95"/>
<line x1="593.69" y1="644.3" x2="600.81" y2="644.3" stroke="#2a9cf0" stroke-width="1.1" opacity="0.95"/>
<line x1="593.69" y1="641.2" x2="600.81" y2="641.2" stroke="#2a9cf0" stroke-width="1.1" opacity="0.95"/>
<line x1="593.69" y1="638.1" x2="600.81" y2="638.1" stroke="#2a8cf0" stroke-width="1.1" opacity="0.95"/>
<line x1="593.69" y1="635" x2="600.81" y2="635" stroke="#2a8cf0" stroke-width="1.1" opacity="0.95"/>
<line x1="604.32" y1="666" x2="611.58" y2="666" stroke="#30d8e8" stroke-width="1.1" opacity="0.95"/>
<line x1="604.32" y1="662.9" x2="611.58" y2="662.9" stroke="#30d8e8" stroke-width="1.1" opacity="0.95"/>
<line x1="604.32" y1="659.8" x2="611.58" y2="659.8" stroke="#ffe030" stroke-width="1.1" opacity="0.95"/>
<line x1="604.32" y1="656.7" x2="611.58" y2="656.7" stroke="#d8f040" stroke-width="1.1" opacity="0.95"/>
<line x1="604.99" y1="653.6" x2="610.91" y2="653.6" stroke="#30d8e8" stroke-width="1.1" opacity="0.95"/>
<line x1="604.99" y1="650.5" x2="610.91" y2="650.5" stroke="#30d8e8" stroke-width="1.1" opacity="0.95"/>
<line x1="613.7" y1="666" x2="622.8" y2="666" stroke="#2ac0f0" stroke-width="1.1" opacity="0.95"/>
<line x1="613.7" y1="662.9" x2="622.8" y2="662.9" stroke="#2ac0f0" stroke-width="1.1" opacity="0.95"/>
<line x1="613.7" y1="659.8" x2="622.8" y2="659.8" stroke="#ff9a20" stroke-width="1.1" opacity="0.95"/>
<line x1="613.7" y1="656.7" x2="622.8" y2="656.7" stroke="#ff7010" stroke-width="1.1" opacity="0.95"/>
<line x1="613.7" y1="653.6" x2="622.8" y2="653.6" stroke="#ffd030" stroke-width="1.1" opacity="0.95"/>
<line x1="613.7" y1="650.5" x2="622.8" y2="650.5" stroke="#a8f050" stroke-width="1.1" opacity="0.95"/>
<line x1="613.7" y1="647.4" x2="622.8" y2="647.4" stroke="#30d8e8" stroke-width="1.1" opacity="0.95"/>
<line x1="614.54" y1="644.3" x2="621.96" y2="644.3" stroke="#30d8e8" stroke-width="1.1" opacity="0.95"/>
<line x1="614.54" y1="641.2" x2="621.96" y2="641.2" stroke="#2ac0f0" stroke-width="1.1" opacity="0.95"/>
<line x1="614.54" y1="638.1" x2="621.96" y2="638.1" stroke="#2ac0f0" stroke-width="1.1" opacity="0.95"/>
<line x1="614.54" y1="635" x2="621.96" y2="635" stroke="#2ac0f0" stroke-width="1.1" opacity="0.95"/>
<line x1="647.6" y1="666" x2="656.8" y2="666" stroke="#30d8e8" stroke-width="1.1" opacity="0.95"/>
<line x1="647.6" y1="662.9" x2="656.8" y2="662.9" stroke="#30d8e8" stroke-width="1.1" opacity="0.95"/>
<line x1="647.6" y1="659.8" x2="656.8" y2="659.8" stroke="#60e8e0" stroke-width="1.1" opacity="0.95"/>
<line x1="647.6" y1="656.7" x2="656.8" y2="656.7" stroke="#60e8e0" stroke-width="1.1" opacity="0.95"/>
<line x1="647.6" y1="653.6" x2="656.8" y2="653.6" stroke="#40c8f0" stroke-width="1.1" opacity="0.95"/>
<line x1="647.6" y1="650.5" x2="656.8" y2="650.5" stroke="#2ab0f0" stroke-width="1.1" opacity="0.95"/>
<line x1="647.6" y1="647.4" x2="656.8" y2="647.4" stroke="#2ab0f0" stroke-width="1.1" opacity="0.95"/>
<line x1="648.45" y1="644.3" x2="655.95" y2="644.3" stroke="#2a9cf0" stroke-width="1.1" opacity="0.95"/>
<line x1="648.45" y1="641.2" x2="655.95" y2="641.2" stroke="#2a9cf0" stroke-width="1.1" opacity="0.95"/>
<line x1="648.45" y1="638.1" x2="655.95" y2="638.1" stroke="#2a8cf0" stroke-width="1.1" opacity="0.95"/>
<line x1="648.45" y1="635" x2="655.95" y2="635" stroke="#2a8cf0" stroke-width="1.1" opacity="0.95"/>
<line x1="660.78" y1="666" x2="676.42" y2="666" stroke="#a8f050" stroke-width="1.1" opacity="0.95"/>
<line x1="660.78" y1="662.9" x2="676.42" y2="662.9" stroke="#a8f050" stroke-width="1.1" opacity="0.95"/>
<line x1="660.78" y1="659.8" x2="676.42" y2="659.8" stroke="#ffe030" stroke-width="1.1" opacity="0.95"/>
<line x1="660.78" y1="656.7" x2="676.42" y2="656.7" stroke="#ffb020" stroke-width="1.1" opacity="0.95"/>
<line x1="660.78" y1="653.6" x2="676.42" y2="653.6" stroke="#d8f040" stroke-width="1.1" opacity="0.95"/>
<line x1="660.78" y1="650.5" x2="676.42" y2="650.5" stroke="#a8f050" stroke-width="1.1" opacity="0.95"/>
<line x1="660.78" y1="647.4" x2="676.42" y2="647.4" stroke="#30d8e8" stroke-width="1.1" opacity="0.95"/>
<line x1="662.23" y1="644.3" x2="674.98" y2="644.3" stroke="#2a7cf0" stroke-width="1.1" opacity="0.95"/>
<line x1="662.23" y1="641.2" x2="674.98" y2="641.2" stroke="#2a7cf0" stroke-width="1.1" opacity="0.95"/>
<line x1="662.23" y1="638.1" x2="674.98" y2="638.1" stroke="#2a7cf0" stroke-width="1.1" opacity="0.95"/>
<line x1="662.23" y1="635" x2="674.98" y2="635" stroke="#2a7cf0" stroke-width="1.1" opacity="0.95"/>
</g>
<rect x="399" y="629.6" width="284.9" height="40.1" fill="url(#ghz)" filter="url(#grainhz)" opacity="0.9"/>
<rect x="399" y="665.7" width="284.9" height="4" fill="#061f88"/>
<line x1="399" y1="667.9" x2="683.9" y2="667.9" stroke="#1a5fd0" stroke-width="1.8" stroke-dasharray="1.5 2.2 0.8 1.4 2.4 1.1" opacity="0.6"/>
</g>
<rect x="401.4" y="631.6" width="16.6" height="2.2" fill="#fff"/>
<rect x="413" y="670.8" width="6.6" height="2.2" fill="#c9b9b9"/>
<rect x="422.7" y="670.8" width="6.7" height="2.2" fill="#c9b9b9"/>
<rect x="432" y="670.8" width="8.4" height="2.2" fill="#7a4a2a"/>
<rect x="442.4" y="670.8" width="7.4" height="2.2" fill="#f5b080"/>
<rect x="451.3" y="670.8" width="13" height="2.2" fill="#c87a4a"/>
<rect x="466" y="670.8" width="8.8" height="2.2" fill="#6a5a50"/>
<rect x="477" y="670.8" width="7.6" height="2.2" fill="#b8a8a0"/>
<rect x="486.2" y="670.8" width="10.5" height="2.2" fill="#4a4038"/>
<rect x="498.2" y="670.8" width="5.7" height="2.2" fill="#a08a2a"/>
<rect x="506.1" y="670.8" width="12.5" height="2.2" fill="#5a4a1a"/>
<rect x="520.1" y="670.8" width="9.4" height="2.2" fill="#c8b050"/>
<rect x="531.8" y="670.8" width="16.3" height="2.2" fill="#3a3020"/>
<rect x="549.9" y="670.8" width="6.8" height="2.2" fill="#c9b9b9"/>
<rect x="558.3" y="670.8" width="8.6" height="2.2" fill="#7a4a2a"/>
<rect x="568.5" y="670.8" width="7.9" height="2.2" fill="#f5b080"/>
<rect x="578" y="670.8" width="13.1" height="2.2" fill="#c87a4a"/>
<rect x="592.5" y="670.8" width="9.5" height="2.2" fill="#6a5a50"/>
<rect x="604" y="670.8" width="7.9" height="2.2" fill="#b8a8a0"/>
<rect x="613.3" y="670.8" width="9.9" height="2.2" fill="#4a4038"/>
<rect x="624.6" y="670.8" width="6.1" height="2.2" fill="#a08a2a"/>
<rect x="633" y="670.8" width="12.9" height="2.2" fill="#5a4a1a"/>
<rect x="647.2" y="670.8" width="10" height="2.2" fill="#c8b050"/>
<rect x="660.1" y="670.8" width="17" height="2.2" fill="#3a3020"/>
<text x="416.3" y="683.8" font-size="9.4" fill="#c9b9b9" text-anchor="middle">i</text>
<text x="426.05" y="683.8" font-size="9.4" fill="#c9b9b9" text-anchor="middle">i</text>
<text x="436.2" y="683.8" font-size="9.4" fill="#7a4a2a" text-anchor="middle">A</text>
<text x="446.1" y="683.8" font-size="9.4" fill="#f5b080" text-anchor="middle">B</text>
<text x="457.8" y="683.8" font-size="9.4" fill="#c87a4a" text-anchor="middle">C</text>
<text x="470.4" y="683.8" font-size="9.4" fill="#6a5a50" text-anchor="middle">D</text>
<text x="480.8" y="683.8" font-size="9.4" fill="#b8a8a0" text-anchor="middle">E</text>
<text x="491.45" y="683.8" font-size="9.4" fill="#4a4038" text-anchor="middle">F</text>
<text x="501.05" y="683.8" font-size="9.4" fill="#a08a2a" text-anchor="middle">G</text>
<text x="512.35" y="683.8" font-size="9.4" fill="#5a4a1a" text-anchor="middle">H</text>
<text x="524.8" y="683.8" font-size="9.4" fill="#c8b050" text-anchor="middle">J</text>
<text x="539.95" y="683.8" font-size="9.4" fill="#3a3020" text-anchor="middle">K</text>
<path d="M401.6 684.5 Q395.9 691 395.9 703 L395.9 795 Q395.9 804 393 806.9 Q395.9 810 395.9 819 L395.9 916 Q395.9 927 400.5 932.5" fill="none" stroke="#222" stroke-width="0.7"/>
<text x="388.9" y="806.9" font-size="9.3" fill="#000" text-anchor="middle" transform="rotate(-90 388.9 806.9)">W3</text>
<rect x="404.5" y="688" width="16.5" height="1.6" fill="#c4b5b5"/>
<rect x="423.2" y="688" width="77" height="1.6" fill="#777"/>
<path d="M499.7 689.6 l0 -1.8 l3 1.8z" fill="#f01010" stroke="none" stroke-width="0.6"/>
<rect x="526.9" y="688" width="27.6" height="1.6" fill="#c4b5b5"/>
<rect x="556.8" y="688" width="30.2" height="1.6" fill="#777"/>
<path d="M586.5 689.6 l0 -1.8 l3 1.8z" fill="#f01010" stroke="none" stroke-width="0.6"/>
<rect x="398.7" y="691.2" width="199.1" height="39.7" fill="#000004"/>
<g clip-path="url(#cpj1)">
<g filter="url(#grainj)">
<path d="M397.86 729.7 Q401.11 717.55 403.73 702.69 Q405.77 717.55 408.44 729.7Z" fill="#0b3be0" opacity="0.8" filter="url(#blur1)"/>
<path d="M399.5 729.7 Q401.76 718.52 403.59 704.85 Q404.97 718.52 406.8 729.7Z" fill="#19c0e8" opacity="0.95" filter="url(#blurh)"/>
<path d="M400.89 729.7 Q402.15 722.16 403.15 712.95 Q404.15 722.16 405.41 729.7Z" fill="#7cf07a" opacity="0.9" filter="url(#blurh)"/>
<path d="M409.26 729.7 Q412.11 718.67 414.41 705.18 Q416.2 718.67 418.54 729.7Z" fill="#0b3be0" opacity="0.8" filter="url(#blur1)"/>
<path d="M410.7 729.7 Q412.68 719.55 414.28 707.15 Q415.5 719.55 417.1 729.7Z" fill="#19c0e8" opacity="0.95" filter="url(#blurh)"/>
<path d="M411.92 729.7 Q413.03 722.86 413.9 714.5 Q414.77 722.86 415.88 729.7Z" fill="#7cf07a" opacity="0.9" filter="url(#blurh)"/>
<path d="M418.48 729.7 Q422.09 713.07 425 692.74 Q427.26 713.07 430.22 729.7Z" fill="#0b3be0" opacity="0.8" filter="url(#blur1)"/>
<path d="M420.3 729.7 Q422.81 714.4 424.84 695.7 Q426.38 714.4 428.4 729.7Z" fill="#19c0e8" opacity="0.95" filter="url(#blurh)"/>
<path d="M421.84 729.7 Q423.25 719.39 424.35 706.78 Q425.45 719.39 426.86 729.7Z" fill="#7cf07a" opacity="0.9" filter="url(#blurh)"/>
<ellipse cx="424.35" cy="718.61" rx="1.94" ry="4.8" fill="#ffd828" opacity="0.95" filter="url(#blurh)"/>
<path d="M428.43 729.7 Q431.55 713.07 434.06 692.74 Q436.01 713.07 438.57 729.7Z" fill="#0b3be0" opacity="0.8" filter="url(#blur1)"/>
<path d="M430 729.7 Q432.17 714.4 433.92 695.7 Q435.25 714.4 437 729.7Z" fill="#19c0e8" opacity="0.95" filter="url(#blurh)"/>
<path d="M431.33 729.7 Q432.55 719.39 433.5 706.78 Q434.45 719.39 435.67 729.7Z" fill="#7cf07a" opacity="0.9" filter="url(#blurh)"/>
<ellipse cx="433.5" cy="718.61" rx="1.68" ry="4.8" fill="#ffd828" opacity="0.95" filter="url(#blurh)"/>
<ellipse cx="433.22" cy="717.5" rx="0.84" ry="2.22" fill="#ff4010" opacity="1" filter="url(#blurh)"/>
<path d="M435.12 729.7 Q440.83 713.07 445.42 692.74 Q449 713.07 453.68 729.7Z" fill="#0b3be0" opacity="0.8" filter="url(#blur1)"/>
<path d="M438 729.7 Q441.97 714.4 445.17 695.7 Q447.6 714.4 450.8 729.7Z" fill="#19c0e8" opacity="0.95" filter="url(#blurh)"/>
<path d="M440.43 729.7 Q442.65 719.39 444.4 706.78 Q446.15 719.39 448.37 729.7Z" fill="#7cf07a" opacity="0.9" filter="url(#blurh)"/>
<ellipse cx="444.4" cy="718.61" rx="3.07" ry="4.8" fill="#ffd828" opacity="0.95" filter="url(#blurh)"/>
<ellipse cx="443.89" cy="717.5" rx="1.54" ry="2.22" fill="#ff4010" opacity="1" filter="url(#blurh)"/>
<ellipse cx="442.86" cy="714.92" rx="2.05" ry="2.59" fill="#ff3010" opacity="1" filter="url(#blurh)"/>
<path d="M450.58 729.7 Q454.19 713.07 457.1 692.74 Q459.36 713.07 462.32 729.7Z" fill="#0b3be0" opacity="0.8" filter="url(#blur1)"/>
<path d="M452.4 729.7 Q454.91 714.4 456.94 695.7 Q458.47 714.4 460.5 729.7Z" fill="#19c0e8" opacity="0.95" filter="url(#blurh)"/>
<path d="M454.02 729.7 Q455.38 721.38 456.45 711.22 Q457.52 721.38 458.88 729.7Z" fill="#60e0b0" opacity="0.7" filter="url(#blurh)"/>
<path d="M462.03 729.7 Q465.34 720.17 467.99 708.52 Q470.06 720.17 472.76 729.7Z" fill="#0b3be0" opacity="0.8" filter="url(#blur1)"/>
<path d="M463.7 729.7 Q465.99 720.93 467.84 710.22 Q469.25 720.93 471.1 729.7Z" fill="#19c0e8" opacity="0.95" filter="url(#blurh)"/>
<path d="M465.18 729.7 Q466.42 724.94 467.4 719.11 Q468.38 724.94 469.62 729.7Z" fill="#60e0b0" opacity="0.7" filter="url(#blurh)"/>
<path d="M470.41 729.7 Q474.16 713.07 477.17 692.74 Q479.52 713.07 482.59 729.7Z" fill="#0b3be0" opacity="0.8" filter="url(#blur1)"/>
<path d="M472.3 729.7 Q474.9 714.4 477 695.7 Q478.6 714.4 480.7 729.7Z" fill="#19c0e8" opacity="0.95" filter="url(#blurh)"/>
<path d="M473.98 729.7 Q475.39 721.38 476.5 711.22 Q477.61 721.38 479.02 729.7Z" fill="#60e0b0" opacity="0.7" filter="url(#blurh)"/>
<path d="M480.85 729.7 Q483.13 713.24 484.96 693.12 Q486.38 713.24 488.25 729.7Z" fill="#0b3be0" opacity="0.8" filter="url(#blur1)"/>
<path d="M482 729.7 Q483.58 714.56 484.86 696.05 Q485.83 714.56 487.1 729.7Z" fill="#19c0e8" opacity="0.95" filter="url(#blurh)"/>
<path d="M482.97 729.7 Q483.85 719.5 484.55 707.02 Q485.25 719.5 486.13 729.7Z" fill="#7cf07a" opacity="0.9" filter="url(#blurh)"/>
<path d="M487.62 729.7 Q492.93 713.07 497.2 692.74 Q500.52 713.07 504.88 729.7Z" fill="#0b3be0" opacity="0.8" filter="url(#blur1)"/>
<path d="M490.3 729.7 Q493.99 714.4 496.96 695.7 Q499.23 714.4 502.2 729.7Z" fill="#19c0e8" opacity="0.95" filter="url(#blurh)"/>
<path d="M492.56 729.7 Q494.63 719.39 496.25 706.78 Q497.87 719.39 499.94 729.7Z" fill="#7cf07a" opacity="0.9" filter="url(#blurh)"/>
<ellipse cx="496.25" cy="718.61" rx="2.86" ry="4.8" fill="#ffd828" opacity="0.95" filter="url(#blurh)"/>
<ellipse cx="495.77" cy="717.5" rx="1.43" ry="2.22" fill="#ff4010" opacity="1" filter="url(#blurh)"/>
<path d="M528.06 729.7 Q530.91 721.4 533.21 711.26 Q535 721.4 537.34 729.7Z" fill="#0b3be0" opacity="0.8" filter="url(#blur1)"/>
<path d="M529.5 729.7 Q531.48 722.07 533.08 712.74 Q534.3 722.07 535.9 729.7Z" fill="#19c0e8" opacity="0.95" filter="url(#blurh)"/>
<path d="M530.72 729.7 Q531.83 724.56 532.7 718.27 Q533.57 724.56 534.68 729.7Z" fill="#7cf07a" opacity="0.9" filter="url(#blurh)"/>
<path d="M539.24 729.7 Q542.14 719.76 544.47 707.6 Q546.28 719.76 548.66 729.7Z" fill="#0b3be0" opacity="0.8" filter="url(#blur1)"/>
<path d="M540.7 729.7 Q542.72 720.55 544.34 709.37 Q545.58 720.55 547.2 729.7Z" fill="#19c0e8" opacity="0.95" filter="url(#blurh)"/>
<path d="M541.94 729.7 Q543.06 723.53 543.95 716 Q544.84 723.53 545.97 729.7Z" fill="#7cf07a" opacity="0.9" filter="url(#blurh)"/>
<path d="M555 729.7 Q558.57 713.07 561.44 692.74 Q563.67 713.07 566.6 729.7Z" fill="#0b3be0" opacity="0.8" filter="url(#blur1)"/>
<path d="M556.8 729.7 Q559.28 714.4 561.28 695.7 Q562.8 714.4 564.8 729.7Z" fill="#19c0e8" opacity="0.95" filter="url(#blurh)"/>
<path d="M558.32 729.7 Q559.71 719.39 560.8 706.78 Q561.89 719.39 563.28 729.7Z" fill="#7cf07a" opacity="0.9" filter="url(#blurh)"/>
<ellipse cx="560.8" cy="718.61" rx="1.92" ry="4.8" fill="#ffd828" opacity="0.95" filter="url(#blurh)"/>
<path d="M564.58 729.7 Q568.19 713.07 571.1 692.74 Q573.36 713.07 576.32 729.7Z" fill="#0b3be0" opacity="0.8" filter="url(#blur1)"/>
<path d="M566.4 729.7 Q568.91 714.4 570.94 695.7 Q572.48 714.4 574.5 729.7Z" fill="#19c0e8" opacity="0.95" filter="url(#blurh)"/>
<path d="M567.94 729.7 Q569.35 719.39 570.45 706.78 Q571.55 719.39 572.96 729.7Z" fill="#7cf07a" opacity="0.9" filter="url(#blurh)"/>
<ellipse cx="570.45" cy="718.61" rx="1.94" ry="4.8" fill="#ffd828" opacity="0.95" filter="url(#blurh)"/>
<ellipse cx="570.13" cy="717.5" rx="0.97" ry="2.22" fill="#ff4010" opacity="1" filter="url(#blurh)"/>
<path d="M572.72 729.7 Q578.03 713.07 582.3 692.74 Q585.62 713.07 589.98 729.7Z" fill="#0b3be0" opacity="0.8" filter="url(#blur1)"/>
<path d="M575.4 729.7 Q579.09 714.4 582.06 695.7 Q584.32 714.4 587.3 729.7Z" fill="#19c0e8" opacity="0.95" filter="url(#blurh)"/>
<path d="M577.66 729.7 Q579.73 719.39 581.35 706.78 Q582.97 719.39 585.04 729.7Z" fill="#7cf07a" opacity="0.9" filter="url(#blurh)"/>
<ellipse cx="581.35" cy="718.61" rx="2.86" ry="4.8" fill="#ffd828" opacity="0.95" filter="url(#blurh)"/>
<ellipse cx="580.87" cy="717.5" rx="1.43" ry="2.22" fill="#ff4010" opacity="1" filter="url(#blurh)"/>
<ellipse cx="579.92" cy="714.92" rx="1.9" ry="2.59" fill="#ff3010" opacity="1" filter="url(#blurh)"/>
</g>
<g filter="url(#grainj2)">
<line x1="452.6" y1="726.7" x2="460.3" y2="726.7" stroke="#a8f050" stroke-width="1" opacity="0.9"/>
<line x1="452.83" y1="723.4" x2="460.07" y2="723.4" stroke="#a8f050" stroke-width="1" opacity="0.9"/>
<line x1="453.05" y1="720.1" x2="459.85" y2="720.1" stroke="#a8f050" stroke-width="1" opacity="0.9"/>
<line x1="453.27" y1="716.8" x2="459.63" y2="716.8" stroke="#a8f050" stroke-width="1" opacity="0.9"/>
<line x1="453.49" y1="713.5" x2="459.41" y2="713.5" stroke="#40d0f0" stroke-width="1" opacity="0.9"/>
<line x1="453.72" y1="710.2" x2="459.18" y2="710.2" stroke="#40d0f0" stroke-width="1" opacity="0.9"/>
<line x1="453.94" y1="706.9" x2="458.96" y2="706.9" stroke="#40d0f0" stroke-width="1" opacity="0.9"/>
<line x1="454.16" y1="703.6" x2="458.74" y2="703.6" stroke="#40d0f0" stroke-width="1" opacity="0.9"/>
<line x1="454.38" y1="700.3" x2="458.52" y2="700.3" stroke="#40d0f0" stroke-width="1" opacity="0.9"/>
<line x1="454.61" y1="697" x2="458.29" y2="697" stroke="#40d0f0" stroke-width="1" opacity="0.9"/>
<line x1="454.83" y1="693.7" x2="458.07" y2="693.7" stroke="#40d0f0" stroke-width="1" opacity="0.9"/>
<line x1="463.88" y1="726.7" x2="470.92" y2="726.7" stroke="#a8f050" stroke-width="1" opacity="0.9"/>
<line x1="464.29" y1="723.4" x2="470.51" y2="723.4" stroke="#ffe030" stroke-width="1" opacity="0.9"/>
<line x1="464.7" y1="720.1" x2="470.1" y2="720.1" stroke="#ffe030" stroke-width="1" opacity="0.9"/>
<line x1="465.11" y1="716.8" x2="469.69" y2="716.8" stroke="#40d0f0" stroke-width="1" opacity="0.9"/>
<line x1="465.51" y1="713.5" x2="469.29" y2="713.5" stroke="#40d0f0" stroke-width="1" opacity="0.9"/>
<line x1="465.92" y1="710.2" x2="468.88" y2="710.2" stroke="#40d0f0" stroke-width="1" opacity="0.9"/>
<line x1="472.51" y1="726.7" x2="480.49" y2="726.7" stroke="#a8f050" stroke-width="1" opacity="0.9"/>
<line x1="472.74" y1="723.4" x2="480.26" y2="723.4" stroke="#a8f050" stroke-width="1" opacity="0.9"/>
<line x1="472.97" y1="720.1" x2="480.03" y2="720.1" stroke="#ffe030" stroke-width="1" opacity="0.9"/>
<line x1="473.2" y1="716.8" x2="479.8" y2="716.8" stroke="#ffe030" stroke-width="1" opacity="0.9"/>
<line x1="473.43" y1="713.5" x2="479.57" y2="713.5" stroke="#ffe030" stroke-width="1" opacity="0.9"/>
<line x1="473.67" y1="710.2" x2="479.33" y2="710.2" stroke="#ffe030" stroke-width="1" opacity="0.9"/>
<line x1="473.9" y1="706.9" x2="479.1" y2="706.9" stroke="#40d0f0" stroke-width="1" opacity="0.9"/>
<line x1="474.13" y1="703.6" x2="478.87" y2="703.6" stroke="#40d0f0" stroke-width="1" opacity="0.9"/>
<line x1="474.36" y1="700.3" x2="478.64" y2="700.3" stroke="#40d0f0" stroke-width="1" opacity="0.9"/>
<line x1="474.59" y1="697" x2="478.41" y2="697" stroke="#40d0f0" stroke-width="1" opacity="0.9"/>
<line x1="474.82" y1="693.7" x2="478.18" y2="693.7" stroke="#40d0f0" stroke-width="1" opacity="0.9"/>
</g>
<rect x="398.7" y="691.2" width="199.1" height="39.7" fill="url(#ghz)" filter="url(#grainhz)" opacity="0.15"/>
<rect x="398.7" y="729.7" width="199.1" height="1.2" fill="#0a50d8"/>
<line x1="398.7" y1="730.36" x2="597.8" y2="730.36" stroke="#22b8e8" stroke-width="0.54" stroke-dasharray="1.5 2.2 0.8 1.4 2.4 1.1" opacity="0.85"/>
</g>
<rect x="399.5" y="732.2" width="7.3" height="2" fill="#c9b9b9"/>
<text x="403.15" y="745.8" font-size="9.4" fill="#c9b9b9" text-anchor="middle">i</text>
<rect x="410.7" y="732.2" width="6.4" height="2" fill="#c9b9b9"/>
<text x="413.9" y="745.8" font-size="9.4" fill="#c9b9b9" text-anchor="middle">i</text>
<rect x="420.3" y="732.2" width="8.1" height="2" fill="#7a4a2a"/>
<text x="424.35" y="745.8" font-size="9.4" fill="#7a4a2a" text-anchor="middle">A</text>
<rect x="430" y="732.2" width="7" height="2" fill="#f5b080"/>
<text x="433.5" y="745.8" font-size="9.4" fill="#f5b080" text-anchor="middle">B</text>
<rect x="438" y="732.2" width="12.8" height="2" fill="#c87a4a"/>
<text x="444.4" y="745.8" font-size="9.4" fill="#c87a4a" text-anchor="middle">C</text>
<rect x="452.4" y="732.2" width="8.1" height="2" fill="#6a5a50"/>
<text x="456.45" y="745.8" font-size="9.4" fill="#6a5a50" text-anchor="middle">D</text>
<rect x="463.7" y="732.2" width="7.4" height="2" fill="#b8a8a0"/>
<text x="467.4" y="745.8" font-size="9.4" fill="#b8a8a0" text-anchor="middle">E</text>
<rect x="472.3" y="732.2" width="8.4" height="2" fill="#4a4038"/>
<text x="476.5" y="745.8" font-size="9.4" fill="#4a4038" text-anchor="middle">F</text>
<rect x="482" y="732.2" width="5.1" height="2" fill="#a08a2a"/>
<text x="484.55" y="745.8" font-size="9.4" fill="#a08a2a" text-anchor="middle">G</text>
<rect x="490.3" y="732.2" width="11.9" height="2" fill="#5a4a1a"/>
<text x="496.25" y="745.8" font-size="9.4" fill="#5a4a1a" text-anchor="middle">H</text>
<rect x="529.5" y="732.2" width="6.4" height="2" fill="#c9b9b9"/>
<text x="532.7" y="745.8" font-size="9.4" fill="#c9b9b9" text-anchor="middle">i</text>
<rect x="540.7" y="732.2" width="6.5" height="2" fill="#c9b9b9"/>
<text x="543.95" y="745.8" font-size="9.4" fill="#c9b9b9" text-anchor="middle">i</text>
<rect x="556.8" y="732.2" width="8" height="2" fill="#7a4a2a"/>
<text x="560.8" y="745.8" font-size="9.4" fill="#7a4a2a" text-anchor="middle">A</text>
<rect x="566.4" y="732.2" width="8.1" height="2" fill="#f5b080"/>
<text x="570.45" y="745.8" font-size="9.4" fill="#f5b080" text-anchor="middle">B</text>
<rect x="575.4" y="732.2" width="11.9" height="2" fill="#c87a4a"/>
<text x="581.35" y="745.8" font-size="9.4" fill="#c87a4a" text-anchor="middle">C</text>
<line x1="504.8" y1="731.4" x2="504.8" y2="745.8" stroke="#f01010" stroke-width="2.1" stroke-dasharray="2.7 1.2"/>
<line x1="589.6" y1="731.4" x2="589.6" y2="745.8" stroke="#f01010" stroke-width="2.1" stroke-dasharray="2.7 1.2"/>
<rect x="421" y="750.5" width="8" height="1.6" fill="#c4b5b5"/>
<rect x="434.8" y="750.5" width="53.6" height="1.6" fill="#777"/>
<path d="M487.9 752.1 l0 -1.8 l3 1.8z" fill="#f01010" stroke="none" stroke-width="0.6"/>
<rect x="536.6" y="750.5" width="41.1" height="1.6" fill="#777"/>
<path d="M577.2 752.1 l0 -1.8 l3 1.8z" fill="#f01010" stroke="none" stroke-width="0.6"/>
<rect x="398.7" y="754.5" width="199.1" height="38.7" fill="#000004"/>
<g clip-path="url(#cpj2)">
<g filter="url(#grainj)">
<path d="M419.56 792 Q422.41 780.06 424.71 765.46 Q426.5 780.06 428.84 792Z" fill="#0b3be0" opacity="0.8" filter="url(#blur1)"/>
<path d="M421 792 Q422.98 781.01 424.58 767.59 Q425.8 781.01 427.4 792Z" fill="#19c0e8" opacity="0.95" filter="url(#blurh)"/>
<path d="M422.22 792 Q423.33 784.6 424.2 775.55 Q425.07 784.6 426.18 792Z" fill="#7cf07a" opacity="0.9" filter="url(#blurh)"/>
<path d="M434.74 792 Q438.04 775.8 440.69 756 Q442.76 775.8 445.47 792Z" fill="#0b3be0" opacity="0.8" filter="url(#blur1)"/>
<path d="M436.4 792 Q438.69 777.1 440.54 758.88 Q441.95 777.1 443.8 792Z" fill="#19c0e8" opacity="0.95" filter="url(#blurh)"/>
<path d="M437.81 792 Q439.09 781.96 440.1 769.68 Q441.11 781.96 442.39 792Z" fill="#7cf07a" opacity="0.9" filter="url(#blurh)"/>
<ellipse cx="440.1" cy="781.2" rx="1.78" ry="4.68" fill="#ffd828" opacity="0.95" filter="url(#blurh)"/>
<path d="M443.82 792 Q446.95 775.8 449.46 756 Q451.41 775.8 453.97 792Z" fill="#0b3be0" opacity="0.8" filter="url(#blur1)"/>
<path d="M445.4 792 Q447.57 777.1 449.32 758.88 Q450.65 777.1 452.4 792Z" fill="#19c0e8" opacity="0.95" filter="url(#blurh)"/>
<path d="M446.73 792 Q447.95 781.96 448.9 769.68 Q449.85 781.96 451.07 792Z" fill="#7cf07a" opacity="0.9" filter="url(#blurh)"/>
<ellipse cx="448.9" cy="781.2" rx="1.68" ry="4.68" fill="#ffd828" opacity="0.95" filter="url(#blurh)"/>
<ellipse cx="448.62" cy="780.12" rx="0.84" ry="2.16" fill="#ff4010" opacity="1" filter="url(#blurh)"/>
<path d="M450.89 792 Q456.46 775.8 460.95 756 Q464.44 775.8 469.01 792Z" fill="#0b3be0" opacity="0.8" filter="url(#blur1)"/>
<path d="M453.7 792 Q457.57 777.1 460.7 758.88 Q463.07 777.1 466.2 792Z" fill="#19c0e8" opacity="0.95" filter="url(#blurh)"/>
<path d="M456.07 792 Q458.25 781.96 459.95 769.68 Q461.65 781.96 463.82 792Z" fill="#7cf07a" opacity="0.9" filter="url(#blurh)"/>
<ellipse cx="459.95" cy="781.2" rx="3" ry="4.68" fill="#ffd828" opacity="0.95" filter="url(#blurh)"/>
<ellipse cx="459.45" cy="780.12" rx="1.5" ry="2.16" fill="#ff4010" opacity="1" filter="url(#blurh)"/>
<ellipse cx="458.45" cy="777.6" rx="2" ry="2.52" fill="#ff3010" opacity="1" filter="url(#blurh)"/>
<path d="M465.96 792 Q469.8 775.8 472.89 756 Q475.29 775.8 478.44 792Z" fill="#0b3be0" opacity="0.8" filter="url(#blur1)"/>
<path d="M467.9 792 Q470.57 777.1 472.72 758.88 Q474.35 777.1 476.5 792Z" fill="#19c0e8" opacity="0.95" filter="url(#blurh)"/>
<path d="M469.62 792 Q471.06 783.9 472.2 774 Q473.34 783.9 474.78 792Z" fill="#60e0b0" opacity="0.7" filter="url(#blurh)"/>
<path d="M476.44 792 Q479.74 782.72 482.39 771.38 Q484.46 782.72 487.17 792Z" fill="#0b3be0" opacity="0.8" filter="url(#blur1)"/>
<path d="M478.1 792 Q480.39 783.46 482.24 773.02 Q483.65 783.46 485.5 792Z" fill="#19c0e8" opacity="0.95" filter="url(#blurh)"/>
<path d="M479.58 792 Q480.82 787.36 481.8 781.69 Q482.78 787.36 484.02 792Z" fill="#60e0b0" opacity="0.7" filter="url(#blurh)"/>
<path d="M534.93 792 Q538.24 775.8 540.89 756 Q542.96 775.8 545.66 792Z" fill="#0b3be0" opacity="0.8" filter="url(#blur1)"/>
<path d="M536.6 792 Q538.89 777.1 540.74 758.88 Q542.15 777.1 544 792Z" fill="#19c0e8" opacity="0.95" filter="url(#blurh)"/>
<path d="M538.01 792 Q539.29 781.96 540.3 769.68 Q541.31 781.96 542.59 792Z" fill="#7cf07a" opacity="0.9" filter="url(#blurh)"/>
<ellipse cx="540.3" cy="781.2" rx="1.78" ry="4.68" fill="#ffd828" opacity="0.95" filter="url(#blurh)"/>
<path d="M543.93 792 Q547.24 775.8 549.89 756 Q551.96 775.8 554.66 792Z" fill="#0b3be0" opacity="0.8" filter="url(#blur1)"/>
<path d="M545.6 792 Q547.89 777.1 549.74 758.88 Q551.15 777.1 553 792Z" fill="#19c0e8" opacity="0.95" filter="url(#blurh)"/>
<path d="M547.01 792 Q548.29 781.96 549.3 769.68 Q550.31 781.96 551.59 792Z" fill="#7cf07a" opacity="0.9" filter="url(#blurh)"/>
<ellipse cx="549.3" cy="781.2" rx="1.78" ry="4.68" fill="#ffd828" opacity="0.95" filter="url(#blurh)"/>
<ellipse cx="549" cy="780.12" rx="0.89" ry="2.16" fill="#ff4010" opacity="1" filter="url(#blurh)"/>
<path d="M551.3 792 Q557.05 775.8 561.68 756 Q565.28 775.8 570 792Z" fill="#0b3be0" opacity="0.8" filter="url(#blur1)"/>
<path d="M554.2 792 Q558.2 777.1 561.42 758.88 Q563.88 777.1 567.1 792Z" fill="#19c0e8" opacity="0.95" filter="url(#blurh)"/>
<path d="M556.65 792 Q558.89 781.96 560.65 769.68 Q562.41 781.96 564.65 792Z" fill="#7cf07a" opacity="0.9" filter="url(#blurh)"/>
<ellipse cx="560.65" cy="781.2" rx="3.1" ry="4.68" fill="#ffd828" opacity="0.95" filter="url(#blurh)"/>
<ellipse cx="560.13" cy="780.12" rx="1.55" ry="2.16" fill="#ff4010" opacity="1" filter="url(#blurh)"/>
<ellipse cx="559.1" cy="777.6" rx="2.06" ry="2.52" fill="#ff3010" opacity="1" filter="url(#blurh)"/>
<path d="M566.83 792 Q570.53 775.8 573.51 756 Q575.83 775.8 578.87 792Z" fill="#0b3be0" opacity="0.8" filter="url(#blur1)"/>
<path d="M568.7 792 Q571.27 777.1 573.35 758.88 Q574.93 777.1 577 792Z" fill="#19c0e8" opacity="0.95" filter="url(#blurh)"/>
<path d="M570.36 792 Q571.75 783.9 572.85 774 Q573.95 783.9 575.34 792Z" fill="#60e0b0" opacity="0.7" filter="url(#blurh)"/>
</g>
<g filter="url(#grainj2)">
<line x1="468.11" y1="789" x2="476.29" y2="789" stroke="#a8f050" stroke-width="1" opacity="0.9"/>
<line x1="468.38" y1="785.7" x2="476.02" y2="785.7" stroke="#a8f050" stroke-width="1" opacity="0.9"/>
<line x1="468.64" y1="782.4" x2="475.76" y2="782.4" stroke="#a8f050" stroke-width="1" opacity="0.9"/>
<line x1="468.9" y1="779.1" x2="475.5" y2="779.1" stroke="#a8f050" stroke-width="1" opacity="0.9"/>
<line x1="469.17" y1="775.8" x2="475.23" y2="775.8" stroke="#40d0f0" stroke-width="1" opacity="0.9"/>
<line x1="469.43" y1="772.5" x2="474.97" y2="772.5" stroke="#40d0f0" stroke-width="1" opacity="0.9"/>
<line x1="469.69" y1="769.2" x2="474.71" y2="769.2" stroke="#40d0f0" stroke-width="1" opacity="0.9"/>
<line x1="469.95" y1="765.9" x2="474.45" y2="765.9" stroke="#40d0f0" stroke-width="1" opacity="0.9"/>
<line x1="470.22" y1="762.6" x2="474.18" y2="762.6" stroke="#40d0f0" stroke-width="1" opacity="0.9"/>
<line x1="470.48" y1="759.3" x2="473.92" y2="759.3" stroke="#40d0f0" stroke-width="1" opacity="0.9"/>
<line x1="478.29" y1="789" x2="485.31" y2="789" stroke="#a8f050" stroke-width="1" opacity="0.9"/>
<line x1="478.69" y1="785.7" x2="484.91" y2="785.7" stroke="#ffe030" stroke-width="1" opacity="0.9"/>
<line x1="479.1" y1="782.4" x2="484.5" y2="782.4" stroke="#ffe030" stroke-width="1" opacity="0.9"/>
<line x1="479.51" y1="779.1" x2="484.09" y2="779.1" stroke="#40d0f0" stroke-width="1" opacity="0.9"/>
<line x1="479.91" y1="775.8" x2="483.69" y2="775.8" stroke="#40d0f0" stroke-width="1" opacity="0.9"/>
<line x1="480.32" y1="772.5" x2="483.28" y2="772.5" stroke="#40d0f0" stroke-width="1" opacity="0.9"/>
<line x1="568.91" y1="789" x2="576.79" y2="789" stroke="#a8f050" stroke-width="1" opacity="0.9"/>
<line x1="569.16" y1="785.7" x2="576.54" y2="785.7" stroke="#a8f050" stroke-width="1" opacity="0.9"/>
<line x1="569.41" y1="782.4" x2="576.29" y2="782.4" stroke="#a8f050" stroke-width="1" opacity="0.9"/>
<line x1="569.67" y1="779.1" x2="576.03" y2="779.1" stroke="#a8f050" stroke-width="1" opacity="0.9"/>
<line x1="569.92" y1="775.8" x2="575.78" y2="775.8" stroke="#40d0f0" stroke-width="1" opacity="0.9"/>
<line x1="570.18" y1="772.5" x2="575.52" y2="772.5" stroke="#40d0f0" stroke-width="1" opacity="0.9"/>
<line x1="570.43" y1="769.2" x2="575.27" y2="769.2" stroke="#40d0f0" stroke-width="1" opacity="0.9"/>
<line x1="570.68" y1="765.9" x2="575.02" y2="765.9" stroke="#40d0f0" stroke-width="1" opacity="0.9"/>
<line x1="570.94" y1="762.6" x2="574.76" y2="762.6" stroke="#40d0f0" stroke-width="1" opacity="0.9"/>
<line x1="571.19" y1="759.3" x2="574.51" y2="759.3" stroke="#40d0f0" stroke-width="1" opacity="0.9"/>
</g>
<rect x="398.7" y="754.5" width="199.1" height="38.7" fill="url(#ghz)" filter="url(#grainhz)" opacity="0.15"/>
<rect x="398.7" y="792" width="199.1" height="1.2" fill="#0a50d8"/>
<line x1="398.7" y1="792.66" x2="597.8" y2="792.66" stroke="#22b8e8" stroke-width="0.54" stroke-dasharray="1.5 2.2 0.8 1.4 2.4 1.1" opacity="0.85"/>
</g>
<rect x="421" y="795.3" width="6.4" height="2" fill="#c9b9b9"/>
<text x="424.2" y="808" font-size="9.4" fill="#c9b9b9" text-anchor="middle">i</text>
<rect x="436.4" y="795.3" width="7.4" height="2" fill="#7a4a2a"/>
<text x="440.1" y="808" font-size="9.4" fill="#7a4a2a" text-anchor="middle">A</text>
<rect x="445.4" y="795.3" width="7" height="2" fill="#f5b080"/>
<text x="448.9" y="808" font-size="9.4" fill="#f5b080" text-anchor="middle">B</text>
<rect x="453.7" y="795.3" width="12.5" height="2" fill="#c87a4a"/>
<text x="459.95" y="808" font-size="9.4" fill="#c87a4a" text-anchor="middle">C</text>
<rect x="467.9" y="795.3" width="8.6" height="2" fill="#6a5a50"/>
<text x="472.2" y="808" font-size="9.4" fill="#6a5a50" text-anchor="middle">D</text>
<rect x="478.1" y="795.3" width="7.4" height="2" fill="#b8a8a0"/>
<text x="481.8" y="808" font-size="9.4" fill="#b8a8a0" text-anchor="middle">E</text>
<rect x="536.6" y="795.3" width="7.4" height="2" fill="#7a4a2a"/>
<text x="540.3" y="808" font-size="9.4" fill="#7a4a2a" text-anchor="middle">A</text>
<rect x="545.6" y="795.3" width="7.4" height="2" fill="#f5b080"/>
<text x="549.3" y="808" font-size="9.4" fill="#f5b080" text-anchor="middle">B</text>
<rect x="554.2" y="795.3" width="12.9" height="2" fill="#c87a4a"/>
<text x="560.65" y="808" font-size="9.4" fill="#c87a4a" text-anchor="middle">C</text>
<rect x="568.7" y="795.3" width="8.3" height="2" fill="#6a5a50"/>
<text x="572.85" y="808" font-size="9.4" fill="#6a5a50" text-anchor="middle">D</text>
<line x1="487.8" y1="794.4" x2="487.8" y2="808.5" stroke="#f01010" stroke-width="2.1" stroke-dasharray="2.7 1.2"/>
<line x1="579.6" y1="794.4" x2="579.6" y2="808.5" stroke="#f01010" stroke-width="2.1" stroke-dasharray="2.7 1.2"/>
<rect x="416.1" y="812.4" width="13.9" height="1.6" fill="#c4b5b5"/>
<rect x="434.8" y="812.4" width="27.3" height="1.6" fill="#777"/>
<path d="M461.6 814 l0 -1.8 l3 1.8z" fill="#f01010" stroke="none" stroke-width="0.6"/>
<rect x="486.2" y="812.4" width="6.4" height="1.6" fill="#c4b5b5"/>
<rect x="495.1" y="812.4" width="16.7" height="1.6" fill="#777"/>
<path d="M511.3 814 l0 -1.8 l3 1.8z" fill="#f01010" stroke="none" stroke-width="0.6"/>
<rect x="565.5" y="812.4" width="6.4" height="1.6" fill="#777"/>
<path d="M571.4 814 l0 -1.8 l3 1.8z" fill="#f01010" stroke="none" stroke-width="0.6"/>
<rect x="398.7" y="816.2" width="199.1" height="38.8" fill="#000004"/>
<g clip-path="url(#cpj3)">
<g filter="url(#grainj)">
<path d="M414.8 853.8 Q417.38 844.43 419.46 832.98 Q421.08 844.43 423.2 853.8Z" fill="#0b3be0" opacity="0.8" filter="url(#blur1)"/>
<path d="M416.1 853.8 Q417.9 845.18 419.35 834.64 Q420.45 845.18 421.9 853.8Z" fill="#19c0e8" opacity="0.95" filter="url(#blurh)"/>
<path d="M417.2 853.8 Q418.21 847.99 419 840.89 Q419.79 847.99 420.8 853.8Z" fill="#7cf07a" opacity="0.9" filter="url(#blurh)"/>
<path d="M422.19 853.8 Q424.78 845.32 426.86 834.96 Q428.48 845.32 430.6 853.8Z" fill="#0b3be0" opacity="0.8" filter="url(#blur1)"/>
<path d="M423.5 853.8 Q425.3 846 426.75 836.47 Q427.85 846 429.3 853.8Z" fill="#19c0e8" opacity="0.95" filter="url(#blurh)"/>
<path d="M424.6 853.8 Q425.61 848.54 426.4 842.12 Q427.19 848.54 428.2 853.8Z" fill="#7cf07a" opacity="0.9" filter="url(#blurh)"/>
<path d="M431.18 853.8 Q435.19 837.56 438.42 817.7 Q440.93 837.56 444.22 853.8Z" fill="#0b3be0" opacity="0.8" filter="url(#blur1)"/>
<path d="M433.2 853.8 Q435.99 838.86 438.24 820.59 Q439.95 838.86 442.2 853.8Z" fill="#19c0e8" opacity="0.95" filter="url(#blurh)"/>
<path d="M434.91 853.8 Q436.47 843.73 437.7 831.42 Q438.93 843.73 440.49 853.8Z" fill="#7cf07a" opacity="0.9" filter="url(#blurh)"/>
<ellipse cx="437.7" cy="842.97" rx="2.16" ry="4.69" fill="#ffd828" opacity="0.95" filter="url(#blurh)"/>
<path d="M441.74 853.8 Q445.04 837.56 447.69 817.7 Q449.76 837.56 452.47 853.8Z" fill="#0b3be0" opacity="0.8" filter="url(#blur1)"/>
<path d="M443.4 853.8 Q445.69 838.86 447.54 820.59 Q448.95 838.86 450.8 853.8Z" fill="#19c0e8" opacity="0.95" filter="url(#blurh)"/>
<path d="M444.81 853.8 Q446.09 843.73 447.1 831.42 Q448.11 843.73 449.39 853.8Z" fill="#7cf07a" opacity="0.9" filter="url(#blurh)"/>
<ellipse cx="447.1" cy="842.97" rx="1.78" ry="4.69" fill="#ffd828" opacity="0.95" filter="url(#blurh)"/>
<ellipse cx="446.8" cy="841.89" rx="0.89" ry="2.17" fill="#ff4010" opacity="1" filter="url(#blurh)"/>
<path d="M450.07 853.8 Q453.5 837.56 456.27 817.7 Q458.41 837.56 461.23 853.8Z" fill="#0b3be0" opacity="0.8" filter="url(#blur1)"/>
<path d="M451.8 853.8 Q454.19 838.86 456.11 820.59 Q457.57 838.86 459.5 853.8Z" fill="#19c0e8" opacity="0.95" filter="url(#blurh)"/>
<path d="M453.26 853.8 Q454.6 843.73 455.65 831.42 Q456.7 843.73 458.04 853.8Z" fill="#7cf07a" opacity="0.9" filter="url(#blurh)"/>
<ellipse cx="455.65" cy="842.97" rx="1.85" ry="4.69" fill="#ffd828" opacity="0.95" filter="url(#blurh)"/>
<ellipse cx="455.34" cy="841.89" rx="0.92" ry="2.17" fill="#ff4010" opacity="1" filter="url(#blurh)"/>
<ellipse cx="454.73" cy="839.36" rx="1.23" ry="2.53" fill="#ff3010" opacity="1" filter="url(#blurh)"/>
<path d="M483.69 853.8 Q486.68 841.75 489.09 827.03 Q490.96 841.75 493.41 853.8Z" fill="#0b3be0" opacity="0.8" filter="url(#blur1)"/>
<path d="M485.2 853.8 Q487.28 842.72 488.95 829.17 Q490.22 842.72 491.9 853.8Z" fill="#19c0e8" opacity="0.95" filter="url(#blurh)"/>
<path d="M486.47 853.8 Q487.64 846.33 488.55 837.2 Q489.46 846.33 490.63 853.8Z" fill="#7cf07a" opacity="0.9" filter="url(#blurh)"/>
<path d="M492.91 853.8 Q496.66 837.56 499.67 817.7 Q502.02 837.56 505.09 853.8Z" fill="#0b3be0" opacity="0.8" filter="url(#blur1)"/>
<path d="M494.8 853.8 Q497.4 838.86 499.5 820.59 Q501.1 838.86 503.2 853.8Z" fill="#19c0e8" opacity="0.95" filter="url(#blurh)"/>
<path d="M496.4 853.8 Q497.85 843.73 499 831.42 Q500.15 843.73 501.6 853.8Z" fill="#7cf07a" opacity="0.9" filter="url(#blurh)"/>
<ellipse cx="499" cy="842.97" rx="2.02" ry="4.69" fill="#ffd828" opacity="0.95" filter="url(#blurh)"/>
<path d="M502.86 853.8 Q506.11 837.56 508.73 817.7 Q510.77 837.56 513.44 853.8Z" fill="#0b3be0" opacity="0.8" filter="url(#blur1)"/>
<path d="M504.5 853.8 Q506.76 838.86 508.59 820.59 Q509.97 838.86 511.8 853.8Z" fill="#19c0e8" opacity="0.95" filter="url(#blurh)"/>
<path d="M505.89 853.8 Q507.15 843.73 508.15 831.42 Q509.15 843.73 510.41 853.8Z" fill="#7cf07a" opacity="0.9" filter="url(#blurh)"/>
<ellipse cx="508.15" cy="842.97" rx="1.75" ry="4.69" fill="#ffd828" opacity="0.95" filter="url(#blurh)"/>
<ellipse cx="507.86" cy="841.89" rx="0.88" ry="2.17" fill="#ff4010" opacity="1" filter="url(#blurh)"/>
<path d="M563.13 853.8 Q566.44 837.56 569.09 817.7 Q571.16 837.56 573.87 853.8Z" fill="#0b3be0" opacity="0.8" filter="url(#blur1)"/>
<path d="M564.8 853.8 Q567.09 838.86 568.94 820.59 Q570.35 838.86 572.2 853.8Z" fill="#19c0e8" opacity="0.95" filter="url(#blurh)"/>
<path d="M566.21 853.8 Q567.49 843.73 568.5 831.42 Q569.51 843.73 570.79 853.8Z" fill="#7cf07a" opacity="0.9" filter="url(#blurh)"/>
<ellipse cx="568.5" cy="842.97" rx="1.78" ry="4.69" fill="#ffd828" opacity="0.95" filter="url(#blurh)"/>
</g>
<g filter="url(#grainj2)">
</g>
<rect x="398.7" y="816.2" width="199.1" height="38.8" fill="url(#ghz)" filter="url(#grainhz)" opacity="0.15"/>
<rect x="398.7" y="853.8" width="199.1" height="1.2" fill="#0a50d8"/>
<line x1="398.7" y1="854.46" x2="597.8" y2="854.46" stroke="#22b8e8" stroke-width="0.54" stroke-dasharray="1.5 2.2 0.8 1.4 2.4 1.1" opacity="0.85"/>
</g>
<rect x="416.1" y="857" width="5.8" height="2" fill="#c9b9b9"/>
<text x="419" y="870.2" font-size="9.4" fill="#c9b9b9" text-anchor="middle">i</text>
<rect x="423.5" y="857" width="5.8" height="2" fill="#c9b9b9"/>
<text x="426.4" y="870.2" font-size="9.4" fill="#c9b9b9" text-anchor="middle">i</text>
<rect x="433.2" y="857" width="9" height="2" fill="#7a4a2a"/>
<text x="437.7" y="870.2" font-size="9.4" fill="#7a4a2a" text-anchor="middle">A</text>
<rect x="443.4" y="857" width="7.4" height="2" fill="#f5b080"/>
<text x="447.1" y="870.2" font-size="9.4" fill="#f5b080" text-anchor="middle">B</text>
<rect x="451.8" y="857" width="7.7" height="2" fill="#c87a4a"/>
<text x="455.65" y="870.2" font-size="9.4" fill="#c87a4a" text-anchor="middle">C</text>
<rect x="485.2" y="857" width="6.7" height="2" fill="#c9b9b9"/>
<text x="488.55" y="870.2" font-size="9.4" fill="#c9b9b9" text-anchor="middle">i</text>
<rect x="494.8" y="857" width="8.4" height="2" fill="#7a4a2a"/>
<text x="499" y="870.2" font-size="9.4" fill="#7a4a2a" text-anchor="middle">A</text>
<rect x="504.5" y="857" width="7.3" height="2" fill="#f5b080"/>
<text x="508.15" y="870.2" font-size="9.4" fill="#f5b080" text-anchor="middle">B</text>
<rect x="564.8" y="857" width="7.4" height="2" fill="#7a4a2a"/>
<text x="568.5" y="870.2" font-size="9.4" fill="#7a4a2a" text-anchor="middle">A</text>
<line x1="461.1" y1="856.2" x2="461.1" y2="870.6" stroke="#f01010" stroke-width="2.1" stroke-dasharray="2.7 1.2"/>
<line x1="514.1" y1="856.2" x2="514.1" y2="870.6" stroke="#f01010" stroke-width="2.1" stroke-dasharray="2.7 1.2"/>
<line x1="574.5" y1="856.2" x2="574.5" y2="870.6" stroke="#f01010" stroke-width="2.1" stroke-dasharray="2.7 1.2"/>
<rect x="400.1" y="875.7" width="33.1" height="1.6" fill="#c4b5b5"/>
<rect x="434.8" y="875.7" width="11.2" height="1.6" fill="#777"/>
<path d="M445.5 877.3 l0 -1.8 l3 1.8z" fill="#f01010" stroke="none" stroke-width="0.6"/>
<rect x="453.1" y="875.7" width="5.8" height="1.6" fill="#c4b5b5"/>
<rect x="461.4" y="875.7" width="31.2" height="1.6" fill="#777"/>
<path d="M492.1 877.3 l0 -1.8 l3 1.8z" fill="#f01010" stroke="none" stroke-width="0.6"/>
<rect x="506.1" y="875.7" width="10.6" height="1.6" fill="#777"/>
<path d="M516.2 877.3 l0 -1.8 l3 1.8z" fill="#f01010" stroke="none" stroke-width="0.6"/>
<rect x="582.5" y="875.7" width="8" height="1.6" fill="#777"/>
<path d="M590 877.3 l0 -1.8 l3 1.8z" fill="#f01010" stroke="none" stroke-width="0.6"/>
<rect x="637.3" y="875.7" width="9.2" height="1.6" fill="#777"/>
<path d="M646 877.3 l0 -1.8 l3 1.8z" fill="#f01010" stroke="none" stroke-width="0.6"/>
<rect x="398.7" y="879.5" width="286.3" height="38.7" fill="#000004"/>
<g clip-path="url(#cpj4)">
<g filter="url(#grainj)">
<path d="M402.86 917 Q405.71 906.17 408.01 892.93 Q409.8 906.17 412.14 917Z" fill="#0b3be0" opacity="0.8" filter="url(#blur1)"/>
<path d="M404.3 917 Q406.28 907.04 407.88 894.86 Q409.1 907.04 410.7 917Z" fill="#19c0e8" opacity="0.95" filter="url(#blurh)"/>
<path d="M405.52 917 Q406.63 910.28 407.5 902.08 Q408.37 910.28 409.48 917Z" fill="#7cf07a" opacity="0.9" filter="url(#blurh)"/>
<path d="M410.86 917 Q413.71 905.23 416.01 890.84 Q417.8 905.23 420.14 917Z" fill="#0b3be0" opacity="0.8" filter="url(#blur1)"/>
<path d="M412.3 917 Q414.28 906.17 415.88 892.94 Q417.1 906.17 418.7 917Z" fill="#19c0e8" opacity="0.95" filter="url(#blurh)"/>
<path d="M413.52 917 Q414.63 909.7 415.5 900.78 Q416.37 909.7 417.48 917Z" fill="#7cf07a" opacity="0.9" filter="url(#blurh)"/>
<path d="M426.96 917 Q429.81 905.16 432.11 890.7 Q433.9 905.16 436.24 917Z" fill="#0b3be0" opacity="0.8" filter="url(#blur1)"/>
<path d="M428.4 917 Q430.38 906.11 431.98 892.8 Q433.2 906.11 434.8 917Z" fill="#19c0e8" opacity="0.95" filter="url(#blurh)"/>
<path d="M429.62 917 Q430.73 909.66 431.6 900.69 Q432.47 909.66 433.58 917Z" fill="#7cf07a" opacity="0.9" filter="url(#blurh)"/>
<path d="M434.6 917 Q438.17 900.8 441.04 881 Q443.27 900.8 446.2 917Z" fill="#0b3be0" opacity="0.8" filter="url(#blur1)"/>
<path d="M436.4 917 Q438.88 902.1 440.88 883.88 Q442.4 902.1 444.4 917Z" fill="#19c0e8" opacity="0.95" filter="url(#blurh)"/>
<path d="M437.92 917 Q439.31 906.96 440.4 894.68 Q441.49 906.96 442.88 917Z" fill="#7cf07a" opacity="0.9" filter="url(#blurh)"/>
<ellipse cx="440.4" cy="906.2" rx="1.92" ry="4.68" fill="#ffd828" opacity="0.95" filter="url(#blurh)"/>
<path d="M450.2 917 Q453.37 908.33 455.92 897.74 Q457.9 908.33 460.5 917Z" fill="#0b3be0" opacity="0.8" filter="url(#blur1)"/>
<path d="M451.8 917 Q454 909.03 455.78 899.28 Q457.13 909.03 458.9 917Z" fill="#19c0e8" opacity="0.95" filter="url(#blurh)"/>
<path d="M453.15 917 Q454.38 911.63 455.35 905.06 Q456.32 911.63 457.55 917Z" fill="#7cf07a" opacity="0.9" filter="url(#blurh)"/>
<path d="M459.44 917 Q463.32 900.8 466.45 881 Q468.87 900.8 472.06 917Z" fill="#0b3be0" opacity="0.8" filter="url(#blur1)"/>
<path d="M461.4 917 Q464.1 902.1 466.27 883.88 Q467.93 902.1 470.1 917Z" fill="#19c0e8" opacity="0.95" filter="url(#blurh)"/>
<path d="M463.05 917 Q464.56 906.96 465.75 894.68 Q466.94 906.96 468.45 917Z" fill="#7cf07a" opacity="0.9" filter="url(#blurh)"/>
<ellipse cx="465.75" cy="906.2" rx="2.09" ry="4.68" fill="#ffd828" opacity="0.95" filter="url(#blurh)"/>
<path d="M469.9 917 Q473.47 900.8 476.34 881 Q478.57 900.8 481.5 917Z" fill="#0b3be0" opacity="0.8" filter="url(#blur1)"/>
<path d="M471.7 917 Q474.18 902.1 476.18 883.88 Q477.7 902.1 479.7 917Z" fill="#19c0e8" opacity="0.95" filter="url(#blurh)"/>
<path d="M473.22 917 Q474.61 906.96 475.7 894.68 Q476.79 906.96 478.18 917Z" fill="#7cf07a" opacity="0.9" filter="url(#blurh)"/>
<ellipse cx="475.7" cy="906.2" rx="1.92" ry="4.68" fill="#ffd828" opacity="0.95" filter="url(#blurh)"/>
<ellipse cx="475.38" cy="905.12" rx="0.96" ry="2.16" fill="#ff4010" opacity="1" filter="url(#blurh)"/>
<path d="M478.38 917 Q482.98 900.8 486.67 881 Q489.55 900.8 493.32 917Z" fill="#0b3be0" opacity="0.8" filter="url(#blur1)"/>
<path d="M480.7 917 Q483.89 902.1 486.47 883.88 Q488.43 902.1 491 917Z" fill="#19c0e8" opacity="0.95" filter="url(#blurh)"/>
<path d="M482.66 917 Q484.45 906.96 485.85 894.68 Q487.25 906.96 489.04 917Z" fill="#7cf07a" opacity="0.9" filter="url(#blurh)"/>
<ellipse cx="485.85" cy="906.2" rx="2.47" ry="4.68" fill="#ffd828" opacity="0.95" filter="url(#blurh)"/>
<ellipse cx="485.44" cy="905.12" rx="1.24" ry="2.16" fill="#ff4010" opacity="1" filter="url(#blurh)"/>
<ellipse cx="484.61" cy="902.6" rx="1.65" ry="2.52" fill="#ff3010" opacity="1" filter="url(#blurh)"/>
<path d="M504.44 917 Q507.74 900.8 510.39 881 Q512.46 900.8 515.16 917Z" fill="#0b3be0" opacity="0.8" filter="url(#blur1)"/>
<path d="M506.1 917 Q508.39 902.1 510.24 883.88 Q511.65 902.1 513.5 917Z" fill="#19c0e8" opacity="0.95" filter="url(#blurh)"/>
<path d="M507.51 917 Q508.79 906.96 509.8 894.68 Q510.81 906.96 512.09 917Z" fill="#7cf07a" opacity="0.9" filter="url(#blurh)"/>
<ellipse cx="509.8" cy="906.2" rx="1.78" ry="4.68" fill="#ffd828" opacity="0.95" filter="url(#blurh)"/>
<path d="M581.43 917 Q584.74 900.8 587.39 881 Q589.46 900.8 592.16 917Z" fill="#0b3be0" opacity="0.8" filter="url(#blur1)"/>
<path d="M583.1 917 Q585.39 902.1 587.24 883.88 Q588.65 902.1 590.5 917Z" fill="#19c0e8" opacity="0.95" filter="url(#blurh)"/>
<path d="M584.51 917 Q585.79 906.96 586.8 894.68 Q587.81 906.96 589.09 917Z" fill="#7cf07a" opacity="0.9" filter="url(#blurh)"/>
<ellipse cx="586.8" cy="906.2" rx="1.78" ry="4.68" fill="#ffd828" opacity="0.95" filter="url(#blurh)"/>
<path d="M636.13 917 Q639.44 900.8 642.09 881 Q644.16 900.8 646.87 917Z" fill="#0b3be0" opacity="0.8" filter="url(#blur1)"/>
<path d="M637.8 917 Q640.09 902.1 641.94 883.88 Q643.35 902.1 645.2 917Z" fill="#19c0e8" opacity="0.95" filter="url(#blurh)"/>
<path d="M639.21 917 Q640.49 906.96 641.5 894.68 Q642.51 906.96 643.79 917Z" fill="#7cf07a" opacity="0.9" filter="url(#blurh)"/>
<ellipse cx="641.5" cy="906.2" rx="1.78" ry="4.68" fill="#ffd828" opacity="0.95" filter="url(#blurh)"/>
<ellipse cx="534.5" cy="900.9" rx="6" ry="16.74" fill="#0a34c8" opacity="0.6" filter="url(#blur1)"/>
<path d="M542.54 917 Q545.44 900.97 547.77 881.38 Q549.58 900.97 551.96 917Z" fill="#0b3be0" opacity="0.8" filter="url(#blur1)"/>
<path d="M544 917 Q546.02 902.25 547.64 884.23 Q548.88 902.25 550.5 917Z" fill="#19c0e8" opacity="0.95" filter="url(#blurh)"/>
<path d="M545.24 917 Q546.36 907.06 547.25 894.91 Q548.14 907.06 549.26 917Z" fill="#7cf07a" opacity="0.9" filter="url(#blurh)"/>
<path d="M518.88 917 Q521.11 905.14 522.9 890.65 Q524.3 905.14 526.12 917Z" fill="#0b3be0" opacity="0.8" filter="url(#blur1)"/>
<path d="M520 917 Q521.55 906.09 522.8 892.76 Q523.75 906.09 525 917Z" fill="#19c0e8" opacity="0.95" filter="url(#blurh)"/>
<path d="M520.95 917 Q521.82 909.65 522.5 900.66 Q523.18 909.65 524.05 917Z" fill="#7cf07a" opacity="0.9" filter="url(#blurh)"/>
<path d="M555.88 917 Q558.11 909.76 559.9 900.91 Q561.3 909.76 563.12 917Z" fill="#0b3be0" opacity="0.8" filter="url(#blur1)"/>
<path d="M557 917 Q558.55 910.34 559.8 902.19 Q560.75 910.34 562 917Z" fill="#19c0e8" opacity="0.95" filter="url(#blurh)"/>
<path d="M557.95 917 Q558.82 912.51 559.5 907.02 Q560.18 912.51 561.05 917Z" fill="#7cf07a" opacity="0.9" filter="url(#blurh)"/>
</g>
<g filter="url(#grainj2)">
<line x1="528.98" y1="914.5" x2="540.02" y2="914.5" stroke="#a8f050" stroke-width="1.1" opacity="0.95"/>
<line x1="528.98" y1="911.4" x2="540.02" y2="911.4" stroke="#ffe030" stroke-width="1.1" opacity="0.95"/>
<line x1="528.98" y1="908.3" x2="540.02" y2="908.3" stroke="#ffb020" stroke-width="1.1" opacity="0.95"/>
<line x1="528.98" y1="905.2" x2="540.02" y2="905.2" stroke="#d8f040" stroke-width="1.1" opacity="0.95"/>
<line x1="528.98" y1="902.1" x2="540.02" y2="902.1" stroke="#a8f050" stroke-width="1.1" opacity="0.95"/>
<line x1="528.98" y1="899" x2="540.02" y2="899" stroke="#30d8e8" stroke-width="1.1" opacity="0.95"/>
<line x1="528.98" y1="895.9" x2="540.02" y2="895.9" stroke="#2a9cf0" stroke-width="1.1" opacity="0.95"/>
<line x1="530" y1="892.8" x2="539" y2="892.8" stroke="#2a7cf0" stroke-width="1.1" opacity="0.95"/>
<line x1="530" y1="889.7" x2="539" y2="889.7" stroke="#2a7cf0" stroke-width="1.1" opacity="0.95"/>
<line x1="530" y1="886.6" x2="539" y2="886.6" stroke="#2a7cf0" stroke-width="1.1" opacity="0.95"/>
</g>
<rect x="398.7" y="879.5" width="286.3" height="38.7" fill="url(#ghz)" filter="url(#grainhz)" opacity="0.15"/>
<rect x="398.7" y="917" width="286.3" height="1.2" fill="#0a50d8"/>
<line x1="398.7" y1="917.66" x2="685" y2="917.66" stroke="#22b8e8" stroke-width="0.54" stroke-dasharray="1.5 2.2 0.8 1.4 2.4 1.1" opacity="0.85"/>
</g>
<rect x="404.3" y="920.3" width="6.4" height="2" fill="#c9b9b9"/>
<text x="407.5" y="933.6" font-size="9.4" fill="#c9b9b9" text-anchor="middle">i</text>
<rect x="412.3" y="920.3" width="6.4" height="2" fill="#c9b9b9"/>
<text x="415.5" y="933.6" font-size="9.4" fill="#c9b9b9" text-anchor="middle">i</text>
<rect x="428.4" y="920.3" width="6.4" height="2" fill="#c9b9b9"/>
<text x="431.6" y="933.6" font-size="9.4" fill="#c9b9b9" text-anchor="middle">i</text>
<rect x="436.4" y="920.3" width="8" height="2" fill="#7a4a2a"/>
<text x="440.4" y="933.6" font-size="9.4" fill="#7a4a2a" text-anchor="middle">A</text>
<rect x="451.8" y="920.3" width="7.1" height="2" fill="#c9b9b9"/>
<text x="455.35" y="933.6" font-size="9.4" fill="#c9b9b9" text-anchor="middle">i</text>
<rect x="461.4" y="920.3" width="8.7" height="2" fill="#7a4a2a"/>
<text x="465.75" y="933.6" font-size="9.4" fill="#7a4a2a" text-anchor="middle">A</text>
<rect x="471.7" y="920.3" width="8" height="2" fill="#f5b080"/>
<text x="475.7" y="933.6" font-size="9.4" fill="#f5b080" text-anchor="middle">B</text>
<rect x="480.7" y="920.3" width="10.3" height="2" fill="#c87a4a"/>
<text x="485.85" y="933.6" font-size="9.4" fill="#c87a4a" text-anchor="middle">C</text>
<rect x="506.1" y="920.3" width="7.4" height="2" fill="#7a4a2a"/>
<text x="509.8" y="933.6" font-size="9.4" fill="#7a4a2a" text-anchor="middle">A</text>
<rect x="583.1" y="920.3" width="7.4" height="2" fill="#7a4a2a"/>
<text x="586.8" y="933.6" font-size="9.4" fill="#7a4a2a" text-anchor="middle">A</text>
<rect x="637.8" y="920.3" width="7.4" height="2" fill="#7a4a2a"/>
<text x="641.5" y="933.6" font-size="9.4" fill="#7a4a2a" text-anchor="middle">A</text>
<line x1="446.7" y1="919.4" x2="446.7" y2="934.5" stroke="#f01010" stroke-width="2.1" stroke-dasharray="2.7 1.2"/>
<line x1="493.2" y1="919.4" x2="493.2" y2="934.5" stroke="#f01010" stroke-width="2.1" stroke-dasharray="2.7 1.2"/>
<line x1="515.7" y1="919.4" x2="515.7" y2="934.5" stroke="#f01010" stroke-width="2.1" stroke-dasharray="2.7 1.2"/>
<line x1="592.3" y1="919.4" x2="592.3" y2="934.5" stroke="#f01010" stroke-width="2.1" stroke-dasharray="2.7 1.2"/>
<line x1="647.2" y1="919.4" x2="647.2" y2="934.5" stroke="#f01010" stroke-width="2.1" stroke-dasharray="2.7 1.2"/>
<rect x="600" y="691.1" width="85" height="140.3" fill="#00000e"/>
<g clip-path="url(#cpjr)">
<rect x="600" y="691.1" width="85" height="140.3" fill="url(#grl)" filter="url(#stk1)"/>
<rect x="600" y="691.1" width="85" height="140.3" fill="#20b8e8" filter="url(#stk2)"/>
<rect x="600" y="691.1" width="85" height="140.3" fill="#70e070" filter="url(#stk3)" opacity="0.8"/>
<path d="M603 780 L612 781 L625 796 L640 808 L655 818 L670 825 L677 831.5 L603 831.5Z" fill="url(#gwd)" stroke="none" stroke-width="0.6" filter="url(#stk4)"/>
<path d="M603 780 L612 781 L625 796 L640 808 L655 818 L670 825 L677 831.5 L603 831.5Z" fill="url(#gwd2)" stroke="none" stroke-width="0.6" filter="url(#stk5)"/>
<rect x="610.3" y="790" width="5.2" height="41.5" fill="url(#ghc)" filter="url(#stk4)"/>
<rect x="607" y="812" width="12" height="19.5" fill="#38d8e0" filter="url(#stk4)" opacity="0.7"/>
<path d="M603 806 L625 808 L645 815 L662 822 L677 831.5 L603 831.5Z" fill="#30c0f0" stroke="none" stroke-width="0.6" filter="url(#stk4)" opacity="0.85"/>
<path d="M603 818 L640 820 L660 825 L672 831.5 L603 831.5Z" fill="#60e8c0" stroke="none" stroke-width="0.6" filter="url(#stk5)" opacity="0.9"/>
<line x1="611.34" y1="789" x2="614.01" y2="789" stroke="#50e090" stroke-width="1.1" opacity="0.15"/>
<line x1="610.51" y1="790.45" x2="613.67" y2="790.45" stroke="#ffe030" stroke-width="1.1" opacity="0.25"/>
<line x1="611.16" y1="791.9" x2="614.7" y2="791.9" stroke="#ff5010" stroke-width="1.1" opacity="0.15"/>
<line x1="610.01" y1="793.35" x2="614.37" y2="793.35" stroke="#50e090" stroke-width="1.1" opacity="0.36"/>
<line x1="609.97" y1="794.8" x2="612.57" y2="794.8" stroke="#50e090" stroke-width="1.1" opacity="0.19"/>
<line x1="612.12" y1="796.25" x2="616.59" y2="796.25" stroke="#a8f050" stroke-width="1.1" opacity="0.18"/>
<line x1="611.87" y1="797.7" x2="616.09" y2="797.7" stroke="#50e090" stroke-width="1.1" opacity="0.42"/>
<line x1="611.52" y1="799.15" x2="615.34" y2="799.15" stroke="#a8f050" stroke-width="1.1" opacity="0.31"/>
<line x1="611.82" y1="800.6" x2="616.1" y2="800.6" stroke="#ffe030" stroke-width="1.1" opacity="0.31"/>
<line x1="611.93" y1="802.05" x2="614.43" y2="802.05" stroke="#ff5010" stroke-width="1.1" opacity="0.48"/>
<line x1="609.66" y1="803.5" x2="612.61" y2="803.5" stroke="#50e090" stroke-width="1.1" opacity="0.38"/>
<line x1="610.21" y1="804.95" x2="614.05" y2="804.95" stroke="#ffe030" stroke-width="1.1" opacity="0.51"/>
<line x1="609.51" y1="806.4" x2="613.42" y2="806.4" stroke="#a8f050" stroke-width="1.1" opacity="0.31"/>
<line x1="610.49" y1="807.85" x2="614.72" y2="807.85" stroke="#a8f050" stroke-width="1.1" opacity="0.29"/>
<line x1="611" y1="809.3" x2="614.43" y2="809.3" stroke="#ffe030" stroke-width="1.1" opacity="0.46"/>
<line x1="610.76" y1="810.75" x2="613.76" y2="810.75" stroke="#a8f050" stroke-width="1.1" opacity="0.52"/>
<line x1="611.6" y1="812.2" x2="613.97" y2="812.2" stroke="#ffe030" stroke-width="1.1" opacity="0.66"/>
<line x1="609.66" y1="813.65" x2="613.05" y2="813.65" stroke="#ffe030" stroke-width="1.1" opacity="0.54"/>
<line x1="611.74" y1="815.1" x2="615.58" y2="815.1" stroke="#a8f050" stroke-width="1.1" opacity="0.55"/>
<line x1="609.86" y1="816.55" x2="613.63" y2="816.55" stroke="#ffe030" stroke-width="1.1" opacity="0.74"/>
<line x1="609.99" y1="818" x2="613.25" y2="818" stroke="#a8f050" stroke-width="1.1" opacity="0.66"/>
<line x1="611.27" y1="819.45" x2="615.21" y2="819.45" stroke="#a8f050" stroke-width="1.1" opacity="0.36"/>
<line x1="609.83" y1="820.9" x2="614.03" y2="820.9" stroke="#ff5010" stroke-width="1.1" opacity="0.51"/>
<line x1="610.71" y1="822.35" x2="615.17" y2="822.35" stroke="#a8f050" stroke-width="1.1" opacity="0.64"/>
<line x1="610.64" y1="823.8" x2="614.16" y2="823.8" stroke="#ffe030" stroke-width="1.1" opacity="0.35"/>
<line x1="610.14" y1="825.25" x2="613.25" y2="825.25" stroke="#ffe030" stroke-width="1.1" opacity="0.54"/>
<line x1="610.42" y1="826.7" x2="613.13" y2="826.7" stroke="#ffe030" stroke-width="1.1" opacity="0.66"/>
<line x1="609.58" y1="828.15" x2="613.53" y2="828.15" stroke="#ffe030" stroke-width="1.1" opacity="0.84"/>
<line x1="610.54" y1="829.6" x2="614.48" y2="829.6" stroke="#50e090" stroke-width="1.1" opacity="0.72"/>
<line x1="610.78" y1="831.05" x2="613.35" y2="831.05" stroke="#ffe030" stroke-width="1.1" opacity="0.98"/>
<line x1="631.41" y1="819.9" x2="634.52" y2="819.9" stroke="#50e090" stroke-width="1.1" opacity="0.6"/>
<line x1="633.01" y1="821.35" x2="635.52" y2="821.35" stroke="#a8f050" stroke-width="1.1" opacity="0.42"/>
<line x1="634.64" y1="822.8" x2="639.07" y2="822.8" stroke="#a8f050" stroke-width="1.1" opacity="0.92"/>
<line x1="634.92" y1="824.25" x2="638.74" y2="824.25" stroke="#ffe030" stroke-width="1.1" opacity="0.43"/>
<line x1="649.7" y1="824.25" x2="654.06" y2="824.25" stroke="#a8f050" stroke-width="1.1" opacity="0.74"/>
<line x1="634.8" y1="825.7" x2="637.86" y2="825.7" stroke="#ffe030" stroke-width="1.1" opacity="0.66"/>
<line x1="648.67" y1="825.7" x2="653.55" y2="825.7" stroke="#50e090" stroke-width="1.1" opacity="0.71"/>
<line x1="633.18" y1="827.15" x2="635.37" y2="827.15" stroke="#a8f050" stroke-width="1.1" opacity="0.48"/>
<line x1="650.37" y1="827.15" x2="654.76" y2="827.15" stroke="#50e090" stroke-width="1.1" opacity="0.89"/>
<line x1="630.01" y1="828.6" x2="634.16" y2="828.6" stroke="#50e090" stroke-width="1.1" opacity="0.88"/>
<line x1="649.97" y1="828.6" x2="652.26" y2="828.6" stroke="#ffe030" stroke-width="1.1" opacity="0.55"/>
<line x1="663.77" y1="828.6" x2="668.17" y2="828.6" stroke="#ffe030" stroke-width="1.1" opacity="0.49"/>
<line x1="633.74" y1="830.05" x2="638.32" y2="830.05" stroke="#ffe030" stroke-width="1.1" opacity="0.5"/>
<line x1="649.74" y1="830.05" x2="653.42" y2="830.05" stroke="#a8f050" stroke-width="1.1" opacity="0.45"/>
<line x1="666.29" y1="830.05" x2="670.07" y2="830.05" stroke="#a8f050" stroke-width="1.1" opacity="0.69"/>
<rect x="600" y="691.1" width="3.3" height="140.3" fill="#0a44e8"/>
<line x1="601.8" y1="691.1" x2="601.8" y2="831.4" stroke="#28c0f0" stroke-width="1.4" stroke-dasharray="1.2 1.6 2 1.1" opacity="0.8"/>
</g>
<line x1="600.4" y1="831.4" x2="600.4" y2="833.9" stroke="#000" stroke-width="0.5"/>
<text x="601.2" y="847.1" font-size="8.8" fill="#000" text-anchor="middle">0</text>
<line x1="628.4" y1="831.4" x2="628.4" y2="833.9" stroke="#000" stroke-width="0.5"/>
<text x="628.4" y="847.1" font-size="8.8" fill="#000" text-anchor="middle">0.5</text>
<line x1="656.6" y1="831.4" x2="656.6" y2="833.9" stroke="#000" stroke-width="0.5"/>
<text x="656.6" y="847.1" font-size="8.8" fill="#000" text-anchor="middle">1.0</text>
<text x="640.3" y="859.5" font-size="9.4" fill="#000" text-anchor="middle">Time from</text>
<text x="640.3" y="870.8" font-size="9.4" fill="#000" text-anchor="middle">motif onset (s)</text>
</svg>
</body></html>
